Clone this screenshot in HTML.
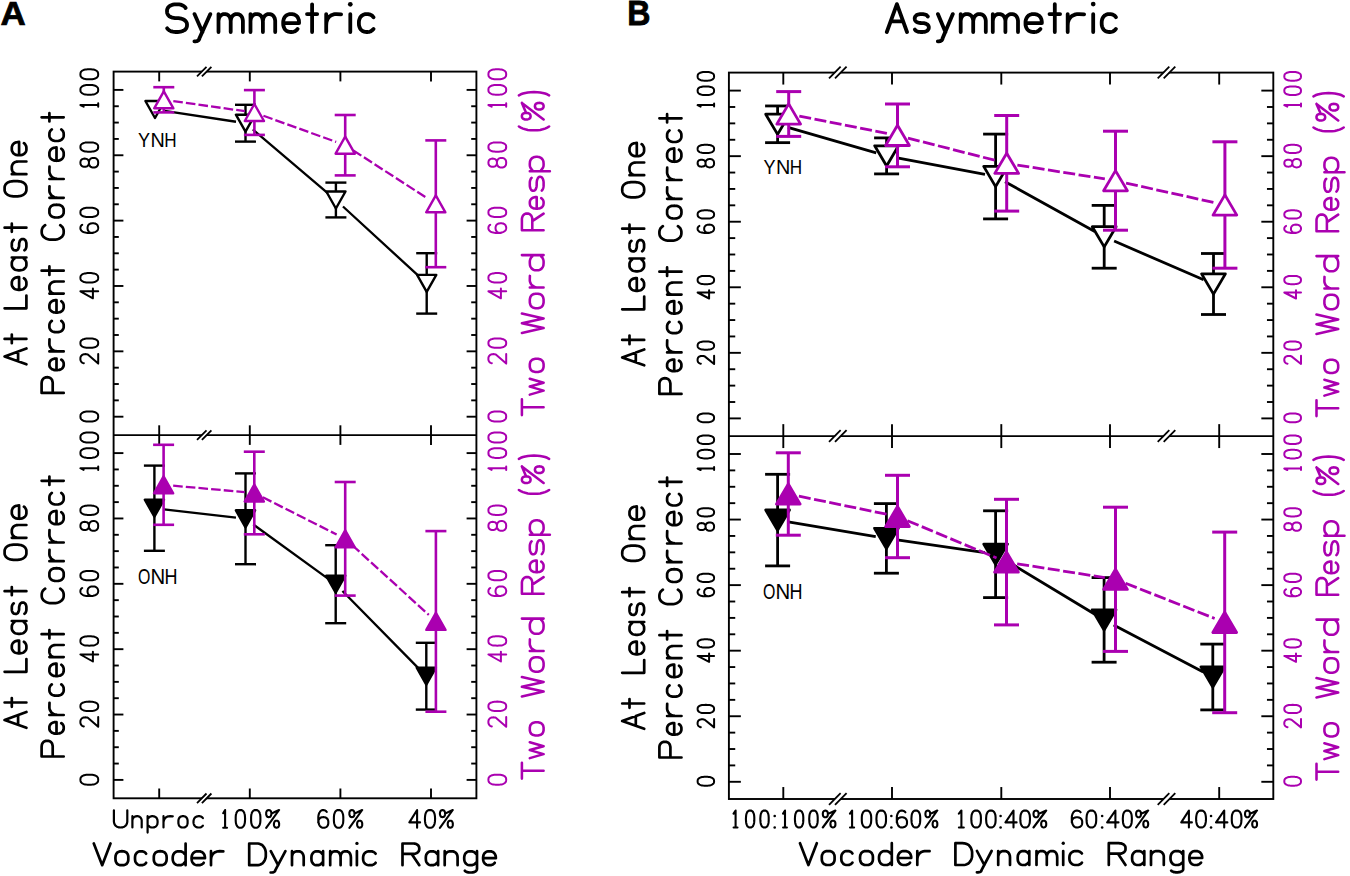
<!DOCTYPE html>
<html><head><meta charset="utf-8"><style>
html,body{margin:0;padding:0;background:#fff;overflow:hidden;width:1350px;height:876px;}
svg{display:block;}
text{font-family:"Liberation Sans",sans-serif;}
</style></head><body>
<svg width="1350" height="876" viewBox="0 0 1350 876">
<rect width="1350" height="876" fill="#fff"/>
<rect x="113.6" y="71.6" width="362.79999999999995" height="726.6999999999999" fill="none" stroke="#000" stroke-width="1.9"/>
<line x1="113.60" y1="435.10" x2="476.40" y2="435.10" stroke="#000" stroke-width="1.9" />
<line x1="159.20" y1="71.60" x2="159.20" y2="81.40" stroke="#000" stroke-width="1.9" />
<line x1="159.20" y1="425.30" x2="159.20" y2="444.90" stroke="#000" stroke-width="1.9" />
<line x1="159.20" y1="798.30" x2="159.20" y2="788.50" stroke="#000" stroke-width="1.9" />
<line x1="249.80" y1="71.60" x2="249.80" y2="81.40" stroke="#000" stroke-width="1.9" />
<line x1="249.80" y1="425.30" x2="249.80" y2="444.90" stroke="#000" stroke-width="1.9" />
<line x1="249.80" y1="798.30" x2="249.80" y2="788.50" stroke="#000" stroke-width="1.9" />
<line x1="340.40" y1="71.60" x2="340.40" y2="81.40" stroke="#000" stroke-width="1.9" />
<line x1="340.40" y1="425.30" x2="340.40" y2="444.90" stroke="#000" stroke-width="1.9" />
<line x1="340.40" y1="798.30" x2="340.40" y2="788.50" stroke="#000" stroke-width="1.9" />
<line x1="431.00" y1="71.60" x2="431.00" y2="81.40" stroke="#000" stroke-width="1.9" />
<line x1="431.00" y1="425.30" x2="431.00" y2="444.90" stroke="#000" stroke-width="1.9" />
<line x1="431.00" y1="798.30" x2="431.00" y2="788.50" stroke="#000" stroke-width="1.9" />
<line x1="113.60" y1="416.70" x2="123.40" y2="416.70" stroke="#000" stroke-width="1.9" />
<line x1="476.40" y1="416.70" x2="466.60" y2="416.70" stroke="#000" stroke-width="1.9" />
<line x1="113.60" y1="400.36" x2="118.80" y2="400.36" stroke="#000" stroke-width="1.9" />
<line x1="476.40" y1="400.36" x2="471.20" y2="400.36" stroke="#000" stroke-width="1.9" />
<line x1="113.60" y1="384.02" x2="118.80" y2="384.02" stroke="#000" stroke-width="1.9" />
<line x1="476.40" y1="384.02" x2="471.20" y2="384.02" stroke="#000" stroke-width="1.9" />
<line x1="113.60" y1="367.68" x2="118.80" y2="367.68" stroke="#000" stroke-width="1.9" />
<line x1="476.40" y1="367.68" x2="471.20" y2="367.68" stroke="#000" stroke-width="1.9" />
<line x1="113.60" y1="351.34" x2="123.40" y2="351.34" stroke="#000" stroke-width="1.9" />
<line x1="476.40" y1="351.34" x2="466.60" y2="351.34" stroke="#000" stroke-width="1.9" />
<line x1="113.60" y1="335.00" x2="118.80" y2="335.00" stroke="#000" stroke-width="1.9" />
<line x1="476.40" y1="335.00" x2="471.20" y2="335.00" stroke="#000" stroke-width="1.9" />
<line x1="113.60" y1="318.66" x2="118.80" y2="318.66" stroke="#000" stroke-width="1.9" />
<line x1="476.40" y1="318.66" x2="471.20" y2="318.66" stroke="#000" stroke-width="1.9" />
<line x1="113.60" y1="302.32" x2="118.80" y2="302.32" stroke="#000" stroke-width="1.9" />
<line x1="476.40" y1="302.32" x2="471.20" y2="302.32" stroke="#000" stroke-width="1.9" />
<line x1="113.60" y1="285.98" x2="123.40" y2="285.98" stroke="#000" stroke-width="1.9" />
<line x1="476.40" y1="285.98" x2="466.60" y2="285.98" stroke="#000" stroke-width="1.9" />
<line x1="113.60" y1="269.64" x2="118.80" y2="269.64" stroke="#000" stroke-width="1.9" />
<line x1="476.40" y1="269.64" x2="471.20" y2="269.64" stroke="#000" stroke-width="1.9" />
<line x1="113.60" y1="253.30" x2="118.80" y2="253.30" stroke="#000" stroke-width="1.9" />
<line x1="476.40" y1="253.30" x2="471.20" y2="253.30" stroke="#000" stroke-width="1.9" />
<line x1="113.60" y1="236.96" x2="118.80" y2="236.96" stroke="#000" stroke-width="1.9" />
<line x1="476.40" y1="236.96" x2="471.20" y2="236.96" stroke="#000" stroke-width="1.9" />
<line x1="113.60" y1="220.62" x2="123.40" y2="220.62" stroke="#000" stroke-width="1.9" />
<line x1="476.40" y1="220.62" x2="466.60" y2="220.62" stroke="#000" stroke-width="1.9" />
<line x1="113.60" y1="204.28" x2="118.80" y2="204.28" stroke="#000" stroke-width="1.9" />
<line x1="476.40" y1="204.28" x2="471.20" y2="204.28" stroke="#000" stroke-width="1.9" />
<line x1="113.60" y1="187.94" x2="118.80" y2="187.94" stroke="#000" stroke-width="1.9" />
<line x1="476.40" y1="187.94" x2="471.20" y2="187.94" stroke="#000" stroke-width="1.9" />
<line x1="113.60" y1="171.60" x2="118.80" y2="171.60" stroke="#000" stroke-width="1.9" />
<line x1="476.40" y1="171.60" x2="471.20" y2="171.60" stroke="#000" stroke-width="1.9" />
<line x1="113.60" y1="155.26" x2="123.40" y2="155.26" stroke="#000" stroke-width="1.9" />
<line x1="476.40" y1="155.26" x2="466.60" y2="155.26" stroke="#000" stroke-width="1.9" />
<line x1="113.60" y1="138.92" x2="118.80" y2="138.92" stroke="#000" stroke-width="1.9" />
<line x1="476.40" y1="138.92" x2="471.20" y2="138.92" stroke="#000" stroke-width="1.9" />
<line x1="113.60" y1="122.58" x2="118.80" y2="122.58" stroke="#000" stroke-width="1.9" />
<line x1="476.40" y1="122.58" x2="471.20" y2="122.58" stroke="#000" stroke-width="1.9" />
<line x1="113.60" y1="106.24" x2="118.80" y2="106.24" stroke="#000" stroke-width="1.9" />
<line x1="476.40" y1="106.24" x2="471.20" y2="106.24" stroke="#000" stroke-width="1.9" />
<line x1="113.60" y1="89.90" x2="123.40" y2="89.90" stroke="#000" stroke-width="1.9" />
<line x1="476.40" y1="89.90" x2="466.60" y2="89.90" stroke="#000" stroke-width="1.9" />
<line x1="113.60" y1="779.90" x2="123.40" y2="779.90" stroke="#000" stroke-width="1.9" />
<line x1="476.40" y1="779.90" x2="466.60" y2="779.90" stroke="#000" stroke-width="1.9" />
<line x1="113.60" y1="763.56" x2="118.80" y2="763.56" stroke="#000" stroke-width="1.9" />
<line x1="476.40" y1="763.56" x2="471.20" y2="763.56" stroke="#000" stroke-width="1.9" />
<line x1="113.60" y1="747.22" x2="118.80" y2="747.22" stroke="#000" stroke-width="1.9" />
<line x1="476.40" y1="747.22" x2="471.20" y2="747.22" stroke="#000" stroke-width="1.9" />
<line x1="113.60" y1="730.88" x2="118.80" y2="730.88" stroke="#000" stroke-width="1.9" />
<line x1="476.40" y1="730.88" x2="471.20" y2="730.88" stroke="#000" stroke-width="1.9" />
<line x1="113.60" y1="714.54" x2="123.40" y2="714.54" stroke="#000" stroke-width="1.9" />
<line x1="476.40" y1="714.54" x2="466.60" y2="714.54" stroke="#000" stroke-width="1.9" />
<line x1="113.60" y1="698.20" x2="118.80" y2="698.20" stroke="#000" stroke-width="1.9" />
<line x1="476.40" y1="698.20" x2="471.20" y2="698.20" stroke="#000" stroke-width="1.9" />
<line x1="113.60" y1="681.86" x2="118.80" y2="681.86" stroke="#000" stroke-width="1.9" />
<line x1="476.40" y1="681.86" x2="471.20" y2="681.86" stroke="#000" stroke-width="1.9" />
<line x1="113.60" y1="665.52" x2="118.80" y2="665.52" stroke="#000" stroke-width="1.9" />
<line x1="476.40" y1="665.52" x2="471.20" y2="665.52" stroke="#000" stroke-width="1.9" />
<line x1="113.60" y1="649.18" x2="123.40" y2="649.18" stroke="#000" stroke-width="1.9" />
<line x1="476.40" y1="649.18" x2="466.60" y2="649.18" stroke="#000" stroke-width="1.9" />
<line x1="113.60" y1="632.84" x2="118.80" y2="632.84" stroke="#000" stroke-width="1.9" />
<line x1="476.40" y1="632.84" x2="471.20" y2="632.84" stroke="#000" stroke-width="1.9" />
<line x1="113.60" y1="616.50" x2="118.80" y2="616.50" stroke="#000" stroke-width="1.9" />
<line x1="476.40" y1="616.50" x2="471.20" y2="616.50" stroke="#000" stroke-width="1.9" />
<line x1="113.60" y1="600.16" x2="118.80" y2="600.16" stroke="#000" stroke-width="1.9" />
<line x1="476.40" y1="600.16" x2="471.20" y2="600.16" stroke="#000" stroke-width="1.9" />
<line x1="113.60" y1="583.82" x2="123.40" y2="583.82" stroke="#000" stroke-width="1.9" />
<line x1="476.40" y1="583.82" x2="466.60" y2="583.82" stroke="#000" stroke-width="1.9" />
<line x1="113.60" y1="567.48" x2="118.80" y2="567.48" stroke="#000" stroke-width="1.9" />
<line x1="476.40" y1="567.48" x2="471.20" y2="567.48" stroke="#000" stroke-width="1.9" />
<line x1="113.60" y1="551.14" x2="118.80" y2="551.14" stroke="#000" stroke-width="1.9" />
<line x1="476.40" y1="551.14" x2="471.20" y2="551.14" stroke="#000" stroke-width="1.9" />
<line x1="113.60" y1="534.80" x2="118.80" y2="534.80" stroke="#000" stroke-width="1.9" />
<line x1="476.40" y1="534.80" x2="471.20" y2="534.80" stroke="#000" stroke-width="1.9" />
<line x1="113.60" y1="518.46" x2="123.40" y2="518.46" stroke="#000" stroke-width="1.9" />
<line x1="476.40" y1="518.46" x2="466.60" y2="518.46" stroke="#000" stroke-width="1.9" />
<line x1="113.60" y1="502.12" x2="118.80" y2="502.12" stroke="#000" stroke-width="1.9" />
<line x1="476.40" y1="502.12" x2="471.20" y2="502.12" stroke="#000" stroke-width="1.9" />
<line x1="113.60" y1="485.78" x2="118.80" y2="485.78" stroke="#000" stroke-width="1.9" />
<line x1="476.40" y1="485.78" x2="471.20" y2="485.78" stroke="#000" stroke-width="1.9" />
<line x1="113.60" y1="469.44" x2="118.80" y2="469.44" stroke="#000" stroke-width="1.9" />
<line x1="476.40" y1="469.44" x2="471.20" y2="469.44" stroke="#000" stroke-width="1.9" />
<line x1="113.60" y1="453.10" x2="123.40" y2="453.10" stroke="#000" stroke-width="1.9" />
<line x1="476.40" y1="453.10" x2="466.60" y2="453.10" stroke="#000" stroke-width="1.9" />
<polygon points="197.60,76.40 207.10,66.80 210.80,66.80 201.30,76.40" fill="#fff"/>
<line x1="197.00" y1="76.40" x2="206.50" y2="66.80" stroke="#000" stroke-width="1.8" />
<line x1="201.90" y1="76.40" x2="211.40" y2="66.80" stroke="#000" stroke-width="1.8" />
<polygon points="197.60,439.90 207.10,430.30 210.80,430.30 201.30,439.90" fill="#fff"/>
<line x1="197.00" y1="439.90" x2="206.50" y2="430.30" stroke="#000" stroke-width="1.8" />
<line x1="201.90" y1="439.90" x2="211.40" y2="430.30" stroke="#000" stroke-width="1.8" />
<polygon points="197.60,803.10 207.10,793.50 210.80,793.50 201.30,803.10" fill="#fff"/>
<line x1="197.00" y1="803.10" x2="206.50" y2="793.50" stroke="#000" stroke-width="1.8" />
<line x1="201.90" y1="803.10" x2="211.40" y2="793.50" stroke="#000" stroke-width="1.8" />
<rect x="728.9" y="72.6" width="544.4" height="726.4" fill="none" stroke="#000" stroke-width="1.9"/>
<line x1="728.90" y1="436.10" x2="1273.30" y2="436.10" stroke="#000" stroke-width="1.9" />
<line x1="783.30" y1="72.60" x2="783.30" y2="84.56" stroke="#000" stroke-width="1.9" />
<line x1="783.30" y1="424.14" x2="783.30" y2="448.06" stroke="#000" stroke-width="1.9" />
<line x1="783.30" y1="799.00" x2="783.30" y2="787.04" stroke="#000" stroke-width="1.9" />
<line x1="892.00" y1="72.60" x2="892.00" y2="84.56" stroke="#000" stroke-width="1.9" />
<line x1="892.00" y1="424.14" x2="892.00" y2="448.06" stroke="#000" stroke-width="1.9" />
<line x1="892.00" y1="799.00" x2="892.00" y2="787.04" stroke="#000" stroke-width="1.9" />
<line x1="1001.30" y1="72.60" x2="1001.30" y2="84.56" stroke="#000" stroke-width="1.9" />
<line x1="1001.30" y1="424.14" x2="1001.30" y2="448.06" stroke="#000" stroke-width="1.9" />
<line x1="1001.30" y1="799.00" x2="1001.30" y2="787.04" stroke="#000" stroke-width="1.9" />
<line x1="1110.00" y1="72.60" x2="1110.00" y2="84.56" stroke="#000" stroke-width="1.9" />
<line x1="1110.00" y1="424.14" x2="1110.00" y2="448.06" stroke="#000" stroke-width="1.9" />
<line x1="1110.00" y1="799.00" x2="1110.00" y2="787.04" stroke="#000" stroke-width="1.9" />
<line x1="1219.20" y1="72.60" x2="1219.20" y2="84.56" stroke="#000" stroke-width="1.9" />
<line x1="1219.20" y1="424.14" x2="1219.20" y2="448.06" stroke="#000" stroke-width="1.9" />
<line x1="1219.20" y1="799.00" x2="1219.20" y2="787.04" stroke="#000" stroke-width="1.9" />
<line x1="728.90" y1="418.40" x2="740.86" y2="418.40" stroke="#000" stroke-width="1.9" />
<line x1="1273.30" y1="418.40" x2="1261.34" y2="418.40" stroke="#000" stroke-width="1.9" />
<line x1="728.90" y1="402.01" x2="735.24" y2="402.01" stroke="#000" stroke-width="1.9" />
<line x1="1273.30" y1="402.01" x2="1266.96" y2="402.01" stroke="#000" stroke-width="1.9" />
<line x1="728.90" y1="385.62" x2="735.24" y2="385.62" stroke="#000" stroke-width="1.9" />
<line x1="1273.30" y1="385.62" x2="1266.96" y2="385.62" stroke="#000" stroke-width="1.9" />
<line x1="728.90" y1="369.23" x2="735.24" y2="369.23" stroke="#000" stroke-width="1.9" />
<line x1="1273.30" y1="369.23" x2="1266.96" y2="369.23" stroke="#000" stroke-width="1.9" />
<line x1="728.90" y1="352.84" x2="740.86" y2="352.84" stroke="#000" stroke-width="1.9" />
<line x1="1273.30" y1="352.84" x2="1261.34" y2="352.84" stroke="#000" stroke-width="1.9" />
<line x1="728.90" y1="336.45" x2="735.24" y2="336.45" stroke="#000" stroke-width="1.9" />
<line x1="1273.30" y1="336.45" x2="1266.96" y2="336.45" stroke="#000" stroke-width="1.9" />
<line x1="728.90" y1="320.06" x2="735.24" y2="320.06" stroke="#000" stroke-width="1.9" />
<line x1="1273.30" y1="320.06" x2="1266.96" y2="320.06" stroke="#000" stroke-width="1.9" />
<line x1="728.90" y1="303.67" x2="735.24" y2="303.67" stroke="#000" stroke-width="1.9" />
<line x1="1273.30" y1="303.67" x2="1266.96" y2="303.67" stroke="#000" stroke-width="1.9" />
<line x1="728.90" y1="287.28" x2="740.86" y2="287.28" stroke="#000" stroke-width="1.9" />
<line x1="1273.30" y1="287.28" x2="1261.34" y2="287.28" stroke="#000" stroke-width="1.9" />
<line x1="728.90" y1="270.89" x2="735.24" y2="270.89" stroke="#000" stroke-width="1.9" />
<line x1="1273.30" y1="270.89" x2="1266.96" y2="270.89" stroke="#000" stroke-width="1.9" />
<line x1="728.90" y1="254.50" x2="735.24" y2="254.50" stroke="#000" stroke-width="1.9" />
<line x1="1273.30" y1="254.50" x2="1266.96" y2="254.50" stroke="#000" stroke-width="1.9" />
<line x1="728.90" y1="238.11" x2="735.24" y2="238.11" stroke="#000" stroke-width="1.9" />
<line x1="1273.30" y1="238.11" x2="1266.96" y2="238.11" stroke="#000" stroke-width="1.9" />
<line x1="728.90" y1="221.72" x2="740.86" y2="221.72" stroke="#000" stroke-width="1.9" />
<line x1="1273.30" y1="221.72" x2="1261.34" y2="221.72" stroke="#000" stroke-width="1.9" />
<line x1="728.90" y1="205.33" x2="735.24" y2="205.33" stroke="#000" stroke-width="1.9" />
<line x1="1273.30" y1="205.33" x2="1266.96" y2="205.33" stroke="#000" stroke-width="1.9" />
<line x1="728.90" y1="188.94" x2="735.24" y2="188.94" stroke="#000" stroke-width="1.9" />
<line x1="1273.30" y1="188.94" x2="1266.96" y2="188.94" stroke="#000" stroke-width="1.9" />
<line x1="728.90" y1="172.55" x2="735.24" y2="172.55" stroke="#000" stroke-width="1.9" />
<line x1="1273.30" y1="172.55" x2="1266.96" y2="172.55" stroke="#000" stroke-width="1.9" />
<line x1="728.90" y1="156.16" x2="740.86" y2="156.16" stroke="#000" stroke-width="1.9" />
<line x1="1273.30" y1="156.16" x2="1261.34" y2="156.16" stroke="#000" stroke-width="1.9" />
<line x1="728.90" y1="139.77" x2="735.24" y2="139.77" stroke="#000" stroke-width="1.9" />
<line x1="1273.30" y1="139.77" x2="1266.96" y2="139.77" stroke="#000" stroke-width="1.9" />
<line x1="728.90" y1="123.38" x2="735.24" y2="123.38" stroke="#000" stroke-width="1.9" />
<line x1="1273.30" y1="123.38" x2="1266.96" y2="123.38" stroke="#000" stroke-width="1.9" />
<line x1="728.90" y1="106.99" x2="735.24" y2="106.99" stroke="#000" stroke-width="1.9" />
<line x1="1273.30" y1="106.99" x2="1266.96" y2="106.99" stroke="#000" stroke-width="1.9" />
<line x1="728.90" y1="90.60" x2="740.86" y2="90.60" stroke="#000" stroke-width="1.9" />
<line x1="1273.30" y1="90.60" x2="1261.34" y2="90.60" stroke="#000" stroke-width="1.9" />
<line x1="728.90" y1="781.80" x2="740.86" y2="781.80" stroke="#000" stroke-width="1.9" />
<line x1="1273.30" y1="781.80" x2="1261.34" y2="781.80" stroke="#000" stroke-width="1.9" />
<line x1="728.90" y1="765.41" x2="735.24" y2="765.41" stroke="#000" stroke-width="1.9" />
<line x1="1273.30" y1="765.41" x2="1266.96" y2="765.41" stroke="#000" stroke-width="1.9" />
<line x1="728.90" y1="749.02" x2="735.24" y2="749.02" stroke="#000" stroke-width="1.9" />
<line x1="1273.30" y1="749.02" x2="1266.96" y2="749.02" stroke="#000" stroke-width="1.9" />
<line x1="728.90" y1="732.63" x2="735.24" y2="732.63" stroke="#000" stroke-width="1.9" />
<line x1="1273.30" y1="732.63" x2="1266.96" y2="732.63" stroke="#000" stroke-width="1.9" />
<line x1="728.90" y1="716.24" x2="740.86" y2="716.24" stroke="#000" stroke-width="1.9" />
<line x1="1273.30" y1="716.24" x2="1261.34" y2="716.24" stroke="#000" stroke-width="1.9" />
<line x1="728.90" y1="699.85" x2="735.24" y2="699.85" stroke="#000" stroke-width="1.9" />
<line x1="1273.30" y1="699.85" x2="1266.96" y2="699.85" stroke="#000" stroke-width="1.9" />
<line x1="728.90" y1="683.46" x2="735.24" y2="683.46" stroke="#000" stroke-width="1.9" />
<line x1="1273.30" y1="683.46" x2="1266.96" y2="683.46" stroke="#000" stroke-width="1.9" />
<line x1="728.90" y1="667.07" x2="735.24" y2="667.07" stroke="#000" stroke-width="1.9" />
<line x1="1273.30" y1="667.07" x2="1266.96" y2="667.07" stroke="#000" stroke-width="1.9" />
<line x1="728.90" y1="650.68" x2="740.86" y2="650.68" stroke="#000" stroke-width="1.9" />
<line x1="1273.30" y1="650.68" x2="1261.34" y2="650.68" stroke="#000" stroke-width="1.9" />
<line x1="728.90" y1="634.29" x2="735.24" y2="634.29" stroke="#000" stroke-width="1.9" />
<line x1="1273.30" y1="634.29" x2="1266.96" y2="634.29" stroke="#000" stroke-width="1.9" />
<line x1="728.90" y1="617.90" x2="735.24" y2="617.90" stroke="#000" stroke-width="1.9" />
<line x1="1273.30" y1="617.90" x2="1266.96" y2="617.90" stroke="#000" stroke-width="1.9" />
<line x1="728.90" y1="601.51" x2="735.24" y2="601.51" stroke="#000" stroke-width="1.9" />
<line x1="1273.30" y1="601.51" x2="1266.96" y2="601.51" stroke="#000" stroke-width="1.9" />
<line x1="728.90" y1="585.12" x2="740.86" y2="585.12" stroke="#000" stroke-width="1.9" />
<line x1="1273.30" y1="585.12" x2="1261.34" y2="585.12" stroke="#000" stroke-width="1.9" />
<line x1="728.90" y1="568.73" x2="735.24" y2="568.73" stroke="#000" stroke-width="1.9" />
<line x1="1273.30" y1="568.73" x2="1266.96" y2="568.73" stroke="#000" stroke-width="1.9" />
<line x1="728.90" y1="552.34" x2="735.24" y2="552.34" stroke="#000" stroke-width="1.9" />
<line x1="1273.30" y1="552.34" x2="1266.96" y2="552.34" stroke="#000" stroke-width="1.9" />
<line x1="728.90" y1="535.95" x2="735.24" y2="535.95" stroke="#000" stroke-width="1.9" />
<line x1="1273.30" y1="535.95" x2="1266.96" y2="535.95" stroke="#000" stroke-width="1.9" />
<line x1="728.90" y1="519.56" x2="740.86" y2="519.56" stroke="#000" stroke-width="1.9" />
<line x1="1273.30" y1="519.56" x2="1261.34" y2="519.56" stroke="#000" stroke-width="1.9" />
<line x1="728.90" y1="503.17" x2="735.24" y2="503.17" stroke="#000" stroke-width="1.9" />
<line x1="1273.30" y1="503.17" x2="1266.96" y2="503.17" stroke="#000" stroke-width="1.9" />
<line x1="728.90" y1="486.78" x2="735.24" y2="486.78" stroke="#000" stroke-width="1.9" />
<line x1="1273.30" y1="486.78" x2="1266.96" y2="486.78" stroke="#000" stroke-width="1.9" />
<line x1="728.90" y1="470.39" x2="735.24" y2="470.39" stroke="#000" stroke-width="1.9" />
<line x1="1273.30" y1="470.39" x2="1266.96" y2="470.39" stroke="#000" stroke-width="1.9" />
<line x1="728.90" y1="454.00" x2="740.86" y2="454.00" stroke="#000" stroke-width="1.9" />
<line x1="1273.30" y1="454.00" x2="1261.34" y2="454.00" stroke="#000" stroke-width="1.9" />
<polygon points="829.62,78.46 841.21,66.74 845.98,66.74 834.39,78.46" fill="#fff"/>
<line x1="829.02" y1="78.46" x2="840.61" y2="66.74" stroke="#000" stroke-width="1.8" />
<line x1="834.99" y1="78.46" x2="846.58" y2="66.74" stroke="#000" stroke-width="1.8" />
<polygon points="829.62,441.96 841.21,430.24 845.98,430.24 834.39,441.96" fill="#fff"/>
<line x1="829.02" y1="441.96" x2="840.61" y2="430.24" stroke="#000" stroke-width="1.8" />
<line x1="834.99" y1="441.96" x2="846.58" y2="430.24" stroke="#000" stroke-width="1.8" />
<polygon points="829.62,804.86 841.21,793.14 845.98,793.14 834.39,804.86" fill="#fff"/>
<line x1="829.02" y1="804.86" x2="840.61" y2="793.14" stroke="#000" stroke-width="1.8" />
<line x1="834.99" y1="804.86" x2="846.58" y2="793.14" stroke="#000" stroke-width="1.8" />
<polygon points="1158.32,78.46 1169.91,66.74 1174.68,66.74 1163.09,78.46" fill="#fff"/>
<line x1="1157.72" y1="78.46" x2="1169.31" y2="66.74" stroke="#000" stroke-width="1.8" />
<line x1="1163.69" y1="78.46" x2="1175.28" y2="66.74" stroke="#000" stroke-width="1.8" />
<polygon points="1158.32,441.96 1169.91,430.24 1174.68,430.24 1163.09,441.96" fill="#fff"/>
<line x1="1157.72" y1="441.96" x2="1169.31" y2="430.24" stroke="#000" stroke-width="1.8" />
<line x1="1163.69" y1="441.96" x2="1175.28" y2="430.24" stroke="#000" stroke-width="1.8" />
<polygon points="1158.32,804.86 1169.91,793.14 1174.68,793.14 1163.09,804.86" fill="#fff"/>
<line x1="1157.72" y1="804.86" x2="1169.31" y2="793.14" stroke="#000" stroke-width="1.8" />
<line x1="1163.69" y1="804.86" x2="1175.28" y2="793.14" stroke="#000" stroke-width="1.8" />
<path d="M164.49,110.94 L236.01,121.76 M252.82,129.42 L328.58,193.78 M342.97,206.49 L419.63,276.91" fill="none" stroke="#000" stroke-width="2.3" />
<line x1="245.50" y1="104.80" x2="245.50" y2="141.60" stroke="#000" stroke-width="2.4" />
<line x1="235.00" y1="104.80" x2="256.00" y2="104.80" stroke="#000" stroke-width="2.4" />
<line x1="235.00" y1="141.60" x2="256.00" y2="141.60" stroke="#000" stroke-width="2.4" />
<line x1="335.90" y1="182.60" x2="335.90" y2="217.40" stroke="#000" stroke-width="2.4" />
<line x1="325.40" y1="182.60" x2="346.40" y2="182.60" stroke="#000" stroke-width="2.4" />
<line x1="325.40" y1="217.40" x2="346.40" y2="217.40" stroke="#000" stroke-width="2.4" />
<line x1="426.70" y1="253.20" x2="426.70" y2="313.60" stroke="#000" stroke-width="2.4" />
<line x1="416.20" y1="253.20" x2="437.20" y2="253.20" stroke="#000" stroke-width="2.4" />
<line x1="416.20" y1="313.60" x2="437.20" y2="313.60" stroke="#000" stroke-width="2.4" />
<polygon points="145.40,101.00 164.60,101.00 155.00,118.00" fill="#fff" stroke="#000" stroke-width="2.4" stroke-linejoin="round"/>
<polygon points="235.90,114.70 255.10,114.70 245.50,131.70" fill="#fff" stroke="#000" stroke-width="2.4" stroke-linejoin="round"/>
<polygon points="326.30,191.50 345.50,191.50 335.90,208.50" fill="#fff" stroke="#000" stroke-width="2.4" stroke-linejoin="round"/>
<polygon points="417.10,274.90 436.30,274.90 426.70,291.90" fill="#fff" stroke="#000" stroke-width="2.4" stroke-linejoin="round"/>
<path d="M173.31,101.13 L244.89,111.17 M263.43,115.75 L336.17,141.95 M353.26,150.41 L427.74,198.59" fill="none" stroke="#aa00b0" stroke-width="2.3" stroke-dasharray="9.6,3.1"/>
<line x1="163.80" y1="87.20" x2="163.80" y2="112.40" stroke="#aa00b0" stroke-width="2.6" />
<line x1="153.30" y1="87.20" x2="174.30" y2="87.20" stroke="#aa00b0" stroke-width="2.6" />
<line x1="153.30" y1="112.40" x2="174.30" y2="112.40" stroke="#aa00b0" stroke-width="2.6" />
<line x1="254.40" y1="90.10" x2="254.40" y2="134.90" stroke="#aa00b0" stroke-width="2.6" />
<line x1="243.90" y1="90.10" x2="264.90" y2="90.10" stroke="#aa00b0" stroke-width="2.6" />
<line x1="243.90" y1="134.90" x2="264.90" y2="134.90" stroke="#aa00b0" stroke-width="2.6" />
<line x1="345.20" y1="115.00" x2="345.20" y2="175.40" stroke="#aa00b0" stroke-width="2.6" />
<line x1="334.70" y1="115.00" x2="355.70" y2="115.00" stroke="#aa00b0" stroke-width="2.6" />
<line x1="334.70" y1="175.40" x2="355.70" y2="175.40" stroke="#aa00b0" stroke-width="2.6" />
<line x1="435.80" y1="140.40" x2="435.80" y2="267.20" stroke="#aa00b0" stroke-width="2.6" />
<line x1="425.30" y1="140.40" x2="446.30" y2="140.40" stroke="#aa00b0" stroke-width="2.6" />
<line x1="425.30" y1="267.20" x2="446.30" y2="267.20" stroke="#aa00b0" stroke-width="2.6" />
<polygon points="163.80,91.30 154.20,108.30 173.40,108.30" fill="#fff" stroke="#aa00b0" stroke-width="2.4" stroke-linejoin="round"/>
<polygon points="254.40,104.00 244.80,121.00 264.00,121.00" fill="#fff" stroke="#aa00b0" stroke-width="2.4" stroke-linejoin="round"/>
<polygon points="345.20,136.70 335.60,153.70 354.80,153.70" fill="#fff" stroke="#aa00b0" stroke-width="2.4" stroke-linejoin="round"/>
<polygon points="435.80,195.30 426.20,212.30 445.40,212.30" fill="#fff" stroke="#aa00b0" stroke-width="2.4" stroke-linejoin="round"/>
<path d="M163.94,509.31 L235.96,517.69 M253.27,524.44 L327.93,578.56 M342.44,591.04 L419.56,669.36" fill="none" stroke="#000" stroke-width="2.3" />
<line x1="154.40" y1="465.60" x2="154.40" y2="550.80" stroke="#000" stroke-width="2.4" />
<line x1="143.90" y1="465.60" x2="164.90" y2="465.60" stroke="#000" stroke-width="2.4" />
<line x1="143.90" y1="550.80" x2="164.90" y2="550.80" stroke="#000" stroke-width="2.4" />
<line x1="245.50" y1="473.40" x2="245.50" y2="564.20" stroke="#000" stroke-width="2.4" />
<line x1="235.00" y1="473.40" x2="256.00" y2="473.40" stroke="#000" stroke-width="2.4" />
<line x1="235.00" y1="564.20" x2="256.00" y2="564.20" stroke="#000" stroke-width="2.4" />
<line x1="335.70" y1="545.20" x2="335.70" y2="623.20" stroke="#000" stroke-width="2.4" />
<line x1="325.20" y1="545.20" x2="346.20" y2="545.20" stroke="#000" stroke-width="2.4" />
<line x1="325.20" y1="623.20" x2="346.20" y2="623.20" stroke="#000" stroke-width="2.4" />
<line x1="426.30" y1="642.80" x2="426.30" y2="709.60" stroke="#000" stroke-width="2.4" />
<line x1="415.80" y1="642.80" x2="436.80" y2="642.80" stroke="#000" stroke-width="2.4" />
<line x1="415.80" y1="709.60" x2="436.80" y2="709.60" stroke="#000" stroke-width="2.4" />
<polygon points="144.80,499.70 164.00,499.70 154.40,516.70" fill="#000" stroke="#000" stroke-width="2.4" stroke-linejoin="round"/>
<polygon points="235.90,510.30 255.10,510.30 245.50,527.30" fill="#000" stroke="#000" stroke-width="2.4" stroke-linejoin="round"/>
<polygon points="326.10,575.70 345.30,575.70 335.70,592.70" fill="#000" stroke="#000" stroke-width="2.4" stroke-linejoin="round"/>
<polygon points="416.70,667.70 435.90,667.70 426.30,684.70" fill="#000" stroke="#000" stroke-width="2.4" stroke-linejoin="round"/>
<path d="M173.16,485.66 L244.74,492.14 M262.87,497.32 L336.63,534.48 M352.30,545.26 L428.80,614.94" fill="none" stroke="#aa00b0" stroke-width="2.3" stroke-dasharray="9.6,3.1"/>
<line x1="163.60" y1="444.80" x2="163.60" y2="524.80" stroke="#aa00b0" stroke-width="2.6" />
<line x1="153.10" y1="444.80" x2="174.10" y2="444.80" stroke="#aa00b0" stroke-width="2.6" />
<line x1="153.10" y1="524.80" x2="174.10" y2="524.80" stroke="#aa00b0" stroke-width="2.6" />
<line x1="254.30" y1="451.70" x2="254.30" y2="534.30" stroke="#aa00b0" stroke-width="2.6" />
<line x1="243.80" y1="451.70" x2="264.80" y2="451.70" stroke="#aa00b0" stroke-width="2.6" />
<line x1="243.80" y1="534.30" x2="264.80" y2="534.30" stroke="#aa00b0" stroke-width="2.6" />
<line x1="345.20" y1="482.00" x2="345.20" y2="595.60" stroke="#aa00b0" stroke-width="2.6" />
<line x1="334.70" y1="482.00" x2="355.70" y2="482.00" stroke="#aa00b0" stroke-width="2.6" />
<line x1="334.70" y1="595.60" x2="355.70" y2="595.60" stroke="#aa00b0" stroke-width="2.6" />
<line x1="435.90" y1="531.10" x2="435.90" y2="711.70" stroke="#aa00b0" stroke-width="2.6" />
<line x1="425.40" y1="531.10" x2="446.40" y2="531.10" stroke="#aa00b0" stroke-width="2.6" />
<line x1="425.40" y1="711.70" x2="446.40" y2="711.70" stroke="#aa00b0" stroke-width="2.6" />
<polygon points="163.60,476.30 154.00,493.30 173.20,493.30" fill="#aa00b0" stroke="#aa00b0" stroke-width="2.4" stroke-linejoin="round"/>
<polygon points="254.30,484.50 244.70,501.50 263.90,501.50" fill="#aa00b0" stroke="#aa00b0" stroke-width="2.4" stroke-linejoin="round"/>
<polygon points="345.20,530.30 335.60,547.30 354.80,547.30" fill="#aa00b0" stroke="#aa00b0" stroke-width="2.4" stroke-linejoin="round"/>
<polygon points="435.90,612.90 426.30,629.90 445.50,629.90" fill="#aa00b0" stroke="#aa00b0" stroke-width="2.4" stroke-linejoin="round"/>
<path d="M787.97,127.31 L876.23,152.89 M897.21,157.91 L984.99,174.49 M1005.04,181.74 L1094.76,231.56 M1114.11,241.08 L1203.59,279.72" fill="none" stroke="#000" stroke-width="2.8" />
<line x1="777.60" y1="105.95" x2="777.60" y2="142.65" stroke="#000" stroke-width="2.8" />
<line x1="765.10" y1="105.95" x2="790.10" y2="105.95" stroke="#000" stroke-width="2.8" />
<line x1="765.10" y1="142.65" x2="790.10" y2="142.65" stroke="#000" stroke-width="2.8" />
<line x1="886.60" y1="137.90" x2="886.60" y2="173.90" stroke="#000" stroke-width="2.8" />
<line x1="874.10" y1="137.90" x2="899.10" y2="137.90" stroke="#000" stroke-width="2.8" />
<line x1="874.10" y1="173.90" x2="899.10" y2="173.90" stroke="#000" stroke-width="2.8" />
<line x1="995.60" y1="134.10" x2="995.60" y2="218.90" stroke="#000" stroke-width="2.8" />
<line x1="983.10" y1="134.10" x2="1008.10" y2="134.10" stroke="#000" stroke-width="2.8" />
<line x1="983.10" y1="218.90" x2="1008.10" y2="218.90" stroke="#000" stroke-width="2.8" />
<line x1="1104.20" y1="205.40" x2="1104.20" y2="268.20" stroke="#000" stroke-width="2.8" />
<line x1="1091.70" y1="205.40" x2="1116.70" y2="205.40" stroke="#000" stroke-width="2.8" />
<line x1="1091.70" y1="268.20" x2="1116.70" y2="268.20" stroke="#000" stroke-width="2.8" />
<line x1="1213.50" y1="253.50" x2="1213.50" y2="314.50" stroke="#000" stroke-width="2.8" />
<line x1="1201.00" y1="253.50" x2="1226.00" y2="253.50" stroke="#000" stroke-width="2.8" />
<line x1="1201.00" y1="314.50" x2="1226.00" y2="314.50" stroke="#000" stroke-width="2.8" />
<polygon points="765.70,114.20 789.50,114.20 777.60,134.40" fill="#fff" stroke="#000" stroke-width="2.8" stroke-linejoin="round"/>
<polygon points="874.70,145.80 898.50,145.80 886.60,166.00" fill="#fff" stroke="#000" stroke-width="2.8" stroke-linejoin="round"/>
<polygon points="983.70,166.40 1007.50,166.40 995.60,186.60" fill="#fff" stroke="#000" stroke-width="2.8" stroke-linejoin="round"/>
<polygon points="1092.30,226.70 1116.10,226.70 1104.20,246.90" fill="#fff" stroke="#000" stroke-width="2.8" stroke-linejoin="round"/>
<polygon points="1201.60,273.90 1225.40,273.90 1213.50,294.10" fill="#fff" stroke="#000" stroke-width="2.8" stroke-linejoin="round"/>
<path d="M799.30,116.08 L886.90,133.32 M907.96,138.07 L996.24,160.63 M1017.36,165.01 L1104.84,178.99 M1126.04,183.04 L1214.36,202.66" fill="none" stroke="#aa00b0" stroke-width="2.8" stroke-dasharray="12,3.5"/>
<line x1="788.70" y1="91.60" x2="788.70" y2="136.40" stroke="#aa00b0" stroke-width="3.0" />
<line x1="776.20" y1="91.60" x2="801.20" y2="91.60" stroke="#aa00b0" stroke-width="3.0" />
<line x1="776.20" y1="136.40" x2="801.20" y2="136.40" stroke="#aa00b0" stroke-width="3.0" />
<line x1="897.50" y1="104.00" x2="897.50" y2="166.80" stroke="#aa00b0" stroke-width="3.0" />
<line x1="885.00" y1="104.00" x2="910.00" y2="104.00" stroke="#aa00b0" stroke-width="3.0" />
<line x1="885.00" y1="166.80" x2="910.00" y2="166.80" stroke="#aa00b0" stroke-width="3.0" />
<line x1="1006.70" y1="115.50" x2="1006.70" y2="211.10" stroke="#aa00b0" stroke-width="3.0" />
<line x1="994.20" y1="115.50" x2="1019.20" y2="115.50" stroke="#aa00b0" stroke-width="3.0" />
<line x1="994.20" y1="211.10" x2="1019.20" y2="211.10" stroke="#aa00b0" stroke-width="3.0" />
<line x1="1115.50" y1="131.20" x2="1115.50" y2="230.20" stroke="#aa00b0" stroke-width="3.0" />
<line x1="1103.00" y1="131.20" x2="1128.00" y2="131.20" stroke="#aa00b0" stroke-width="3.0" />
<line x1="1103.00" y1="230.20" x2="1128.00" y2="230.20" stroke="#aa00b0" stroke-width="3.0" />
<line x1="1224.90" y1="141.80" x2="1224.90" y2="268.20" stroke="#aa00b0" stroke-width="3.0" />
<line x1="1212.40" y1="141.80" x2="1237.40" y2="141.80" stroke="#aa00b0" stroke-width="3.0" />
<line x1="1212.40" y1="268.20" x2="1237.40" y2="268.20" stroke="#aa00b0" stroke-width="3.0" />
<polygon points="788.70,103.90 776.80,124.10 800.60,124.10" fill="#fff" stroke="#aa00b0" stroke-width="2.8" stroke-linejoin="round"/>
<polygon points="897.50,125.30 885.60,145.50 909.40,145.50" fill="#fff" stroke="#aa00b0" stroke-width="2.8" stroke-linejoin="round"/>
<polygon points="1006.70,153.20 994.80,173.40 1018.60,173.40" fill="#fff" stroke="#aa00b0" stroke-width="2.8" stroke-linejoin="round"/>
<polygon points="1115.50,170.60 1103.60,190.80 1127.40,190.80" fill="#fff" stroke="#aa00b0" stroke-width="2.8" stroke-linejoin="round"/>
<polygon points="1224.90,194.90 1213.00,215.10 1236.80,215.10" fill="#fff" stroke="#aa00b0" stroke-width="2.8" stroke-linejoin="round"/>
<path d="M788.25,521.89 L875.75,536.61 M897.09,539.95 L984.91,552.65 M1004.84,559.79 L1094.86,614.31 M1113.66,624.92 L1203.24,671.98" fill="none" stroke="#000" stroke-width="2.8" />
<line x1="777.60" y1="474.30" x2="777.60" y2="565.90" stroke="#000" stroke-width="2.8" />
<line x1="765.10" y1="474.30" x2="790.10" y2="474.30" stroke="#000" stroke-width="2.8" />
<line x1="765.10" y1="565.90" x2="790.10" y2="565.90" stroke="#000" stroke-width="2.8" />
<line x1="886.40" y1="503.60" x2="886.40" y2="573.20" stroke="#000" stroke-width="2.8" />
<line x1="873.90" y1="503.60" x2="898.90" y2="503.60" stroke="#000" stroke-width="2.8" />
<line x1="873.90" y1="573.20" x2="898.90" y2="573.20" stroke="#000" stroke-width="2.8" />
<line x1="995.60" y1="510.80" x2="995.60" y2="597.60" stroke="#000" stroke-width="2.8" />
<line x1="983.10" y1="510.80" x2="1008.10" y2="510.80" stroke="#000" stroke-width="2.8" />
<line x1="983.10" y1="597.60" x2="1008.10" y2="597.60" stroke="#000" stroke-width="2.8" />
<line x1="1104.10" y1="577.60" x2="1104.10" y2="662.20" stroke="#000" stroke-width="2.8" />
<line x1="1091.60" y1="577.60" x2="1116.60" y2="577.60" stroke="#000" stroke-width="2.8" />
<line x1="1091.60" y1="662.20" x2="1116.60" y2="662.20" stroke="#000" stroke-width="2.8" />
<line x1="1212.80" y1="644.10" x2="1212.80" y2="709.90" stroke="#000" stroke-width="2.8" />
<line x1="1200.30" y1="644.10" x2="1225.30" y2="644.10" stroke="#000" stroke-width="2.8" />
<line x1="1200.30" y1="709.90" x2="1225.30" y2="709.90" stroke="#000" stroke-width="2.8" />
<polygon points="765.70,510.00 789.50,510.00 777.60,530.20" fill="#000" stroke="#000" stroke-width="2.8" stroke-linejoin="round"/>
<polygon points="874.50,528.30 898.30,528.30 886.40,548.50" fill="#000" stroke="#000" stroke-width="2.8" stroke-linejoin="round"/>
<polygon points="983.70,544.10 1007.50,544.10 995.60,564.30" fill="#000" stroke="#000" stroke-width="2.8" stroke-linejoin="round"/>
<polygon points="1092.20,609.80 1116.00,609.80 1104.10,630.00" fill="#000" stroke="#000" stroke-width="2.8" stroke-linejoin="round"/>
<polygon points="1200.90,666.90 1224.70,666.90 1212.80,687.10" fill="#000" stroke="#000" stroke-width="2.8" stroke-linejoin="round"/>
<path d="M798.88,496.18 L886.92,514.32 M907.46,520.67 L996.54,557.93 M1017.17,563.78 L1104.83,577.62 M1125.55,583.26 L1214.65,618.44" fill="none" stroke="#aa00b0" stroke-width="2.8" stroke-dasharray="12,3.5"/>
<line x1="788.30" y1="452.80" x2="788.30" y2="535.20" stroke="#aa00b0" stroke-width="3.0" />
<line x1="775.80" y1="452.80" x2="800.80" y2="452.80" stroke="#aa00b0" stroke-width="3.0" />
<line x1="775.80" y1="535.20" x2="800.80" y2="535.20" stroke="#aa00b0" stroke-width="3.0" />
<line x1="897.50" y1="475.30" x2="897.50" y2="557.70" stroke="#aa00b0" stroke-width="3.0" />
<line x1="885.00" y1="475.30" x2="910.00" y2="475.30" stroke="#aa00b0" stroke-width="3.0" />
<line x1="885.00" y1="557.70" x2="910.00" y2="557.70" stroke="#aa00b0" stroke-width="3.0" />
<line x1="1006.50" y1="499.30" x2="1006.50" y2="624.90" stroke="#aa00b0" stroke-width="3.0" />
<line x1="994.00" y1="499.30" x2="1019.00" y2="499.30" stroke="#aa00b0" stroke-width="3.0" />
<line x1="994.00" y1="624.90" x2="1019.00" y2="624.90" stroke="#aa00b0" stroke-width="3.0" />
<line x1="1115.50" y1="507.20" x2="1115.50" y2="651.40" stroke="#aa00b0" stroke-width="3.0" />
<line x1="1103.00" y1="507.20" x2="1128.00" y2="507.20" stroke="#aa00b0" stroke-width="3.0" />
<line x1="1103.00" y1="651.40" x2="1128.00" y2="651.40" stroke="#aa00b0" stroke-width="3.0" />
<line x1="1224.70" y1="532.10" x2="1224.70" y2="712.70" stroke="#aa00b0" stroke-width="3.0" />
<line x1="1212.20" y1="532.10" x2="1237.20" y2="532.10" stroke="#aa00b0" stroke-width="3.0" />
<line x1="1212.20" y1="712.70" x2="1237.20" y2="712.70" stroke="#aa00b0" stroke-width="3.0" />
<polygon points="788.30,483.90 776.40,504.10 800.20,504.10" fill="#aa00b0" stroke="#aa00b0" stroke-width="2.8" stroke-linejoin="round"/>
<polygon points="897.50,506.40 885.60,526.60 909.40,526.60" fill="#aa00b0" stroke="#aa00b0" stroke-width="2.8" stroke-linejoin="round"/>
<polygon points="1006.50,552.00 994.60,572.20 1018.40,572.20" fill="#aa00b0" stroke="#aa00b0" stroke-width="2.8" stroke-linejoin="round"/>
<polygon points="1115.50,569.20 1103.60,589.40 1127.40,589.40" fill="#aa00b0" stroke="#aa00b0" stroke-width="2.8" stroke-linejoin="round"/>
<polygon points="1224.70,612.30 1212.80,632.50 1236.60,632.50" fill="#aa00b0" stroke="#aa00b0" stroke-width="2.8" stroke-linejoin="round"/>
<text transform="matrix(0.3493,0,0,0.3362,0.53,24.80)" font-size="100" font-weight="bold" fill="#000" stroke="#000" stroke-width="2.2">A</text>
<text transform="matrix(0.3213,0,0,0.3420,627.31,25.00)" font-size="100" font-weight="bold" fill="#000" stroke="#000" stroke-width="2.2">B</text>
<path d="M185.6,8.0L185.0,7.2L184.3,6.5L183.5,5.9L182.6,5.4L181.5,4.9L180.4,4.6L179.1,4.4L177.6,4.3L175.8,4.3L174.3,4.4L173.0,4.6L171.8,5.0L170.8,5.4L169.9,5.9L169.0,6.5L168.4,7.2L167.8,8.0L167.4,8.8L167.1,9.8L167.0,10.9L167.1,12.2L167.2,13.2L167.6,14.1L168.1,14.9L168.7,15.6L169.4,16.3L170.3,16.8L171.3,17.3L172.4,17.7L173.7,17.9L175.0,18.1L176.7,18.1L176.7,18.2L178.5,18.2L179.9,18.4L181.2,18.6L182.4,19.0L183.5,19.5L184.4,20.0L185.2,20.7L185.9,21.4L186.4,22.2L186.8,23.1L187.0,24.1L187.0,25.4L186.9,26.5L186.6,27.5L186.2,28.3L185.6,29.1L184.9,29.8L184.0,30.4L183.0,30.9L181.9,31.3L180.6,31.7L179.2,31.9L177.7,32.0L175.7,32.0L174.2,31.9L172.8,31.7L171.6,31.4L170.4,30.9L169.4,30.4L168.6,29.8L167.8,29.1L167.2,28.3 M194.5,14.1L202.4,32.0 M210.3,14.1L199.2,38.8L199.3,38.9L198.9,39.7L198.4,40.4L197.6,40.8L196.7,41.2L195.6,41.3L194.4,41.3 M218.5,32.0L218.5,14.1 M218.5,20.9L218.8,19.0L219.1,18.0L219.5,17.2L219.9,16.4L220.5,15.7L221.1,15.2L221.8,14.7L222.5,14.4L223.4,14.2L224.4,14.1L225.5,14.1L226.4,14.3L227.1,14.6L227.9,15.0L228.5,15.5L229.1,16.1L229.6,16.9L230.0,17.7L230.3,18.6L230.5,19.6L230.7,20.8L230.7,22.2L230.7,32.0 M230.7,20.9L231.0,19.0L231.3,18.0L231.7,17.2L232.1,16.4L232.7,15.7L233.3,15.2L234.0,14.7L234.7,14.4L235.6,14.2L236.6,14.1L237.7,14.1L238.6,14.3L239.3,14.6L240.1,15.0L240.7,15.5L241.3,16.1L241.8,16.9L242.2,17.7L242.5,18.6L242.7,19.6L242.9,20.8L242.9,22.2L242.9,32.0 M250.5,32.0L250.5,14.1 M250.5,20.9L250.8,19.0L251.1,18.0L251.5,17.2L252.0,16.4L252.5,15.7L253.1,15.2L253.8,14.7L254.6,14.4L255.4,14.2L256.4,14.1L257.6,14.1L258.5,14.3L259.2,14.6L260.0,15.0L260.6,15.5L261.2,16.1L261.7,16.9L262.1,17.7L262.4,18.6L262.7,19.6L262.8,20.8L262.9,22.2L262.9,32.0 M262.9,20.9L263.2,19.0L263.5,18.0L263.8,17.2L264.3,16.4L264.9,15.7L265.5,15.2L266.2,14.7L266.9,14.4L267.8,14.2L268.8,14.1L269.9,14.1L270.8,14.3L271.6,14.6L272.3,15.0L273.0,15.5L273.5,16.1L274.0,16.9L274.5,17.7L274.8,18.6L275.0,19.6L275.2,20.8L275.2,22.2L275.2,32.0 M283.2,23.1L299.1,23.1L299.1,23.1L299.0,21.5L298.9,20.2L298.5,19.1L298.1,18.1L297.6,17.1L296.9,16.3L296.2,15.6L295.3,15.1L294.4,14.6L293.4,14.3L292.2,14.1L290.7,14.1L289.5,14.2L288.4,14.5L287.4,14.8L286.5,15.3L285.7,16.0L285.0,16.7L284.4,17.6L283.9,18.6L283.6,19.7L283.3,20.9L283.2,22.2L283.2,23.9L283.3,25.3L283.6,26.5L284.0,27.6L284.4,28.5L285.0,29.4L285.7,30.1L286.5,30.8L287.4,31.3L288.4,31.7L289.5,31.9L290.8,32.0L292.3,32.0L293.4,31.8L294.4,31.5L295.4,31.0L296.2,30.4L297.0,29.7L297.6,28.9 M312.1,4.3L312.1,32.0 M307.0,14.1L317.2,14.1 M326.2,32.0L326.2,14.1 M326.2,25.7L326.3,23.8L326.5,22.1L326.9,20.7L327.4,19.4L328.1,18.2L328.9,17.1L329.9,16.2L330.9,15.5L332.1,14.9L333.4,14.4L334.9,14.2L336.6,14.1L341.1,14.3 M350.3,14.1L350.3,32.0 M373.5,17.2L372.8,16.4L372.1,15.7L371.2,15.1L370.3,14.6L369.2,14.3L368.1,14.1L366.6,14.1L365.3,14.2L364.2,14.4L363.2,14.8L362.3,15.3L361.5,16.0L360.7,16.7L360.1,17.6L359.7,18.6L359.3,19.6L359.0,20.8L358.9,22.2L358.9,23.9L359.0,25.3L359.3,26.5L359.7,27.5L360.1,28.5L360.7,29.4L361.5,30.1L362.3,30.8L363.2,31.3L364.2,31.7L365.3,31.9L366.6,32.0L368.1,32.0L369.2,31.8L370.3,31.5L371.2,31.0L372.1,30.4L372.8,29.7L373.5,28.9" fill="none" stroke="#000" stroke-width="3.8" stroke-linecap="round" stroke-linejoin="round"/>
<circle cx="350.30" cy="4.30" r="2.36" fill="#000"/>
<path d="M886.8,32.0L896.9,4.1L907.0,32.0 M890.8,21.4L903.0,21.4 M927.8,16.5L927.4,16.0L926.9,15.5L926.4,15.1L925.7,14.8L925.0,14.5L924.1,14.3L923.2,14.2L922.2,14.1L920.9,14.1L919.9,14.2L919.0,14.3L918.1,14.5L917.4,14.8L916.7,15.1L916.2,15.5L915.7,16.0L915.3,16.5L915.0,17.0L914.8,17.6L914.7,18.3L914.8,19.2L914.9,19.8L915.1,20.4L915.5,20.9L915.9,21.4L916.4,21.8L917.1,22.2L917.8,22.5L918.5,22.7L919.4,22.9L920.4,23.0L921.5,23.1L921.6,23.1L922.8,23.1L923.8,23.2L924.7,23.4L925.6,23.6L926.3,23.9L927.0,24.3L927.6,24.7L928.0,25.2L928.4,25.7L928.6,26.3L928.8,26.9L928.8,27.8L928.7,28.5L928.5,29.1L928.2,29.6L927.8,30.1L927.3,30.6L926.7,31.0L926.0,31.3L925.2,31.6L924.3,31.8L923.3,31.9L922.3,32.0L920.9,32.0L919.8,31.9L918.8,31.8L917.9,31.6L917.1,31.3L916.4,31.0L915.8,30.6L915.3,30.1L914.9,29.6 M937.9,14.1L945.4,32.0 M952.8,14.1L942.4,38.8L942.5,38.9L942.1,39.7L941.5,40.4L940.8,40.8L940.0,41.2L939.0,41.3L937.8,41.3 M960.7,32.0L960.7,14.1 M960.7,20.9L961.0,19.0L961.3,18.0L961.7,17.2L962.2,16.4L962.7,15.7L963.4,15.2L964.1,14.7L964.9,14.4L965.7,14.2L966.7,14.1L967.9,14.1L968.8,14.3L969.6,14.6L970.3,15.0L971.0,15.5L971.6,16.1L972.1,16.9L972.5,17.7L972.8,18.6L973.1,19.6L973.2,20.8L973.2,22.2L973.2,32.0 M973.2,20.9L973.6,19.0L973.9,18.0L974.3,17.2L974.7,16.4L975.3,15.7L975.9,15.2L976.6,14.7L977.4,14.4L978.3,14.2L979.3,14.1L980.4,14.1L981.3,14.3L982.1,14.6L982.9,15.0L983.5,15.5L984.1,16.1L984.6,16.9L985.0,17.7L985.4,18.6L985.6,19.6L985.8,20.8L985.8,22.2L985.8,32.0 M992.8,32.0L992.8,14.1 M992.8,20.9L993.1,19.0L993.4,18.0L993.8,17.2L994.3,16.4L994.8,15.7L995.5,15.2L996.2,14.7L997.0,14.4L997.8,14.2L998.8,14.1L1000.0,14.1L1000.9,14.3L1001.7,14.6L1002.5,15.0L1003.1,15.5L1003.7,16.1L1004.2,16.9L1004.6,17.7L1005.0,18.6L1005.2,19.6L1005.4,20.8L1005.4,22.2L1005.4,32.0 M1005.4,20.9L1005.7,19.0L1006.0,18.0L1006.4,17.2L1006.9,16.4L1007.4,15.7L1008.1,15.2L1008.8,14.7L1009.6,14.4L1010.4,14.2L1011.4,14.1L1012.6,14.1L1013.5,14.3L1014.3,14.6L1015.1,15.0L1015.7,15.5L1016.3,16.1L1016.8,16.9L1017.2,17.7L1017.6,18.6L1017.8,19.6L1018.0,20.8L1018.0,22.2L1018.0,32.0 M1025.5,23.1L1041.9,23.1L1041.9,23.1L1041.8,21.5L1041.6,20.2L1041.3,19.1L1040.9,18.1L1040.3,17.1L1039.7,16.3L1038.9,15.6L1038.0,15.1L1037.1,14.6L1036.0,14.3L1034.8,14.1L1033.3,14.1L1032.0,14.2L1030.8,14.5L1029.8,14.8L1028.9,15.3L1028.1,16.0L1027.4,16.7L1026.8,17.6L1026.3,18.6L1025.9,19.7L1025.6,20.9L1025.5,22.2L1025.5,23.9L1025.6,25.3L1025.9,26.5L1026.3,27.6L1026.8,28.5L1027.4,29.4L1028.1,30.1L1028.9,30.8L1029.9,31.3L1030.9,31.7L1032.0,31.9L1033.3,32.0L1034.9,32.0L1036.0,31.8L1037.1,31.5L1038.1,31.0L1038.9,30.4L1039.7,29.7L1040.4,28.9 M1054.8,4.1L1054.8,32.0 M1049.5,14.1L1060.1,14.1 M1067.7,32.0L1067.7,14.1 M1067.7,25.7L1067.8,23.8L1068.0,22.1L1068.5,20.7L1069.0,19.4L1069.8,18.2L1070.7,17.1L1071.7,16.2L1072.9,15.5L1074.2,14.9L1075.6,14.4L1077.2,14.2L1079.2,14.1L1084.1,14.3 M1093.2,14.1L1093.2,32.0 M1115.9,17.2L1115.3,16.4L1114.6,15.7L1113.7,15.1L1112.8,14.6L1111.8,14.3L1110.6,14.1L1109.2,14.1L1107.9,14.2L1106.8,14.4L1105.9,14.8L1105.0,15.3L1104.2,16.0L1103.5,16.7L1102.9,17.6L1102.4,18.6L1102.1,19.6L1101.8,20.8L1101.7,22.2L1101.7,23.9L1101.8,25.3L1102.1,26.5L1102.4,27.5L1102.9,28.5L1103.5,29.4L1104.2,30.1L1105.0,30.8L1105.9,31.3L1106.8,31.7L1107.9,31.9L1109.2,32.0L1110.6,32.0L1111.8,31.8L1112.8,31.5L1113.7,31.0L1114.6,30.4L1115.3,29.7L1115.9,28.9" fill="none" stroke="#000" stroke-width="3.8" stroke-linecap="round" stroke-linejoin="round"/>
<circle cx="1093.20" cy="4.10" r="2.36" fill="#000"/>
<path d="M26.4,364.3L4.6,356.4L26.4,348.5 M18.1,361.2L18.1,351.7 M4.6,338.9L26.4,338.9 M11.8,343.2L11.8,334.6 M4.6,308.3L26.4,308.3L26.4,295.5 M19.1,289.8L19.1,277.1L19.1,277.1L17.8,277.2L16.8,277.3L15.9,277.6L15.0,277.9L14.2,278.4L13.6,278.9L13.0,279.5L12.5,280.1L12.2,280.9L11.9,281.7L11.8,282.7L11.8,283.8L11.8,284.8L12.0,285.7L12.4,286.5L12.8,287.2L13.3,287.8L13.9,288.4L14.6,288.9L15.4,289.3L16.3,289.5L17.3,289.7L18.4,289.8L19.8,289.8L20.9,289.7L21.9,289.5L22.8,289.2L23.6,288.9L24.3,288.4L24.9,287.8L25.4,287.2L25.9,286.5L26.2,285.7L26.4,284.8L26.4,283.8L26.4,282.6L26.3,281.7L26.0,280.9L25.6,280.1L25.2,279.4L24.6,278.9L23.9,278.3 M11.8,257.5L26.4,257.5 M14.3,258.7L13.6,259.3L13.0,259.9L12.6,260.5L12.2,261.3L11.9,262.1L11.8,263.1L11.8,264.3L11.8,265.3L12.0,266.2L12.3,267.0L12.8,267.7L13.3,268.3L13.9,268.9L14.6,269.4L15.4,269.7L16.3,270.0L17.3,270.2L18.4,270.3L19.8,270.3L20.9,270.2L21.9,270.0L22.8,269.7L23.6,269.4L24.3,268.9L24.9,268.3L25.4,267.7L25.9,267.0L26.2,266.2L26.4,265.3L26.4,264.3L26.4,263.1L26.3,262.1L26.0,261.3L25.6,260.5L25.2,259.9L24.6,259.3L23.9,258.7 M13.7,239.9L13.3,240.2L12.9,240.6L12.6,241.0L12.3,241.6L12.1,242.2L11.9,242.8L11.8,243.6L11.8,244.4L11.8,245.4L11.8,246.3L11.9,247.0L12.1,247.7L12.3,248.3L12.6,248.8L12.9,249.3L13.3,249.6L13.7,250.0L14.2,250.2L14.7,250.3L15.2,250.4L15.9,250.4L16.5,250.3L16.9,250.1L17.4,249.8L17.8,249.5L18.1,249.0L18.4,248.5L18.6,248.0L18.8,247.3L19.0,246.6L19.1,245.9L19.1,244.9L19.1,244.9L19.1,243.9L19.2,243.1L19.4,242.3L19.6,241.6L19.8,241.0L20.1,240.5L20.4,240.1L20.8,239.7L21.3,239.4L21.7,239.2L22.3,239.1L23.0,239.1L23.5,239.1L24.0,239.3L24.5,239.5L24.9,239.9L25.3,240.3L25.6,240.8L25.9,241.3L26.1,242.0L26.3,242.7L26.4,243.5L26.4,244.3L26.4,245.4L26.4,246.3L26.3,247.1L26.1,247.8L25.9,248.5L25.6,249.0L25.3,249.5L24.9,249.9L24.5,250.3 M4.6,227.7L26.4,227.7 M11.8,231.8L11.8,223.7 M15.5,181.0L13.4,181.1L11.8,181.3L10.4,181.5L9.2,181.9L8.1,182.3L7.2,182.9L6.4,183.6L5.7,184.3L5.2,185.2L4.8,186.1L4.6,187.2L4.6,188.7L4.6,190.2L4.8,191.3L5.2,192.2L5.7,193.1L6.4,193.8L7.2,194.5L8.1,195.1L9.2,195.5L10.4,195.9L11.8,196.1L13.4,196.3L15.5,196.3L17.6,196.3L19.2,196.1L20.6,195.9L21.8,195.5L22.9,195.1L23.8,194.5L24.6,193.8L25.3,193.1L25.8,192.2L26.2,191.3L26.4,190.2L26.4,188.7L26.4,187.2L26.2,186.1L25.8,185.2L25.3,184.3L24.6,183.6L23.8,182.9L22.9,182.3L21.8,181.9L20.6,181.5L19.2,181.3L17.6,181.1L15.5,181.0 M26.4,174.2L11.8,174.2 M17.3,174.2L15.8,173.9L15.0,173.6L14.3,173.2L13.6,172.7L13.1,172.2L12.6,171.5L12.3,170.8L12.0,170.0L11.8,169.2L11.8,168.2L11.8,167.0L11.9,166.1L12.1,165.3L12.5,164.5L12.9,163.8L13.4,163.3L14.0,162.7L14.7,162.3L15.5,162.0L16.3,161.7L17.2,161.6L18.4,161.5L26.4,161.5 M19.1,155.2L19.1,141.9L19.1,141.9L17.8,142.0L16.8,142.2L15.9,142.4L15.0,142.8L14.2,143.2L13.6,143.8L13.0,144.4L12.5,145.1L12.2,145.9L11.9,146.7L11.8,147.7L11.8,149.0L11.8,150.0L12.0,150.9L12.4,151.7L12.8,152.5L13.3,153.2L13.9,153.7L14.6,154.2L15.4,154.6L16.3,154.9L17.3,155.1L18.4,155.2L19.8,155.2L20.9,155.1L21.9,154.9L22.8,154.6L23.6,154.2L24.3,153.7L24.9,153.1L25.4,152.5L25.9,151.7L26.2,150.9L26.4,150.0L26.4,148.9L26.4,147.7L26.3,146.7L26.0,145.8L25.6,145.1L25.2,144.4L24.6,143.7L23.9,143.2" fill="none" stroke="#000" stroke-width="2.7" stroke-linecap="round" stroke-linejoin="round"/>
<path d="M63.7,392.9L41.6,392.9L41.6,383.5L41.6,383.5L41.7,382.5L41.8,381.6L42.0,380.8L42.3,380.1L42.7,379.5L43.1,378.9L43.6,378.4L44.2,378.0L44.8,377.7L45.5,377.4L46.2,377.3L47.2,377.2L48.1,377.3L48.9,377.4L49.6,377.7L50.2,378.0L50.8,378.4L51.3,378.9L51.7,379.5L52.1,380.1L52.3,380.8L52.5,381.6L52.7,382.5L52.7,383.5L52.7,392.9 M56.5,370.1L56.5,358.5L56.5,358.5L55.3,358.6L54.3,358.7L53.4,359.0L52.5,359.3L51.8,359.7L51.1,360.1L50.6,360.7L50.1,361.3L49.8,362.0L49.5,362.7L49.4,363.6L49.4,364.7L49.4,365.6L49.6,366.4L49.9,367.1L50.4,367.7L50.9,368.3L51.5,368.8L52.2,369.3L53.0,369.6L53.8,369.9L54.8,370.1L55.9,370.1L57.3,370.1L58.3,370.0L59.3,369.9L60.2,369.6L61.0,369.2L61.7,368.8L62.3,368.3L62.8,367.7L63.2,367.1L63.5,366.3L63.7,365.5L63.7,364.6L63.7,363.5L63.6,362.7L63.3,361.9L63.0,361.3L62.5,360.6L61.9,360.1L61.3,359.6 M63.7,351.4L49.4,351.4 M58.7,351.4L57.1,351.4L55.8,351.2L54.6,350.9L53.6,350.5L52.6,349.9L51.8,349.2L51.1,348.5L50.5,347.6L50.0,346.7L49.6,345.6L49.4,344.4L49.4,343.0L49.5,339.3 M51.8,320.9L51.2,321.4L50.6,322.0L50.1,322.7L49.8,323.4L49.5,324.2L49.4,325.1L49.4,326.3L49.4,327.3L49.6,328.2L49.9,328.9L50.3,329.6L50.8,330.3L51.5,330.8L52.2,331.3L52.9,331.7L53.8,331.9L54.8,332.1L55.9,332.2L57.2,332.2L58.3,332.1L59.3,331.9L60.2,331.7L60.9,331.3L61.6,330.8L62.3,330.3L62.8,329.6L63.2,328.9L63.5,328.2L63.7,327.3L63.7,326.3L63.7,325.1L63.6,324.2L63.3,323.4L63.0,322.7L62.5,322.0L61.9,321.4L61.3,320.9 M56.5,312.6L56.5,300.1L56.5,300.1L55.3,300.2L54.3,300.3L53.4,300.6L52.5,300.9L51.8,301.3L51.1,301.8L50.6,302.4L50.1,303.1L49.8,303.8L49.5,304.7L49.4,305.6L49.4,306.7L49.4,307.7L49.6,308.6L49.9,309.4L50.4,310.1L50.9,310.7L51.5,311.2L52.2,311.7L53.0,312.1L53.8,312.4L54.8,312.5L55.9,312.6L57.3,312.6L58.3,312.5L59.3,312.3L60.2,312.1L61.0,311.7L61.7,311.2L62.3,310.7L62.8,310.0L63.2,309.3L63.5,308.5L63.7,307.7L63.7,306.7L63.7,305.5L63.6,304.6L63.3,303.8L63.0,303.1L62.5,302.4L61.9,301.8L61.3,301.3 M63.7,293.6L49.4,293.6 M54.8,293.6L53.3,293.3L52.5,293.0L51.8,292.7L51.2,292.2L50.7,291.7L50.2,291.1L49.9,290.4L49.6,289.6L49.4,288.8L49.4,287.8L49.4,286.7L49.5,285.9L49.7,285.1L50.1,284.4L50.5,283.7L51.0,283.2L51.6,282.7L52.2,282.3L53.0,282.0L53.8,281.7L54.7,281.6L55.8,281.5L63.7,281.5 M41.6,270.7L63.7,270.7 M49.4,274.9L49.4,266.4 M45.2,225.2L44.2,225.9L43.4,226.7L42.7,227.5L42.2,228.5L41.9,229.6L41.7,230.7L41.7,232.3L41.8,233.5L42.1,234.6L42.6,235.6L43.2,236.5L44.0,237.2L45.0,237.9L46.0,238.5L47.2,239.0L48.6,239.4L50.0,239.6L51.7,239.7L53.7,239.7L55.4,239.6L56.8,239.4L58.2,239.0L59.4,238.5L60.4,237.9L61.4,237.2L62.2,236.5L62.8,235.6L63.3,234.6L63.6,233.5L63.7,232.3L63.7,230.7L63.5,229.6L63.2,228.5L62.7,227.5L62.0,226.7L61.2,225.9L60.2,225.2 M56.5,204.8L55.1,204.8L54.1,204.9L53.2,205.1L52.4,205.4L51.7,205.8L51.1,206.3L50.6,206.8L50.1,207.5L49.8,208.2L49.5,208.9L49.4,209.9L49.4,211.1L49.4,212.3L49.5,213.3L49.8,214.0L50.1,214.7L50.6,215.4L51.1,215.9L51.7,216.4L52.4,216.8L53.2,217.1L54.1,217.3L55.1,217.4L56.5,217.5L58.0,217.4L59.0,217.3L59.9,217.1L60.7,216.8L61.4,216.4L62.0,215.9L62.5,215.4L63.0,214.7L63.3,214.0L63.6,213.3L63.7,212.3L63.7,211.1L63.7,209.9L63.6,208.9L63.3,208.2L63.0,207.5L62.5,206.8L62.0,206.3L61.4,205.8L60.7,205.4L59.9,205.1L59.0,204.9L58.0,204.8L56.6,204.8 M63.7,197.8L49.4,197.8 M58.7,197.8L57.1,197.7L55.8,197.5L54.6,197.2L53.6,196.8L52.6,196.3L51.8,195.7L51.1,195.0L50.5,194.1L50.0,193.2L49.6,192.2L49.4,191.1L49.4,189.8L49.5,186.3 M63.7,179.0L49.4,179.0 M58.7,179.0L57.1,178.9L55.8,178.7L54.6,178.4L53.6,177.9L52.6,177.4L51.8,176.7L51.1,175.9L50.5,175.1L50.0,174.1L49.6,173.0L49.4,171.8L49.4,170.3L49.5,166.7 M56.5,160.8L56.5,147.4L56.5,147.4L55.3,147.5L54.3,147.7L53.4,147.9L52.5,148.3L51.8,148.7L51.1,149.3L50.6,149.9L50.1,150.6L49.8,151.4L49.5,152.2L49.4,153.2L49.4,154.5L49.4,155.5L49.6,156.4L49.9,157.2L50.4,158.0L50.9,158.7L51.5,159.2L52.2,159.7L53.0,160.1L53.8,160.4L54.8,160.6L55.9,160.7L57.3,160.7L58.3,160.6L59.3,160.4L60.2,160.1L61.0,159.7L61.7,159.2L62.3,158.6L62.8,158.0L63.2,157.2L63.5,156.4L63.7,155.5L63.7,154.4L63.7,153.2L63.6,152.2L63.3,151.3L63.0,150.6L62.5,149.9L61.9,149.2L61.3,148.7 M51.8,129.4L51.2,130.0L50.6,130.6L50.1,131.2L49.8,132.0L49.5,132.8L49.4,133.8L49.4,135.0L49.4,136.0L49.6,136.9L49.9,137.7L50.3,138.4L50.8,139.0L51.5,139.6L52.2,140.1L52.9,140.4L53.8,140.7L54.8,140.9L55.9,141.0L57.2,141.0L58.3,140.9L59.3,140.7L60.2,140.4L60.9,140.1L61.6,139.6L62.3,139.0L62.8,138.4L63.2,137.7L63.5,136.9L63.7,136.0L63.7,135.0L63.7,133.8L63.6,132.8L63.3,132.0L63.0,131.2L62.5,130.6L61.9,130.0L61.3,129.4 M41.6,117.3L63.7,117.3 M49.4,121.5L49.4,113.2" fill="none" stroke="#000" stroke-width="2.7" stroke-linecap="round" stroke-linejoin="round"/>
<path d="M26.4,727.8L4.6,720.0L26.4,712.0 M18.1,724.7L18.1,715.2 M4.6,702.5L26.4,702.5 M11.8,706.8L11.8,698.1 M4.6,671.8L26.4,671.8L26.4,659.0 M19.1,653.3L19.1,640.6L19.1,640.6L17.8,640.7L16.8,640.8L15.9,641.1L15.0,641.4L14.2,641.9L13.6,642.4L13.0,643.0L12.5,643.6L12.2,644.4L11.9,645.2L11.8,646.2L11.8,647.3L11.8,648.3L12.0,649.2L12.4,650.0L12.8,650.7L13.3,651.3L13.9,651.9L14.6,652.4L15.4,652.8L16.3,653.0L17.3,653.2L18.4,653.3L19.8,653.3L20.9,653.2L21.9,653.0L22.8,652.7L23.6,652.4L24.3,651.9L24.9,651.3L25.4,650.7L25.9,650.0L26.2,649.2L26.4,648.3L26.4,647.3L26.4,646.1L26.3,645.2L26.0,644.4L25.6,643.6L25.2,642.9L24.6,642.4L23.9,641.8 M11.8,621.0L26.4,621.0 M14.3,622.2L13.6,622.8L13.0,623.4L12.6,624.0L12.2,624.8L11.9,625.6L11.8,626.6L11.8,627.8L11.8,628.8L12.0,629.7L12.3,630.5L12.8,631.2L13.3,631.8L13.9,632.4L14.6,632.9L15.4,633.2L16.3,633.5L17.3,633.7L18.4,633.8L19.8,633.8L20.9,633.7L21.9,633.5L22.8,633.2L23.6,632.9L24.3,632.4L24.9,631.8L25.4,631.2L25.9,630.5L26.2,629.7L26.4,628.8L26.4,627.8L26.4,626.6L26.3,625.6L26.0,624.8L25.6,624.0L25.2,623.4L24.6,622.8L23.9,622.2 M13.7,603.4L13.3,603.7L12.9,604.1L12.6,604.5L12.3,605.1L12.1,605.7L11.9,606.3L11.8,607.1L11.8,607.9L11.8,608.9L11.8,609.8L11.9,610.5L12.1,611.2L12.3,611.8L12.6,612.3L12.9,612.8L13.3,613.1L13.7,613.5L14.2,613.7L14.7,613.8L15.2,613.9L15.9,613.9L16.5,613.8L16.9,613.6L17.4,613.3L17.8,613.0L18.1,612.5L18.4,612.0L18.6,611.5L18.8,610.8L19.0,610.1L19.1,609.4L19.1,608.4L19.1,608.4L19.1,607.4L19.2,606.6L19.4,605.8L19.6,605.1L19.8,604.5L20.1,604.0L20.4,603.6L20.8,603.2L21.3,602.9L21.7,602.7L22.3,602.6L23.0,602.6L23.5,602.6L24.0,602.8L24.5,603.0L24.9,603.4L25.3,603.8L25.6,604.3L25.9,604.8L26.1,605.5L26.3,606.2L26.4,607.0L26.4,607.8L26.4,608.9L26.4,609.8L26.3,610.6L26.1,611.3L25.9,612.0L25.6,612.5L25.3,613.0L24.9,613.4L24.5,613.8 M4.6,591.2L26.4,591.2 M11.8,595.2L11.8,587.1 M15.5,544.5L13.4,544.6L11.8,544.8L10.4,545.0L9.2,545.4L8.1,545.8L7.2,546.4L6.4,547.1L5.7,547.8L5.2,548.7L4.8,549.6L4.6,550.7L4.6,552.2L4.6,553.7L4.8,554.8L5.2,555.7L5.7,556.6L6.4,557.3L7.2,558.0L8.1,558.6L9.2,559.0L10.4,559.4L11.8,559.6L13.4,559.8L15.5,559.9L17.6,559.8L19.2,559.6L20.6,559.4L21.8,559.0L22.9,558.6L23.8,558.0L24.6,557.3L25.3,556.6L25.8,555.7L26.2,554.8L26.4,553.7L26.4,552.2L26.4,550.7L26.2,549.6L25.8,548.7L25.3,547.8L24.6,547.1L23.8,546.4L22.9,545.8L21.8,545.4L20.6,545.0L19.2,544.8L17.6,544.6L15.5,544.5 M26.4,537.8L11.8,537.8 M17.3,537.8L15.8,537.4L15.0,537.1L14.3,536.7L13.6,536.2L13.1,535.7L12.6,535.0L12.3,534.3L12.0,533.5L11.8,532.7L11.8,531.7L11.8,530.5L11.9,529.6L12.1,528.8L12.5,528.0L12.9,527.3L13.4,526.8L14.0,526.2L14.7,525.8L15.5,525.5L16.3,525.2L17.2,525.1L18.4,525.0L26.4,525.0 M19.1,518.8L19.1,505.4L19.1,505.4L17.8,505.5L16.8,505.7L15.9,505.9L15.0,506.3L14.2,506.7L13.6,507.3L13.0,507.9L12.5,508.6L12.2,509.4L11.9,510.2L11.8,511.2L11.8,512.5L11.8,513.5L12.0,514.4L12.4,515.2L12.8,516.0L13.3,516.7L13.9,517.2L14.6,517.7L15.4,518.1L16.3,518.4L17.3,518.6L18.4,518.7L19.8,518.7L20.9,518.6L21.9,518.4L22.8,518.1L23.6,517.7L24.3,517.2L24.9,516.6L25.4,516.0L25.9,515.2L26.2,514.4L26.4,513.5L26.4,512.4L26.4,511.2L26.3,510.2L26.0,509.3L25.6,508.6L25.2,507.9L24.6,507.2L23.9,506.7" fill="none" stroke="#000" stroke-width="2.7" stroke-linecap="round" stroke-linejoin="round"/>
<path d="M63.7,756.5L41.6,756.5L41.6,747.0L41.6,747.0L41.7,746.0L41.8,745.1L42.0,744.3L42.3,743.6L42.7,743.0L43.1,742.4L43.6,741.9L44.2,741.5L44.8,741.2L45.5,740.9L46.2,740.8L47.2,740.8L48.1,740.8L48.9,740.9L49.6,741.2L50.2,741.5L50.8,741.9L51.3,742.4L51.7,743.0L52.1,743.6L52.3,744.3L52.5,745.1L52.7,746.0L52.7,747.0L52.7,756.5 M56.5,733.6L56.5,722.0L56.5,722.0L55.3,722.1L54.3,722.2L53.4,722.5L52.5,722.8L51.8,723.2L51.1,723.6L50.6,724.2L50.1,724.8L49.8,725.5L49.5,726.2L49.4,727.1L49.4,728.2L49.4,729.1L49.6,729.9L49.9,730.6L50.4,731.2L50.9,731.8L51.5,732.3L52.2,732.8L53.0,733.1L53.8,733.4L54.8,733.6L55.9,733.6L57.3,733.6L58.3,733.5L59.3,733.4L60.2,733.1L61.0,732.7L61.7,732.3L62.3,731.8L62.8,731.2L63.2,730.6L63.5,729.8L63.7,729.0L63.7,728.1L63.7,727.0L63.6,726.2L63.3,725.4L63.0,724.8L62.5,724.1L61.9,723.6L61.3,723.1 M63.7,715.0L49.4,715.0 M58.7,715.0L57.1,714.9L55.8,714.7L54.6,714.4L53.6,714.0L52.6,713.4L51.8,712.7L51.1,712.0L50.5,711.1L50.0,710.2L49.6,709.1L49.4,707.9L49.4,706.5L49.5,702.8 M51.8,684.4L51.2,684.9L50.6,685.5L50.1,686.2L49.8,686.9L49.5,687.7L49.4,688.6L49.4,689.8L49.4,690.8L49.6,691.7L49.9,692.4L50.3,693.1L50.8,693.8L51.5,694.3L52.2,694.8L52.9,695.2L53.8,695.4L54.8,695.6L55.9,695.7L57.2,695.7L58.3,695.6L59.3,695.4L60.2,695.2L60.9,694.8L61.6,694.3L62.3,693.8L62.8,693.1L63.2,692.4L63.5,691.7L63.7,690.8L63.7,689.8L63.7,688.6L63.6,687.7L63.3,686.9L63.0,686.2L62.5,685.5L61.9,684.9L61.3,684.4 M56.5,676.1L56.5,663.6L56.5,663.6L55.3,663.7L54.3,663.8L53.4,664.1L52.5,664.4L51.8,664.8L51.1,665.3L50.6,665.9L50.1,666.6L49.8,667.3L49.5,668.2L49.4,669.1L49.4,670.2L49.4,671.2L49.6,672.1L49.9,672.9L50.4,673.6L50.9,674.2L51.5,674.7L52.2,675.2L53.0,675.6L53.8,675.9L54.8,676.0L55.9,676.1L57.3,676.1L58.3,676.0L59.3,675.8L60.2,675.6L61.0,675.2L61.7,674.7L62.3,674.2L62.8,673.5L63.2,672.8L63.5,672.0L63.7,671.2L63.7,670.2L63.7,669.0L63.6,668.1L63.3,667.3L63.0,666.6L62.5,665.9L61.9,665.3L61.3,664.8 M63.7,657.1L49.4,657.1 M54.8,657.1L53.3,656.8L52.5,656.5L51.8,656.2L51.2,655.7L50.7,655.2L50.2,654.6L49.9,653.9L49.6,653.1L49.4,652.3L49.4,651.3L49.4,650.2L49.5,649.4L49.7,648.6L50.1,647.9L50.5,647.2L51.0,646.7L51.6,646.2L52.2,645.8L53.0,645.5L53.8,645.2L54.7,645.1L55.8,645.0L63.7,645.0 M41.6,634.2L63.7,634.2 M49.4,638.5L49.4,630.0 M45.2,588.7L44.2,589.4L43.4,590.2L42.7,591.0L42.2,592.0L41.9,593.1L41.7,594.2L41.7,595.8L41.8,597.0L42.1,598.1L42.6,599.1L43.2,600.0L44.0,600.7L45.0,601.4L46.0,602.0L47.2,602.5L48.6,602.9L50.0,603.1L51.7,603.2L53.7,603.2L55.4,603.1L56.8,602.9L58.2,602.5L59.4,602.0L60.4,601.4L61.4,600.7L62.2,600.0L62.8,599.1L63.3,598.1L63.6,597.0L63.7,595.8L63.7,594.2L63.5,593.1L63.2,592.0L62.7,591.0L62.0,590.2L61.2,589.4L60.2,588.7 M56.5,568.2L55.1,568.3L54.1,568.4L53.2,568.6L52.4,568.9L51.7,569.3L51.1,569.8L50.6,570.3L50.1,571.0L49.8,571.7L49.5,572.4L49.4,573.4L49.4,574.6L49.4,575.8L49.5,576.8L49.8,577.5L50.1,578.2L50.6,578.9L51.1,579.4L51.7,579.9L52.4,580.3L53.2,580.6L54.1,580.8L55.1,580.9L56.5,581.0L58.0,580.9L59.0,580.8L59.9,580.6L60.7,580.3L61.4,579.9L62.0,579.4L62.5,578.9L63.0,578.2L63.3,577.5L63.6,576.8L63.7,575.8L63.7,574.6L63.7,573.4L63.6,572.4L63.3,571.7L63.0,571.0L62.5,570.3L62.0,569.8L61.4,569.3L60.7,568.9L59.9,568.6L59.0,568.4L58.0,568.3L56.6,568.2 M63.7,561.2L49.4,561.2 M58.7,561.2L57.1,561.2L55.8,561.0L54.6,560.7L53.6,560.3L52.6,559.8L51.8,559.2L51.1,558.5L50.5,557.6L50.0,556.7L49.6,555.7L49.4,554.6L49.4,553.3L49.5,549.9 M63.7,542.5L49.4,542.5 M58.7,542.5L57.1,542.4L55.8,542.2L54.6,541.9L53.6,541.4L52.6,540.9L51.8,540.2L51.1,539.4L50.5,538.6L50.0,537.6L49.6,536.5L49.4,535.3L49.4,533.8L49.5,530.1 M56.5,524.2L56.5,510.9L56.5,510.9L55.3,511.0L54.3,511.2L53.4,511.4L52.5,511.8L51.8,512.2L51.1,512.8L50.6,513.4L50.1,514.1L49.8,514.9L49.5,515.7L49.4,516.7L49.4,518.0L49.4,519.0L49.6,519.9L49.9,520.7L50.4,521.5L50.9,522.2L51.5,522.7L52.2,523.2L53.0,523.6L53.8,523.9L54.8,524.1L55.9,524.2L57.3,524.2L58.3,524.1L59.3,523.9L60.2,523.6L61.0,523.2L61.7,522.7L62.3,522.1L62.8,521.5L63.2,520.7L63.5,519.9L63.7,519.0L63.7,517.9L63.7,516.7L63.6,515.7L63.3,514.8L63.0,514.1L62.5,513.4L61.9,512.7L61.3,512.2 M51.8,492.9L51.2,493.5L50.6,494.1L50.1,494.7L49.8,495.5L49.5,496.3L49.4,497.3L49.4,498.5L49.4,499.5L49.6,500.4L49.9,501.2L50.3,501.9L50.8,502.5L51.5,503.1L52.2,503.6L52.9,503.9L53.8,504.2L54.8,504.4L55.9,504.5L57.2,504.5L58.3,504.4L59.3,504.2L60.2,503.9L60.9,503.6L61.6,503.1L62.3,502.5L62.8,501.9L63.2,501.2L63.5,500.4L63.7,499.5L63.7,498.5L63.7,497.3L63.6,496.3L63.3,495.5L63.0,494.7L62.5,494.1L61.9,493.5L61.3,492.9 M41.6,480.8L63.7,480.8 M49.4,484.9L49.4,476.6" fill="none" stroke="#000" stroke-width="2.7" stroke-linecap="round" stroke-linejoin="round"/>
<path d="M644.2,365.3L622.2,357.4L644.2,349.5 M635.8,362.2L635.8,352.7 M622.2,339.9L644.2,339.9 M629.5,344.2L629.5,335.6 M622.2,309.3L644.2,309.3L644.2,296.5 M636.8,290.8L636.8,278.1L636.8,278.1L635.5,278.2L634.5,278.3L633.6,278.6L632.7,278.9L631.9,279.4L631.3,279.9L630.7,280.5L630.2,281.1L629.9,281.9L629.6,282.7L629.5,283.7L629.5,284.8L629.5,285.8L629.7,286.7L630.1,287.5L630.5,288.2L631.0,288.8L631.6,289.4L632.3,289.9L633.1,290.3L634.0,290.5L635.0,290.7L636.1,290.8L637.5,290.8L638.6,290.7L639.6,290.5L640.5,290.2L641.3,289.9L642.0,289.4L642.6,288.8L643.1,288.2L643.6,287.5L643.9,286.7L644.1,285.8L644.1,284.8L644.1,283.6L644.0,282.7L643.7,281.9L643.3,281.1L642.9,280.4L642.3,279.9L641.6,279.3 M629.5,258.5L644.2,258.5 M632.0,259.7L631.3,260.3L630.7,260.9L630.3,261.5L629.9,262.3L629.6,263.1L629.5,264.1L629.5,265.3L629.5,266.3L629.7,267.2L630.0,268.0L630.5,268.7L631.0,269.3L631.6,269.9L632.3,270.4L633.1,270.7L634.0,271.0L635.0,271.2L636.1,271.3L637.5,271.3L638.6,271.2L639.6,271.0L640.5,270.7L641.3,270.4L642.0,269.9L642.6,269.3L643.1,268.7L643.6,268.0L643.9,267.2L644.1,266.3L644.1,265.3L644.1,264.1L644.0,263.1L643.7,262.3L643.3,261.5L642.9,260.9L642.3,260.3L641.6,259.7 M631.4,240.9L631.0,241.2L630.6,241.6L630.3,242.0L630.0,242.6L629.8,243.2L629.6,243.8L629.5,244.6L629.5,245.4L629.5,246.4L629.5,247.3L629.6,248.0L629.8,248.7L630.0,249.3L630.3,249.8L630.6,250.3L631.0,250.6L631.4,251.0L631.9,251.2L632.4,251.3L632.9,251.4L633.6,251.4L634.2,251.3L634.6,251.1L635.1,250.8L635.5,250.5L635.8,250.0L636.1,249.5L636.3,249.0L636.5,248.3L636.7,247.6L636.8,246.9L636.8,245.9L636.8,245.9L636.8,244.9L636.9,244.1L637.1,243.3L637.3,242.6L637.5,242.0L637.8,241.5L638.1,241.1L638.5,240.7L639.0,240.4L639.4,240.2L640.0,240.1L640.7,240.1L641.2,240.1L641.7,240.3L642.2,240.5L642.6,240.9L643.0,241.3L643.3,241.8L643.6,242.3L643.8,243.0L644.0,243.7L644.1,244.5L644.1,245.3L644.1,246.4L644.1,247.3L644.0,248.1L643.8,248.8L643.6,249.5L643.3,250.0L643.0,250.5L642.6,250.9L642.2,251.3 M622.2,228.7L644.2,228.7 M629.5,232.8L629.5,224.7 M633.2,182.0L631.1,182.1L629.5,182.3L628.1,182.5L626.9,182.9L625.8,183.3L624.9,183.9L624.1,184.6L623.4,185.3L622.9,186.2L622.5,187.1L622.3,188.2L622.2,189.7L622.3,191.2L622.5,192.3L622.9,193.2L623.4,194.1L624.1,194.8L624.9,195.5L625.8,196.1L626.9,196.5L628.1,196.9L629.5,197.1L631.1,197.3L633.2,197.3L635.3,197.3L636.9,197.1L638.3,196.9L639.5,196.5L640.6,196.1L641.5,195.5L642.3,194.8L643.0,194.1L643.5,193.2L643.9,192.3L644.1,191.2L644.2,189.7L644.1,188.2L643.9,187.1L643.5,186.2L643.0,185.3L642.3,184.6L641.5,183.9L640.6,183.3L639.5,182.9L638.3,182.5L636.9,182.3L635.3,182.1L633.2,182.0 M644.2,175.2L629.5,175.2 M635.0,175.2L633.5,174.9L632.7,174.6L632.0,174.2L631.3,173.7L630.8,173.2L630.3,172.5L630.0,171.8L629.7,171.0L629.5,170.2L629.5,169.2L629.5,168.0L629.6,167.1L629.8,166.3L630.2,165.5L630.6,164.8L631.1,164.3L631.7,163.7L632.4,163.3L633.2,163.0L634.0,162.7L634.9,162.6L636.1,162.5L644.2,162.5 M636.8,156.2L636.8,142.9L636.8,142.9L635.5,143.0L634.5,143.2L633.6,143.4L632.7,143.8L631.9,144.2L631.3,144.8L630.7,145.4L630.2,146.1L629.9,146.9L629.6,147.7L629.5,148.7L629.5,150.0L629.5,151.0L629.7,151.9L630.1,152.7L630.5,153.5L631.0,154.2L631.6,154.7L632.3,155.2L633.1,155.6L634.0,155.9L635.0,156.1L636.1,156.2L637.5,156.2L638.6,156.1L639.6,155.9L640.5,155.6L641.3,155.2L642.0,154.7L642.6,154.1L643.1,153.5L643.6,152.7L643.9,151.9L644.1,151.0L644.1,149.9L644.1,148.7L644.0,147.7L643.7,146.8L643.3,146.1L642.9,145.4L642.3,144.7L641.6,144.2" fill="none" stroke="#000" stroke-width="2.7" stroke-linecap="round" stroke-linejoin="round"/>
<path d="M681.5,393.9L659.4,393.9L659.4,384.5L659.4,384.5L659.4,383.5L659.5,382.6L659.7,381.8L660.0,381.1L660.4,380.5L660.8,379.9L661.3,379.4L661.9,379.0L662.5,378.7L663.2,378.4L663.9,378.3L664.9,378.2L665.8,378.3L666.6,378.4L667.3,378.7L667.9,379.0L668.5,379.4L669.0,379.9L669.4,380.5L669.8,381.1L670.0,381.8L670.2,382.6L670.4,383.5L670.4,384.5L670.4,393.9 M674.2,371.1L674.2,359.5L674.2,359.5L673.0,359.6L672.0,359.7L671.1,360.0L670.2,360.3L669.5,360.7L668.8,361.1L668.3,361.7L667.8,362.3L667.5,363.0L667.2,363.7L667.1,364.6L667.1,365.7L667.1,366.6L667.3,367.4L667.6,368.1L668.1,368.7L668.6,369.3L669.2,369.8L669.9,370.3L670.7,370.6L671.5,370.9L672.5,371.1L673.6,371.1L675.0,371.1L676.0,371.0L677.0,370.9L677.9,370.6L678.7,370.2L679.4,369.8L680.0,369.3L680.5,368.7L680.9,368.1L681.2,367.3L681.4,366.5L681.4,365.6L681.4,364.5L681.3,363.7L681.0,362.9L680.7,362.3L680.2,361.6L679.6,361.1L679.0,360.6 M681.5,352.4L667.1,352.4 M676.4,352.4L674.8,352.4L673.5,352.2L672.3,351.9L671.3,351.5L670.3,350.9L669.5,350.2L668.8,349.5L668.2,348.6L667.7,347.7L667.3,346.6L667.1,345.4L667.1,344.0L667.2,340.3 M669.5,321.9L668.9,322.4L668.3,323.0L667.8,323.7L667.5,324.4L667.2,325.2L667.1,326.1L667.1,327.3L667.1,328.3L667.3,329.2L667.6,329.9L668.0,330.6L668.5,331.3L669.2,331.8L669.9,332.3L670.6,332.7L671.5,332.9L672.5,333.1L673.6,333.2L674.9,333.2L676.0,333.1L677.0,332.9L677.9,332.7L678.6,332.3L679.3,331.8L680.0,331.3L680.5,330.6L680.9,329.9L681.2,329.2L681.4,328.3L681.4,327.3L681.4,326.1L681.3,325.2L681.0,324.4L680.7,323.7L680.2,323.0L679.6,322.4L679.0,321.9 M674.2,313.6L674.2,301.1L674.2,301.1L673.0,301.2L672.0,301.3L671.1,301.6L670.2,301.9L669.5,302.3L668.8,302.8L668.3,303.4L667.8,304.1L667.5,304.8L667.2,305.7L667.1,306.6L667.1,307.7L667.1,308.7L667.3,309.6L667.6,310.4L668.1,311.1L668.6,311.7L669.2,312.2L669.9,312.7L670.7,313.1L671.5,313.4L672.5,313.5L673.6,313.6L675.0,313.6L676.0,313.5L677.0,313.3L677.9,313.1L678.7,312.7L679.4,312.2L680.0,311.7L680.5,311.0L680.9,310.3L681.2,309.5L681.4,308.7L681.4,307.7L681.4,306.5L681.3,305.6L681.0,304.8L680.7,304.1L680.2,303.4L679.6,302.8L679.0,302.3 M681.5,294.6L667.1,294.6 M672.5,294.6L671.0,294.3L670.2,294.0L669.5,293.7L668.9,293.2L668.4,292.7L667.9,292.1L667.6,291.4L667.3,290.6L667.1,289.8L667.1,288.8L667.1,287.7L667.2,286.9L667.4,286.1L667.8,285.4L668.2,284.7L668.7,284.2L669.3,283.7L669.9,283.3L670.7,283.0L671.5,282.7L672.4,282.6L673.5,282.5L681.5,282.5 M659.4,271.7L681.5,271.7 M667.1,275.9L667.1,267.4 M662.9,226.2L661.9,226.9L661.1,227.7L660.4,228.5L659.9,229.5L659.6,230.6L659.4,231.7L659.4,233.3L659.5,234.5L659.8,235.6L660.3,236.6L660.9,237.5L661.7,238.2L662.7,238.9L663.7,239.5L664.9,240.0L666.3,240.4L667.7,240.6L669.4,240.7L671.4,240.7L673.1,240.6L674.5,240.4L675.9,240.0L677.1,239.5L678.1,238.9L679.1,238.2L679.9,237.5L680.5,236.6L681.0,235.6L681.3,234.5L681.4,233.3L681.4,231.7L681.2,230.6L680.9,229.5L680.4,228.5L679.7,227.7L678.9,226.9L677.9,226.2 M674.2,205.8L672.8,205.8L671.8,205.9L670.9,206.1L670.1,206.4L669.4,206.8L668.8,207.3L668.3,207.8L667.8,208.5L667.5,209.2L667.2,209.9L667.1,210.9L667.1,212.1L667.1,213.3L667.2,214.3L667.5,215.0L667.8,215.7L668.3,216.4L668.8,216.9L669.4,217.4L670.1,217.8L670.9,218.1L671.8,218.3L672.8,218.4L674.2,218.5L675.7,218.4L676.7,218.3L677.6,218.1L678.4,217.8L679.1,217.4L679.7,216.9L680.2,216.4L680.7,215.7L681.0,215.0L681.3,214.3L681.4,213.3L681.5,212.1L681.4,210.9L681.3,209.9L681.0,209.2L680.7,208.5L680.2,207.8L679.7,207.3L679.1,206.8L678.4,206.4L677.6,206.1L676.7,205.9L675.7,205.8L674.3,205.8 M681.5,198.8L667.1,198.8 M676.4,198.8L674.8,198.7L673.5,198.5L672.3,198.2L671.3,197.8L670.3,197.3L669.5,196.7L668.8,196.0L668.2,195.1L667.7,194.2L667.3,193.2L667.1,192.1L667.1,190.8L667.2,187.3 M681.5,180.0L667.1,180.0 M676.4,180.0L674.8,179.9L673.5,179.7L672.3,179.4L671.3,178.9L670.3,178.4L669.5,177.7L668.8,176.9L668.2,176.1L667.7,175.1L667.3,174.0L667.1,172.8L667.1,171.3L667.2,167.7 M674.2,161.8L674.2,148.4L674.2,148.4L673.0,148.5L672.0,148.7L671.1,148.9L670.2,149.3L669.5,149.7L668.8,150.3L668.3,150.9L667.8,151.6L667.5,152.4L667.2,153.2L667.1,154.2L667.1,155.5L667.1,156.5L667.3,157.4L667.6,158.2L668.1,159.0L668.6,159.7L669.2,160.2L669.9,160.7L670.7,161.1L671.5,161.4L672.5,161.6L673.6,161.7L675.0,161.7L676.0,161.6L677.0,161.4L677.9,161.1L678.7,160.7L679.4,160.2L680.0,159.6L680.5,159.0L680.9,158.2L681.2,157.4L681.4,156.5L681.4,155.4L681.4,154.2L681.3,153.2L681.0,152.3L680.7,151.6L680.2,150.9L679.6,150.2L679.0,149.7 M669.5,130.4L668.9,131.0L668.3,131.6L667.8,132.2L667.5,133.0L667.2,133.8L667.1,134.8L667.1,136.0L667.1,137.0L667.3,137.9L667.6,138.7L668.0,139.4L668.5,140.0L669.2,140.6L669.9,141.1L670.6,141.4L671.5,141.7L672.5,141.9L673.6,142.0L674.9,142.0L676.0,141.9L677.0,141.7L677.9,141.4L678.6,141.1L679.3,140.6L680.0,140.0L680.5,139.4L680.9,138.7L681.2,137.9L681.4,137.0L681.4,136.0L681.4,134.8L681.3,133.8L681.0,133.0L680.7,132.2L680.2,131.6L679.6,131.0L679.0,130.4 M659.4,118.3L681.5,118.3 M667.1,122.5L667.1,114.2" fill="none" stroke="#000" stroke-width="2.7" stroke-linecap="round" stroke-linejoin="round"/>
<path d="M644.2,728.8L622.2,721.0L644.2,713.0 M635.8,725.7L635.8,716.2 M622.2,703.5L644.2,703.5 M629.5,707.8L629.5,699.1 M622.2,672.8L644.2,672.8L644.2,660.0 M636.8,654.3L636.8,641.6L636.8,641.6L635.5,641.7L634.5,641.8L633.6,642.1L632.7,642.4L631.9,642.9L631.3,643.4L630.7,644.0L630.2,644.6L629.9,645.4L629.6,646.2L629.5,647.2L629.5,648.3L629.5,649.3L629.7,650.2L630.1,651.0L630.5,651.7L631.0,652.3L631.6,652.9L632.3,653.4L633.1,653.8L634.0,654.0L635.0,654.2L636.1,654.3L637.5,654.3L638.6,654.2L639.6,654.0L640.5,653.7L641.3,653.4L642.0,652.9L642.6,652.3L643.1,651.7L643.6,651.0L643.9,650.2L644.1,649.3L644.1,648.3L644.1,647.1L644.0,646.2L643.7,645.4L643.3,644.6L642.9,643.9L642.3,643.4L641.6,642.8 M629.5,622.0L644.2,622.0 M632.0,623.2L631.3,623.8L630.7,624.4L630.3,625.0L629.9,625.8L629.6,626.6L629.5,627.6L629.5,628.8L629.5,629.8L629.7,630.7L630.0,631.5L630.5,632.2L631.0,632.8L631.6,633.4L632.3,633.9L633.1,634.2L634.0,634.5L635.0,634.7L636.1,634.8L637.5,634.8L638.6,634.7L639.6,634.5L640.5,634.2L641.3,633.9L642.0,633.4L642.6,632.8L643.1,632.2L643.6,631.5L643.9,630.7L644.1,629.8L644.1,628.8L644.1,627.6L644.0,626.6L643.7,625.8L643.3,625.0L642.9,624.4L642.3,623.8L641.6,623.2 M631.4,604.4L631.0,604.7L630.6,605.1L630.3,605.5L630.0,606.1L629.8,606.7L629.6,607.3L629.5,608.1L629.5,608.9L629.5,609.9L629.5,610.8L629.6,611.5L629.8,612.2L630.0,612.8L630.3,613.3L630.6,613.8L631.0,614.1L631.4,614.5L631.9,614.7L632.4,614.8L632.9,614.9L633.6,614.9L634.2,614.8L634.6,614.6L635.1,614.3L635.5,614.0L635.8,613.5L636.1,613.0L636.3,612.5L636.5,611.8L636.7,611.1L636.8,610.4L636.8,609.4L636.8,609.4L636.8,608.4L636.9,607.6L637.1,606.8L637.3,606.1L637.5,605.5L637.8,605.0L638.1,604.6L638.5,604.2L639.0,603.9L639.4,603.7L640.0,603.6L640.7,603.6L641.2,603.6L641.7,603.8L642.2,604.0L642.6,604.4L643.0,604.8L643.3,605.3L643.6,605.8L643.8,606.5L644.0,607.2L644.1,608.0L644.1,608.8L644.1,609.9L644.1,610.8L644.0,611.6L643.8,612.3L643.6,613.0L643.3,613.5L643.0,614.0L642.6,614.4L642.2,614.8 M622.2,592.2L644.2,592.2 M629.5,596.2L629.5,588.1 M633.2,545.5L631.1,545.6L629.5,545.8L628.1,546.0L626.9,546.4L625.8,546.8L624.9,547.4L624.1,548.1L623.4,548.8L622.9,549.7L622.5,550.6L622.3,551.7L622.2,553.2L622.3,554.7L622.5,555.8L622.9,556.7L623.4,557.6L624.1,558.3L624.9,559.0L625.8,559.6L626.9,560.0L628.1,560.4L629.5,560.6L631.1,560.8L633.2,560.9L635.3,560.8L636.9,560.6L638.3,560.4L639.5,560.0L640.6,559.6L641.5,559.0L642.3,558.3L643.0,557.6L643.5,556.7L643.9,555.8L644.1,554.7L644.2,553.2L644.1,551.7L643.9,550.6L643.5,549.7L643.0,548.8L642.3,548.1L641.5,547.4L640.6,546.8L639.5,546.4L638.3,546.0L636.9,545.8L635.3,545.6L633.2,545.5 M644.2,538.8L629.5,538.8 M635.0,538.8L633.5,538.4L632.7,538.1L632.0,537.7L631.3,537.2L630.8,536.7L630.3,536.0L630.0,535.3L629.7,534.5L629.5,533.7L629.5,532.7L629.5,531.5L629.6,530.6L629.8,529.8L630.2,529.0L630.6,528.3L631.1,527.8L631.7,527.2L632.4,526.8L633.2,526.5L634.0,526.2L634.9,526.1L636.1,526.0L644.2,526.0 M636.8,519.8L636.8,506.4L636.8,506.4L635.5,506.5L634.5,506.7L633.6,506.9L632.7,507.3L631.9,507.7L631.3,508.3L630.7,508.9L630.2,509.6L629.9,510.4L629.6,511.2L629.5,512.2L629.5,513.5L629.5,514.5L629.7,515.4L630.1,516.2L630.5,517.0L631.0,517.7L631.6,518.2L632.3,518.7L633.1,519.1L634.0,519.4L635.0,519.6L636.1,519.7L637.5,519.7L638.6,519.6L639.6,519.4L640.5,519.1L641.3,518.7L642.0,518.2L642.6,517.6L643.1,517.0L643.6,516.2L643.9,515.4L644.1,514.5L644.1,513.4L644.1,512.2L644.0,511.2L643.7,510.3L643.3,509.6L642.9,508.9L642.3,508.2L641.6,507.7" fill="none" stroke="#000" stroke-width="2.7" stroke-linecap="round" stroke-linejoin="round"/>
<path d="M681.5,757.5L659.4,757.5L659.4,748.0L659.4,748.0L659.4,747.0L659.5,746.1L659.7,745.3L660.0,744.6L660.4,744.0L660.8,743.4L661.3,742.9L661.9,742.5L662.5,742.2L663.2,741.9L663.9,741.8L664.9,741.8L665.8,741.8L666.6,741.9L667.3,742.2L667.9,742.5L668.5,742.9L669.0,743.4L669.4,744.0L669.8,744.6L670.0,745.3L670.2,746.1L670.4,747.0L670.4,748.0L670.4,757.5 M674.2,734.6L674.2,723.0L674.2,723.0L673.0,723.1L672.0,723.2L671.1,723.5L670.2,723.8L669.5,724.2L668.8,724.6L668.3,725.2L667.8,725.8L667.5,726.5L667.2,727.2L667.1,728.1L667.1,729.2L667.1,730.1L667.3,730.9L667.6,731.6L668.1,732.2L668.6,732.8L669.2,733.3L669.9,733.8L670.7,734.1L671.5,734.4L672.5,734.6L673.6,734.6L675.0,734.6L676.0,734.5L677.0,734.4L677.9,734.1L678.7,733.7L679.4,733.3L680.0,732.8L680.5,732.2L680.9,731.6L681.2,730.8L681.4,730.0L681.4,729.1L681.4,728.0L681.3,727.2L681.0,726.4L680.7,725.8L680.2,725.1L679.6,724.6L679.0,724.1 M681.5,716.0L667.1,716.0 M676.4,716.0L674.8,715.9L673.5,715.7L672.3,715.4L671.3,715.0L670.3,714.4L669.5,713.7L668.8,713.0L668.2,712.1L667.7,711.2L667.3,710.1L667.1,708.9L667.1,707.5L667.2,703.8 M669.5,685.4L668.9,685.9L668.3,686.5L667.8,687.2L667.5,687.9L667.2,688.7L667.1,689.6L667.1,690.8L667.1,691.8L667.3,692.7L667.6,693.4L668.0,694.1L668.5,694.8L669.2,695.3L669.9,695.8L670.6,696.2L671.5,696.4L672.5,696.6L673.6,696.7L674.9,696.7L676.0,696.6L677.0,696.4L677.9,696.2L678.6,695.8L679.3,695.3L680.0,694.8L680.5,694.1L680.9,693.4L681.2,692.7L681.4,691.8L681.4,690.8L681.4,689.6L681.3,688.7L681.0,687.9L680.7,687.2L680.2,686.5L679.6,685.9L679.0,685.4 M674.2,677.1L674.2,664.6L674.2,664.6L673.0,664.7L672.0,664.8L671.1,665.1L670.2,665.4L669.5,665.8L668.8,666.3L668.3,666.9L667.8,667.6L667.5,668.3L667.2,669.2L667.1,670.1L667.1,671.2L667.1,672.2L667.3,673.1L667.6,673.9L668.1,674.6L668.6,675.2L669.2,675.7L669.9,676.2L670.7,676.6L671.5,676.9L672.5,677.0L673.6,677.1L675.0,677.1L676.0,677.0L677.0,676.8L677.9,676.6L678.7,676.2L679.4,675.7L680.0,675.2L680.5,674.5L680.9,673.8L681.2,673.0L681.4,672.2L681.4,671.2L681.4,670.0L681.3,669.1L681.0,668.3L680.7,667.6L680.2,666.9L679.6,666.3L679.0,665.8 M681.5,658.1L667.1,658.1 M672.5,658.1L671.0,657.8L670.2,657.5L669.5,657.2L668.9,656.7L668.4,656.2L667.9,655.6L667.6,654.9L667.3,654.1L667.1,653.3L667.1,652.3L667.1,651.2L667.2,650.4L667.4,649.6L667.8,648.9L668.2,648.2L668.7,647.7L669.3,647.2L669.9,646.8L670.7,646.5L671.5,646.2L672.4,646.1L673.5,646.0L681.5,646.0 M659.4,635.2L681.5,635.2 M667.1,639.5L667.1,631.0 M662.9,589.7L661.9,590.4L661.1,591.2L660.4,592.0L659.9,593.0L659.6,594.1L659.4,595.2L659.4,596.8L659.5,598.0L659.8,599.1L660.3,600.1L660.9,601.0L661.7,601.7L662.7,602.4L663.7,603.0L664.9,603.5L666.3,603.9L667.7,604.1L669.4,604.2L671.4,604.2L673.1,604.1L674.5,603.9L675.9,603.5L677.1,603.0L678.1,602.4L679.1,601.7L679.9,601.0L680.5,600.1L681.0,599.1L681.3,598.0L681.4,596.8L681.4,595.2L681.2,594.1L680.9,593.0L680.4,592.0L679.7,591.2L678.9,590.4L677.9,589.7 M674.2,569.2L672.8,569.3L671.8,569.4L670.9,569.6L670.1,569.9L669.4,570.3L668.8,570.8L668.3,571.3L667.8,572.0L667.5,572.7L667.2,573.4L667.1,574.4L667.1,575.6L667.1,576.8L667.2,577.8L667.5,578.5L667.8,579.2L668.3,579.9L668.8,580.4L669.4,580.9L670.1,581.3L670.9,581.6L671.8,581.8L672.8,581.9L674.2,582.0L675.7,581.9L676.7,581.8L677.6,581.6L678.4,581.3L679.1,580.9L679.7,580.4L680.2,579.9L680.7,579.2L681.0,578.5L681.3,577.8L681.4,576.8L681.5,575.6L681.4,574.4L681.3,573.4L681.0,572.7L680.7,572.0L680.2,571.3L679.7,570.8L679.1,570.3L678.4,569.9L677.6,569.6L676.7,569.4L675.7,569.3L674.3,569.2 M681.5,562.2L667.1,562.2 M676.4,562.2L674.8,562.2L673.5,562.0L672.3,561.7L671.3,561.3L670.3,560.8L669.5,560.2L668.8,559.5L668.2,558.6L667.7,557.7L667.3,556.7L667.1,555.6L667.1,554.3L667.2,550.9 M681.5,543.5L667.1,543.5 M676.4,543.5L674.8,543.4L673.5,543.2L672.3,542.9L671.3,542.4L670.3,541.9L669.5,541.2L668.8,540.4L668.2,539.6L667.7,538.6L667.3,537.5L667.1,536.3L667.1,534.8L667.2,531.1 M674.2,525.2L674.2,511.9L674.2,511.9L673.0,512.0L672.0,512.2L671.1,512.4L670.2,512.8L669.5,513.2L668.8,513.8L668.3,514.4L667.8,515.1L667.5,515.9L667.2,516.7L667.1,517.7L667.1,519.0L667.1,520.0L667.3,520.9L667.6,521.7L668.1,522.5L668.6,523.2L669.2,523.7L669.9,524.2L670.7,524.6L671.5,524.9L672.5,525.1L673.6,525.2L675.0,525.2L676.0,525.1L677.0,524.9L677.9,524.6L678.7,524.2L679.4,523.7L680.0,523.1L680.5,522.5L680.9,521.7L681.2,520.9L681.4,520.0L681.4,518.9L681.4,517.7L681.3,516.7L681.0,515.8L680.7,515.1L680.2,514.4L679.6,513.7L679.0,513.2 M669.5,493.9L668.9,494.5L668.3,495.1L667.8,495.7L667.5,496.5L667.2,497.3L667.1,498.3L667.1,499.5L667.1,500.5L667.3,501.4L667.6,502.2L668.0,502.9L668.5,503.5L669.2,504.1L669.9,504.6L670.6,504.9L671.5,505.2L672.5,505.4L673.6,505.5L674.9,505.5L676.0,505.4L677.0,505.2L677.9,504.9L678.6,504.6L679.3,504.1L680.0,503.5L680.5,502.9L680.9,502.2L681.2,501.4L681.4,500.5L681.4,499.5L681.4,498.3L681.3,497.3L681.0,496.5L680.7,495.7L680.2,495.1L679.6,494.5L679.0,493.9 M659.4,481.8L681.5,481.8 M667.1,485.9L667.1,477.6" fill="none" stroke="#000" stroke-width="2.7" stroke-linecap="round" stroke-linejoin="round"/>
<path d="M521.9,415.1L521.9,399.3 M521.9,407.2L543.6,407.2 M529.8,394.6L543.6,390.6L529.8,386.6L543.6,382.7L529.8,378.7 M536.7,358.8L535.3,358.8L534.4,359.0L533.5,359.2L532.7,359.5L532.0,359.9L531.5,360.4L530.9,360.9L530.5,361.6L530.2,362.3L530.0,363.2L529.8,364.1L529.8,365.4L529.8,366.7L530.0,367.6L530.2,368.5L530.5,369.2L530.9,369.9L531.5,370.4L532.0,370.9L532.7,371.3L533.5,371.6L534.4,371.8L535.3,372.0L536.7,372.0L538.1,372.0L539.0,371.8L539.9,371.6L540.7,371.3L541.4,370.9L541.9,370.4L542.5,369.9L542.9,369.2L543.2,368.5L543.4,367.6L543.6,366.7L543.6,365.4L543.6,364.1L543.4,363.2L543.2,362.3L542.9,361.6L542.5,360.9L541.9,360.4L541.4,359.9L540.7,359.5L539.9,359.2L539.0,359.0L538.1,358.8L536.7,358.8 M521.9,332.9L543.6,328.1L521.9,323.2L543.6,318.4L521.9,313.6 M536.7,293.7L535.3,293.7L534.4,293.9L533.5,294.1L532.7,294.5L532.0,294.9L531.5,295.4L530.9,296.1L530.5,296.8L530.2,297.6L530.0,298.5L529.8,299.5L529.8,300.9L529.8,302.4L530.0,303.4L530.2,304.3L530.5,305.1L530.9,305.8L531.5,306.5L532.0,307.0L532.7,307.4L533.5,307.8L534.4,308.0L535.3,308.2L536.7,308.2L538.1,308.2L539.0,308.0L539.9,307.8L540.7,307.4L541.4,307.0L541.9,306.5L542.5,305.8L542.9,305.1L543.2,304.3L543.4,303.4L543.6,302.4L543.6,301.0L543.6,299.5L543.4,298.5L543.2,297.6L542.9,296.8L542.5,296.1L541.9,295.4L541.4,294.9L540.7,294.5L539.9,294.1L539.0,293.9L538.1,293.7L536.7,293.7 M543.6,287.4L529.8,287.4 M538.8,287.4L537.2,287.4L536.0,287.2L534.9,286.9L533.9,286.5L532.9,286.0L532.1,285.3L531.4,284.6L530.8,283.8L530.4,282.8L530.0,281.8L529.8,280.7L529.8,279.3L529.9,275.9 M521.9,255.1L543.6,255.1 M532.2,256.5L531.5,257.1L531.0,257.8L530.5,258.6L530.2,259.5L529.9,260.5L529.8,261.6L529.8,263.1L529.9,264.3L530.0,265.3L530.3,266.3L530.7,267.1L531.2,267.9L531.8,268.6L532.5,269.1L533.2,269.6L534.1,270.0L535.0,270.2L536.0,270.3L537.4,270.3L538.4,270.2L539.3,270.0L540.2,269.6L540.9,269.1L541.6,268.6L542.2,267.9L542.7,267.1L543.1,266.3L543.4,265.3L543.5,264.3L543.6,263.1L543.6,261.6L543.5,260.5L543.2,259.5L542.9,258.6L542.4,257.8L541.9,257.1L541.2,256.5 M543.6,230.3L521.9,230.3L521.9,220.3L521.9,220.3L521.9,219.1L522.0,218.2L522.2,217.4L522.5,216.6L522.8,215.9L523.2,215.3L523.7,214.8L524.2,214.4L524.8,214.0L525.5,213.8L526.2,213.6L527.1,213.6L528.0,213.6L528.7,213.8L529.4,214.0L530.0,214.4L530.5,214.8L531.0,215.3L531.4,215.9L531.7,216.6L532.0,217.4L532.2,218.2L532.3,219.1L532.3,220.3L532.3,230.3 M532.3,221.1L543.6,213.6 M536.7,208.7L536.7,197.1L536.7,197.1L535.5,197.1L534.5,197.3L533.6,197.5L532.8,197.8L532.1,198.2L531.5,198.7L531.0,199.2L530.5,199.8L530.2,200.5L529.9,201.3L529.8,202.1L529.8,203.2L529.9,204.1L530.0,204.9L530.3,205.7L530.7,206.3L531.2,206.9L531.8,207.4L532.5,207.8L533.2,208.2L534.1,208.4L535.0,208.6L536.1,208.7L537.4,208.7L538.4,208.6L539.3,208.4L540.2,208.2L540.9,207.8L541.6,207.4L542.2,206.9L542.7,206.3L543.1,205.6L543.4,204.9L543.5,204.1L543.6,203.2L543.6,202.1L543.5,201.2L543.2,200.5L542.9,199.8L542.4,199.2L541.9,198.6L541.2,198.2 M531.6,177.8L531.2,178.2L530.9,178.6L530.6,179.2L530.3,179.9L530.1,180.6L529.9,181.4L529.8,182.3L529.8,183.4L529.8,184.7L529.8,185.7L529.9,186.6L530.1,187.4L530.3,188.1L530.6,188.8L530.9,189.4L531.2,189.9L531.6,190.2L532.0,190.5L532.5,190.7L533.1,190.8L533.7,190.8L534.2,190.6L534.7,190.4L535.1,190.1L535.4,189.6L535.8,189.1L536.0,188.5L536.3,187.8L536.5,187.0L536.6,186.1L536.7,185.2L536.7,184.0L536.7,184.0L536.7,182.7L536.8,181.7L536.9,180.8L537.1,180.0L537.4,179.2L537.6,178.6L538.0,178.0L538.3,177.6L538.7,177.2L539.2,176.9L539.7,176.8L540.3,176.8L540.9,176.9L541.4,177.1L541.8,177.4L542.2,177.8L542.5,178.3L542.8,178.9L543.1,179.6L543.3,180.4L543.5,181.3L543.6,182.2L543.6,183.3L543.6,184.7L543.6,185.8L543.5,186.7L543.3,187.6L543.1,188.4L542.8,189.1L542.5,189.7L542.2,190.2L541.8,190.6 M529.8,171.2L549.9,171.2 M532.2,169.9L531.5,169.3L531.0,168.6L530.5,167.8L530.2,167.0L529.9,166.1L529.8,165.0L529.8,163.7L529.9,162.5L530.0,161.5L530.3,160.6L530.7,159.8L531.2,159.1L531.8,158.4L532.5,157.9L533.2,157.5L534.1,157.1L535.0,156.9L536.0,156.8L537.4,156.8L538.4,156.9L539.3,157.1L540.2,157.5L540.9,157.9L541.6,158.4L542.2,159.1L542.7,159.8L543.1,160.6L543.4,161.5L543.5,162.5L543.6,163.7L543.6,165.0L543.5,166.1L543.2,167.0L542.9,167.8L542.4,168.6L541.9,169.3L541.2,169.9 M518.9,126.5L520.8,127.6L523.0,128.6L525.3,129.3L527.8,129.9L530.6,130.2L534.0,130.3L537.4,130.2L540.2,129.9L542.7,129.3L545.0,128.6L547.2,127.6L549.1,126.5 M543.6,119.5L521.9,102.9 M526.2,112.9L524.9,113.0L523.8,113.3L523.0,113.7L522.4,114.4L522.0,115.2L521.9,116.2L522.0,117.2L522.4,118.0L523.0,118.7L523.8,119.1L524.9,119.4L526.2,119.5L527.6,119.4L528.6,119.1L529.4,118.7L530.1,118.0L530.4,117.2L530.6,116.2L530.4,115.2L530.1,114.4L529.4,113.7L528.6,113.3L527.6,113.0L526.2,112.9 M539.3,102.9L537.9,103.0L536.9,103.3L536.1,103.7L535.4,104.4L535.1,105.2L534.9,106.2L535.1,107.2L535.4,108.0L536.1,108.7L536.9,109.1L537.9,109.4L539.3,109.5L540.6,109.4L541.7,109.1L542.5,108.7L543.1,108.0L543.5,107.2L543.6,106.2L543.5,105.2L543.1,104.4L542.5,103.7L541.7,103.3L540.6,103.0L539.3,102.9 M526.2,112.9L524.0,107.9L521.9,102.9 M518.9,95.3L520.8,94.3L523.0,93.5L525.3,92.9L527.8,92.4L530.6,92.2L534.0,92.1L537.4,92.2L540.2,92.4L542.7,92.9L545.0,93.5L547.2,94.3L549.1,95.3" fill="none" stroke="#aa00b0" stroke-width="2.55" stroke-linecap="round" stroke-linejoin="round"/>
<path d="M521.9,778.6L521.9,762.8 M521.9,770.7L543.6,770.7 M529.8,758.1L543.6,754.1L529.8,750.1L543.6,746.2L529.8,742.2 M536.7,722.3L535.3,722.3L534.4,722.5L533.5,722.7L532.7,723.0L532.0,723.4L531.5,723.9L530.9,724.4L530.5,725.1L530.2,725.8L530.0,726.7L529.8,727.6L529.8,728.9L529.8,730.2L530.0,731.1L530.2,732.0L530.5,732.7L530.9,733.4L531.5,733.9L532.0,734.4L532.7,734.8L533.5,735.1L534.4,735.3L535.3,735.5L536.7,735.5L538.1,735.5L539.0,735.3L539.9,735.1L540.7,734.8L541.4,734.4L541.9,733.9L542.5,733.4L542.9,732.7L543.2,732.0L543.4,731.1L543.6,730.2L543.6,728.9L543.6,727.6L543.4,726.7L543.2,725.8L542.9,725.1L542.5,724.4L541.9,723.9L541.4,723.4L540.7,723.0L539.9,722.7L539.0,722.5L538.1,722.3L536.7,722.3 M521.9,696.4L543.6,691.6L521.9,686.8L543.6,681.9L521.9,677.1 M536.7,657.2L535.3,657.2L534.4,657.4L533.5,657.6L532.7,658.0L532.0,658.4L531.5,658.9L530.9,659.6L530.5,660.3L530.2,661.1L530.0,662.0L529.8,663.0L529.8,664.4L529.8,665.9L530.0,666.9L530.2,667.8L530.5,668.6L530.9,669.3L531.5,670.0L532.0,670.5L532.7,670.9L533.5,671.3L534.4,671.5L535.3,671.7L536.7,671.7L538.1,671.7L539.0,671.5L539.9,671.3L540.7,670.9L541.4,670.5L541.9,670.0L542.5,669.3L542.9,668.6L543.2,667.8L543.4,666.9L543.6,665.9L543.6,664.5L543.6,663.0L543.4,662.0L543.2,661.1L542.9,660.3L542.5,659.6L541.9,658.9L541.4,658.4L540.7,658.0L539.9,657.6L539.0,657.4L538.1,657.2L536.7,657.2 M543.6,650.9L529.8,650.9 M538.8,650.9L537.2,650.9L536.0,650.7L534.9,650.4L533.9,650.0L532.9,649.5L532.1,648.8L531.4,648.1L530.8,647.3L530.4,646.3L530.0,645.3L529.8,644.2L529.8,642.8L529.9,639.4 M521.9,618.6L543.6,618.6 M532.2,620.0L531.5,620.6L531.0,621.3L530.5,622.1L530.2,623.0L529.9,624.0L529.8,625.1L529.8,626.6L529.9,627.8L530.0,628.8L530.3,629.8L530.7,630.6L531.2,631.4L531.8,632.1L532.5,632.6L533.2,633.1L534.1,633.5L535.0,633.7L536.0,633.8L537.4,633.8L538.4,633.7L539.3,633.5L540.2,633.1L540.9,632.6L541.6,632.1L542.2,631.4L542.7,630.6L543.1,629.8L543.4,628.8L543.5,627.8L543.6,626.6L543.6,625.1L543.5,624.0L543.2,623.0L542.9,622.1L542.4,621.3L541.9,620.6L541.2,620.0 M543.6,593.8L521.9,593.8L521.9,583.8L521.9,583.8L521.9,582.6L522.0,581.7L522.2,580.9L522.5,580.1L522.8,579.4L523.2,578.8L523.7,578.3L524.2,577.9L524.8,577.5L525.5,577.3L526.2,577.1L527.1,577.1L528.0,577.1L528.7,577.3L529.4,577.5L530.0,577.9L530.5,578.3L531.0,578.8L531.4,579.4L531.7,580.1L532.0,580.9L532.2,581.7L532.3,582.6L532.3,583.8L532.3,593.8 M532.3,584.6L543.6,577.1 M536.7,572.2L536.7,560.6L536.7,560.6L535.5,560.6L534.5,560.8L533.6,561.0L532.8,561.3L532.1,561.7L531.5,562.2L531.0,562.7L530.5,563.3L530.2,564.0L529.9,564.8L529.8,565.6L529.8,566.7L529.9,567.6L530.0,568.4L530.3,569.2L530.7,569.8L531.2,570.4L531.8,570.9L532.5,571.3L533.2,571.7L534.1,571.9L535.0,572.1L536.1,572.2L537.4,572.2L538.4,572.1L539.3,571.9L540.2,571.7L540.9,571.3L541.6,570.9L542.2,570.4L542.7,569.8L543.1,569.1L543.4,568.4L543.5,567.6L543.6,566.7L543.6,565.6L543.5,564.7L543.2,564.0L542.9,563.3L542.4,562.7L541.9,562.1L541.2,561.7 M531.6,541.3L531.2,541.7L530.9,542.1L530.6,542.7L530.3,543.4L530.1,544.1L529.9,544.9L529.8,545.8L529.8,546.9L529.8,548.2L529.8,549.2L529.9,550.1L530.1,550.9L530.3,551.6L530.6,552.3L530.9,552.9L531.2,553.4L531.6,553.7L532.0,554.0L532.5,554.2L533.1,554.3L533.7,554.3L534.2,554.1L534.7,553.9L535.1,553.6L535.4,553.1L535.8,552.6L536.0,552.0L536.3,551.3L536.5,550.5L536.6,549.6L536.7,548.7L536.7,547.5L536.7,547.5L536.7,546.2L536.8,545.2L536.9,544.3L537.1,543.5L537.4,542.7L537.6,542.1L538.0,541.5L538.3,541.1L538.7,540.7L539.2,540.4L539.7,540.3L540.3,540.3L540.9,540.4L541.4,540.6L541.8,540.9L542.2,541.3L542.5,541.8L542.8,542.4L543.1,543.1L543.3,543.9L543.5,544.8L543.6,545.7L543.6,546.8L543.6,548.2L543.6,549.3L543.5,550.2L543.3,551.1L543.1,551.9L542.8,552.6L542.5,553.2L542.2,553.7L541.8,554.1 M529.8,534.7L549.9,534.7 M532.2,533.4L531.5,532.8L531.0,532.1L530.5,531.3L530.2,530.5L529.9,529.6L529.8,528.5L529.8,527.2L529.9,526.0L530.0,525.0L530.3,524.1L530.7,523.3L531.2,522.6L531.8,521.9L532.5,521.4L533.2,521.0L534.1,520.6L535.0,520.4L536.0,520.3L537.4,520.3L538.4,520.4L539.3,520.6L540.2,521.0L540.9,521.4L541.6,521.9L542.2,522.6L542.7,523.3L543.1,524.1L543.4,525.0L543.5,526.0L543.6,527.2L543.6,528.5L543.5,529.6L543.2,530.5L542.9,531.3L542.4,532.1L541.9,532.8L541.2,533.4 M518.9,490.0L520.8,491.1L523.0,492.1L525.3,492.8L527.8,493.4L530.6,493.7L534.0,493.8L537.4,493.7L540.2,493.4L542.7,492.8L545.0,492.1L547.2,491.1L549.1,490.0 M543.6,483.0L521.9,466.4 M526.2,476.4L524.9,476.5L523.8,476.8L523.0,477.2L522.4,477.9L522.0,478.7L521.9,479.7L522.0,480.7L522.4,481.5L523.0,482.2L523.8,482.6L524.9,482.9L526.2,483.0L527.6,482.9L528.6,482.6L529.4,482.2L530.1,481.5L530.4,480.7L530.6,479.7L530.4,478.7L530.1,477.9L529.4,477.2L528.6,476.8L527.6,476.5L526.2,476.4 M539.3,466.4L537.9,466.5L536.9,466.8L536.1,467.2L535.4,467.9L535.1,468.7L534.9,469.7L535.1,470.7L535.4,471.5L536.1,472.2L536.9,472.6L537.9,472.9L539.3,473.0L540.6,472.9L541.7,472.6L542.5,472.2L543.1,471.5L543.5,470.7L543.6,469.7L543.5,468.7L543.1,467.9L542.5,467.2L541.7,466.8L540.6,466.5L539.3,466.4 M526.2,476.4L524.0,471.4L521.9,466.4 M518.9,458.8L520.8,457.8L523.0,457.0L525.3,456.4L527.8,455.9L530.6,455.7L534.0,455.6L537.4,455.7L540.2,455.9L542.7,456.4L545.0,457.0L547.2,457.8L549.1,458.8" fill="none" stroke="#aa00b0" stroke-width="2.55" stroke-linecap="round" stroke-linejoin="round"/>
<path d="M1316.5,416.1L1316.5,400.3 M1316.5,408.2L1338.2,408.2 M1324.4,395.6L1338.2,391.6L1324.4,387.6L1338.2,383.7L1324.4,379.7 M1331.3,359.8L1329.9,359.8L1329.0,360.0L1328.1,360.2L1327.3,360.5L1326.6,360.9L1326.1,361.4L1325.5,361.9L1325.1,362.6L1324.8,363.3L1324.6,364.2L1324.4,365.1L1324.4,366.4L1324.4,367.7L1324.6,368.6L1324.8,369.5L1325.1,370.2L1325.5,370.9L1326.1,371.4L1326.6,371.9L1327.3,372.3L1328.1,372.6L1329.0,372.8L1329.9,373.0L1331.3,373.0L1332.7,373.0L1333.6,372.8L1334.5,372.6L1335.3,372.3L1336.0,371.9L1336.5,371.4L1337.1,370.9L1337.5,370.2L1337.8,369.5L1338.0,368.6L1338.2,367.7L1338.2,366.4L1338.2,365.1L1338.0,364.2L1337.8,363.3L1337.5,362.6L1337.1,361.9L1336.5,361.4L1336.0,360.9L1335.3,360.5L1334.5,360.2L1333.6,360.0L1332.7,359.8L1331.3,359.8 M1316.5,333.9L1338.2,329.1L1316.5,324.2L1338.2,319.4L1316.5,314.6 M1331.3,294.7L1329.9,294.7L1329.0,294.9L1328.1,295.1L1327.3,295.5L1326.6,295.9L1326.1,296.4L1325.5,297.1L1325.1,297.8L1324.8,298.6L1324.6,299.5L1324.4,300.5L1324.4,301.9L1324.4,303.4L1324.6,304.4L1324.8,305.3L1325.1,306.1L1325.5,306.8L1326.1,307.5L1326.6,308.0L1327.3,308.4L1328.1,308.8L1329.0,309.0L1329.9,309.2L1331.3,309.2L1332.7,309.2L1333.6,309.0L1334.5,308.8L1335.3,308.4L1336.0,308.0L1336.5,307.5L1337.1,306.8L1337.5,306.1L1337.8,305.3L1338.0,304.4L1338.2,303.4L1338.2,302.0L1338.2,300.5L1338.0,299.5L1337.8,298.6L1337.5,297.8L1337.1,297.1L1336.5,296.4L1336.0,295.9L1335.3,295.5L1334.5,295.1L1333.6,294.9L1332.7,294.7L1331.3,294.7 M1338.2,288.4L1324.4,288.4 M1333.4,288.4L1331.8,288.4L1330.6,288.2L1329.5,287.9L1328.5,287.5L1327.5,287.0L1326.7,286.3L1326.0,285.6L1325.4,284.8L1325.0,283.8L1324.6,282.8L1324.4,281.7L1324.4,280.3L1324.5,276.9 M1316.5,256.1L1338.2,256.1 M1326.8,257.5L1326.1,258.1L1325.6,258.8L1325.1,259.6L1324.8,260.5L1324.5,261.5L1324.4,262.6L1324.4,264.1L1324.5,265.3L1324.6,266.3L1324.9,267.3L1325.3,268.1L1325.8,268.9L1326.4,269.6L1327.1,270.1L1327.8,270.6L1328.7,271.0L1329.6,271.2L1330.6,271.3L1332.0,271.3L1333.0,271.2L1333.9,271.0L1334.8,270.6L1335.5,270.1L1336.2,269.6L1336.8,268.9L1337.3,268.1L1337.7,267.3L1338.0,266.3L1338.1,265.3L1338.2,264.1L1338.2,262.6L1338.1,261.5L1337.8,260.5L1337.5,259.6L1337.0,258.8L1336.5,258.1L1335.8,257.5 M1338.2,231.3L1316.5,231.3L1316.5,221.3L1316.5,221.3L1316.5,220.1L1316.6,219.2L1316.8,218.4L1317.1,217.6L1317.4,216.9L1317.8,216.3L1318.3,215.8L1318.8,215.4L1319.4,215.0L1320.1,214.8L1320.8,214.6L1321.7,214.6L1322.6,214.6L1323.3,214.8L1324.0,215.0L1324.6,215.4L1325.1,215.8L1325.6,216.3L1326.0,216.9L1326.3,217.6L1326.6,218.4L1326.8,219.2L1326.9,220.1L1326.9,221.3L1326.9,231.3 M1326.9,222.1L1338.2,214.6 M1331.3,209.7L1331.3,198.1L1331.3,198.1L1330.1,198.1L1329.1,198.3L1328.2,198.5L1327.4,198.8L1326.7,199.2L1326.1,199.7L1325.6,200.2L1325.1,200.8L1324.8,201.5L1324.5,202.3L1324.4,203.1L1324.4,204.2L1324.5,205.1L1324.6,205.9L1324.9,206.7L1325.3,207.3L1325.8,207.9L1326.4,208.4L1327.1,208.8L1327.8,209.2L1328.7,209.4L1329.6,209.6L1330.7,209.7L1332.0,209.7L1333.0,209.6L1333.9,209.4L1334.8,209.2L1335.5,208.8L1336.2,208.4L1336.8,207.9L1337.3,207.3L1337.7,206.6L1338.0,205.9L1338.1,205.1L1338.2,204.2L1338.2,203.1L1338.1,202.2L1337.8,201.5L1337.5,200.8L1337.0,200.2L1336.5,199.6L1335.8,199.2 M1326.2,178.8L1325.8,179.2L1325.5,179.6L1325.2,180.2L1324.9,180.9L1324.7,181.6L1324.5,182.4L1324.4,183.3L1324.4,184.4L1324.4,185.7L1324.4,186.7L1324.5,187.6L1324.7,188.4L1324.9,189.1L1325.2,189.8L1325.5,190.4L1325.8,190.9L1326.2,191.2L1326.6,191.5L1327.1,191.7L1327.7,191.8L1328.3,191.8L1328.8,191.6L1329.3,191.4L1329.7,191.1L1330.0,190.6L1330.4,190.1L1330.6,189.5L1330.9,188.8L1331.1,188.0L1331.2,187.1L1331.3,186.2L1331.3,185.0L1331.3,185.0L1331.3,183.7L1331.4,182.7L1331.5,181.8L1331.7,181.0L1332.0,180.2L1332.2,179.6L1332.6,179.0L1332.9,178.6L1333.3,178.2L1333.8,177.9L1334.3,177.8L1334.9,177.8L1335.5,177.9L1336.0,178.1L1336.4,178.4L1336.8,178.8L1337.1,179.3L1337.4,179.9L1337.7,180.6L1337.9,181.4L1338.1,182.3L1338.2,183.2L1338.2,184.3L1338.2,185.7L1338.2,186.8L1338.1,187.7L1337.9,188.6L1337.7,189.4L1337.4,190.1L1337.1,190.7L1336.8,191.2L1336.4,191.6 M1324.4,172.2L1344.5,172.2 M1326.8,170.9L1326.1,170.3L1325.6,169.6L1325.1,168.8L1324.8,168.0L1324.5,167.1L1324.4,166.0L1324.4,164.7L1324.5,163.5L1324.6,162.5L1324.9,161.6L1325.3,160.8L1325.8,160.1L1326.4,159.4L1327.1,158.9L1327.8,158.5L1328.7,158.1L1329.6,157.9L1330.6,157.8L1332.0,157.8L1333.0,157.9L1333.9,158.1L1334.8,158.5L1335.5,158.9L1336.2,159.4L1336.8,160.1L1337.3,160.8L1337.7,161.6L1338.0,162.5L1338.1,163.5L1338.2,164.7L1338.2,166.0L1338.1,167.1L1337.8,168.0L1337.5,168.8L1337.0,169.6L1336.5,170.3L1335.8,170.9 M1313.5,127.5L1315.4,128.6L1317.6,129.6L1319.9,130.3L1322.4,130.9L1325.2,131.2L1328.6,131.3L1332.0,131.2L1334.8,130.9L1337.3,130.3L1339.6,129.6L1341.8,128.6L1343.7,127.5 M1338.2,120.5L1316.5,103.9 M1320.8,113.9L1319.5,114.0L1318.4,114.3L1317.6,114.7L1317.0,115.4L1316.6,116.2L1316.5,117.2L1316.6,118.2L1317.0,119.0L1317.6,119.7L1318.4,120.1L1319.5,120.4L1320.8,120.5L1322.2,120.4L1323.2,120.1L1324.0,119.7L1324.7,119.0L1325.0,118.2L1325.2,117.2L1325.0,116.2L1324.7,115.4L1324.0,114.7L1323.2,114.3L1322.2,114.0L1320.8,113.9 M1333.9,103.9L1332.5,104.0L1331.5,104.3L1330.7,104.7L1330.0,105.4L1329.7,106.2L1329.5,107.2L1329.7,108.2L1330.0,109.0L1330.7,109.7L1331.5,110.1L1332.5,110.4L1333.9,110.5L1335.2,110.4L1336.3,110.1L1337.1,109.7L1337.7,109.0L1338.1,108.2L1338.2,107.2L1338.1,106.2L1337.7,105.4L1337.1,104.7L1336.3,104.3L1335.2,104.0L1333.9,103.9 M1320.8,113.9L1318.7,108.9L1316.5,103.9 M1313.5,96.3L1315.4,95.3L1317.6,94.5L1319.9,93.9L1322.4,93.4L1325.2,93.2L1328.6,93.1L1332.0,93.2L1334.8,93.4L1337.3,93.9L1339.6,94.5L1341.8,95.3L1343.7,96.3" fill="none" stroke="#aa00b0" stroke-width="2.55" stroke-linecap="round" stroke-linejoin="round"/>
<path d="M1316.5,779.6L1316.5,763.8 M1316.5,771.7L1338.2,771.7 M1324.4,759.1L1338.2,755.1L1324.4,751.1L1338.2,747.2L1324.4,743.2 M1331.3,723.3L1329.9,723.3L1329.0,723.5L1328.1,723.7L1327.3,724.0L1326.6,724.4L1326.1,724.9L1325.5,725.4L1325.1,726.1L1324.8,726.8L1324.6,727.7L1324.4,728.6L1324.4,729.9L1324.4,731.2L1324.6,732.1L1324.8,733.0L1325.1,733.7L1325.5,734.4L1326.1,734.9L1326.6,735.4L1327.3,735.8L1328.1,736.1L1329.0,736.3L1329.9,736.5L1331.3,736.5L1332.7,736.5L1333.6,736.3L1334.5,736.1L1335.3,735.8L1336.0,735.4L1336.5,734.9L1337.1,734.4L1337.5,733.7L1337.8,733.0L1338.0,732.1L1338.2,731.2L1338.2,729.9L1338.2,728.6L1338.0,727.7L1337.8,726.8L1337.5,726.1L1337.1,725.4L1336.5,724.9L1336.0,724.4L1335.3,724.0L1334.5,723.7L1333.6,723.5L1332.7,723.3L1331.3,723.3 M1316.5,697.4L1338.2,692.6L1316.5,687.8L1338.2,682.9L1316.5,678.1 M1331.3,658.2L1329.9,658.2L1329.0,658.4L1328.1,658.6L1327.3,659.0L1326.6,659.4L1326.1,659.9L1325.5,660.6L1325.1,661.3L1324.8,662.1L1324.6,663.0L1324.4,664.0L1324.4,665.4L1324.4,666.9L1324.6,667.9L1324.8,668.8L1325.1,669.6L1325.5,670.3L1326.1,671.0L1326.6,671.5L1327.3,671.9L1328.1,672.3L1329.0,672.5L1329.9,672.7L1331.3,672.7L1332.7,672.7L1333.6,672.5L1334.5,672.3L1335.3,671.9L1336.0,671.5L1336.5,671.0L1337.1,670.3L1337.5,669.6L1337.8,668.8L1338.0,667.9L1338.2,666.9L1338.2,665.5L1338.2,664.0L1338.0,663.0L1337.8,662.1L1337.5,661.3L1337.1,660.6L1336.5,659.9L1336.0,659.4L1335.3,659.0L1334.5,658.6L1333.6,658.4L1332.7,658.2L1331.3,658.2 M1338.2,651.9L1324.4,651.9 M1333.4,651.9L1331.8,651.9L1330.6,651.7L1329.5,651.4L1328.5,651.0L1327.5,650.5L1326.7,649.8L1326.0,649.1L1325.4,648.3L1325.0,647.3L1324.6,646.3L1324.4,645.2L1324.4,643.8L1324.5,640.4 M1316.5,619.6L1338.2,619.6 M1326.8,621.0L1326.1,621.6L1325.6,622.3L1325.1,623.1L1324.8,624.0L1324.5,625.0L1324.4,626.1L1324.4,627.6L1324.5,628.8L1324.6,629.8L1324.9,630.8L1325.3,631.6L1325.8,632.4L1326.4,633.1L1327.1,633.6L1327.8,634.1L1328.7,634.5L1329.6,634.7L1330.6,634.8L1332.0,634.8L1333.0,634.7L1333.9,634.5L1334.8,634.1L1335.5,633.6L1336.2,633.1L1336.8,632.4L1337.3,631.6L1337.7,630.8L1338.0,629.8L1338.1,628.8L1338.2,627.6L1338.2,626.1L1338.1,625.0L1337.8,624.0L1337.5,623.1L1337.0,622.3L1336.5,621.6L1335.8,621.0 M1338.2,594.8L1316.5,594.8L1316.5,584.8L1316.5,584.8L1316.5,583.6L1316.6,582.7L1316.8,581.9L1317.1,581.1L1317.4,580.4L1317.8,579.8L1318.3,579.3L1318.8,578.9L1319.4,578.5L1320.1,578.3L1320.8,578.1L1321.7,578.1L1322.6,578.1L1323.3,578.3L1324.0,578.5L1324.6,578.9L1325.1,579.3L1325.6,579.8L1326.0,580.4L1326.3,581.1L1326.6,581.9L1326.8,582.7L1326.9,583.6L1326.9,584.8L1326.9,594.8 M1326.9,585.6L1338.2,578.1 M1331.3,573.2L1331.3,561.6L1331.3,561.6L1330.1,561.6L1329.1,561.8L1328.2,562.0L1327.4,562.3L1326.7,562.7L1326.1,563.2L1325.6,563.7L1325.1,564.3L1324.8,565.0L1324.5,565.8L1324.4,566.6L1324.4,567.7L1324.5,568.6L1324.6,569.4L1324.9,570.2L1325.3,570.8L1325.8,571.4L1326.4,571.9L1327.1,572.3L1327.8,572.7L1328.7,572.9L1329.6,573.1L1330.7,573.2L1332.0,573.2L1333.0,573.1L1333.9,572.9L1334.8,572.7L1335.5,572.3L1336.2,571.9L1336.8,571.4L1337.3,570.8L1337.7,570.1L1338.0,569.4L1338.1,568.6L1338.2,567.7L1338.2,566.6L1338.1,565.7L1337.8,565.0L1337.5,564.3L1337.0,563.7L1336.5,563.1L1335.8,562.7 M1326.2,542.3L1325.8,542.7L1325.5,543.1L1325.2,543.7L1324.9,544.4L1324.7,545.1L1324.5,545.9L1324.4,546.8L1324.4,547.9L1324.4,549.2L1324.4,550.2L1324.5,551.1L1324.7,551.9L1324.9,552.6L1325.2,553.3L1325.5,553.9L1325.8,554.4L1326.2,554.7L1326.6,555.0L1327.1,555.2L1327.7,555.3L1328.3,555.3L1328.8,555.1L1329.3,554.9L1329.7,554.6L1330.0,554.1L1330.4,553.6L1330.6,553.0L1330.9,552.3L1331.1,551.5L1331.2,550.6L1331.3,549.7L1331.3,548.5L1331.3,548.5L1331.3,547.2L1331.4,546.2L1331.5,545.3L1331.7,544.5L1332.0,543.7L1332.2,543.1L1332.6,542.5L1332.9,542.1L1333.3,541.7L1333.8,541.4L1334.3,541.3L1334.9,541.3L1335.5,541.4L1336.0,541.6L1336.4,541.9L1336.8,542.3L1337.1,542.8L1337.4,543.4L1337.7,544.1L1337.9,544.9L1338.1,545.8L1338.2,546.7L1338.2,547.8L1338.2,549.2L1338.2,550.3L1338.1,551.2L1337.9,552.1L1337.7,552.9L1337.4,553.6L1337.1,554.2L1336.8,554.7L1336.4,555.1 M1324.4,535.7L1344.5,535.7 M1326.8,534.4L1326.1,533.8L1325.6,533.1L1325.1,532.3L1324.8,531.5L1324.5,530.6L1324.4,529.5L1324.4,528.2L1324.5,527.0L1324.6,526.0L1324.9,525.1L1325.3,524.3L1325.8,523.6L1326.4,522.9L1327.1,522.4L1327.8,522.0L1328.7,521.6L1329.6,521.4L1330.6,521.3L1332.0,521.3L1333.0,521.4L1333.9,521.6L1334.8,522.0L1335.5,522.4L1336.2,522.9L1336.8,523.6L1337.3,524.3L1337.7,525.1L1338.0,526.0L1338.1,527.0L1338.2,528.2L1338.2,529.5L1338.1,530.6L1337.8,531.5L1337.5,532.3L1337.0,533.1L1336.5,533.8L1335.8,534.4 M1313.5,491.0L1315.4,492.1L1317.6,493.1L1319.9,493.8L1322.4,494.4L1325.2,494.7L1328.6,494.8L1332.0,494.7L1334.8,494.4L1337.3,493.8L1339.6,493.1L1341.8,492.1L1343.7,491.0 M1338.2,484.0L1316.5,467.4 M1320.8,477.4L1319.5,477.5L1318.4,477.8L1317.6,478.2L1317.0,478.9L1316.6,479.7L1316.5,480.7L1316.6,481.7L1317.0,482.5L1317.6,483.2L1318.4,483.6L1319.5,483.9L1320.8,484.0L1322.2,483.9L1323.2,483.6L1324.0,483.2L1324.7,482.5L1325.0,481.7L1325.2,480.7L1325.0,479.7L1324.7,478.9L1324.0,478.2L1323.2,477.8L1322.2,477.5L1320.8,477.4 M1333.9,467.4L1332.5,467.5L1331.5,467.8L1330.7,468.2L1330.0,468.9L1329.7,469.7L1329.5,470.7L1329.7,471.7L1330.0,472.5L1330.7,473.2L1331.5,473.6L1332.5,473.9L1333.9,474.0L1335.2,473.9L1336.3,473.6L1337.1,473.2L1337.7,472.5L1338.1,471.7L1338.2,470.7L1338.1,469.7L1337.7,468.9L1337.1,468.2L1336.3,467.8L1335.2,467.5L1333.9,467.4 M1320.8,477.4L1318.7,472.4L1316.5,467.4 M1313.5,459.8L1315.4,458.8L1317.6,458.0L1319.9,457.4L1322.4,456.9L1325.2,456.7L1328.6,456.6L1332.0,456.7L1334.8,456.9L1337.3,457.4L1339.6,458.0L1341.8,458.8L1343.7,459.8" fill="none" stroke="#aa00b0" stroke-width="2.55" stroke-linecap="round" stroke-linejoin="round"/>
<path d="M89.3,411.5L87.6,411.5L86.3,411.6L85.2,411.8L84.2,412.0L83.3,412.3L82.6,412.7L81.9,413.1L81.4,413.6L80.9,414.2L80.6,414.8L80.5,415.5L80.4,416.5L80.5,417.5L80.6,418.2L80.9,418.8L81.4,419.4L81.9,419.9L82.6,420.3L83.3,420.7L84.2,421.0L85.2,421.2L86.3,421.4L87.6,421.5L89.3,421.5L91.0,421.5L92.3,421.4L93.4,421.2L94.4,421.0L95.3,420.7L96.0,420.3L96.7,419.9L97.2,419.4L97.7,418.8L98.0,418.2L98.1,417.5L98.2,416.5L98.1,415.5L98.0,414.8L97.7,414.2L97.2,413.6L96.7,413.1L96.0,412.7L95.3,412.3L94.4,412.0L93.4,411.8L92.3,411.6L91.0,411.5L89.3,411.5 M83.8,363.3L83.2,363.1L82.7,362.9L82.1,362.6L81.7,362.2L81.3,361.8L81.0,361.3L80.7,360.8L80.5,360.2L80.4,359.6L80.4,358.8L80.4,358.0L80.5,357.4L80.7,356.8L81.0,356.2L81.3,355.8L81.7,355.3L82.1,355.0L82.7,354.7L83.2,354.4L83.8,354.3L84.5,354.2L85.4,354.1L86.2,354.2L86.9,354.3L87.5,354.4L88.1,354.7L98.2,363.6L98.2,353.9 M89.3,338.4L87.6,338.5L86.3,338.6L85.2,338.7L84.2,339.0L83.3,339.2L82.6,339.6L81.9,340.0L81.4,340.4L80.9,341.0L80.6,341.5L80.5,342.2L80.4,343.1L80.5,344.1L80.6,344.7L80.9,345.3L81.4,345.8L81.9,346.3L82.6,346.7L83.3,347.0L84.2,347.3L85.2,347.6L86.3,347.7L87.6,347.8L89.3,347.8L91.0,347.8L92.3,347.7L93.4,347.6L94.4,347.3L95.3,347.0L96.0,346.7L96.7,346.3L97.2,345.8L97.7,345.3L98.0,344.7L98.1,344.1L98.2,343.1L98.1,342.2L98.0,341.5L97.7,341.0L97.2,340.4L96.7,340.0L96.0,339.6L95.3,339.2L94.4,339.0L93.4,338.7L92.3,338.6L91.0,338.5L89.3,338.4 M98.2,291.3L80.4,291.3L92.9,298.3L92.9,288.6 M89.3,273.1L87.6,273.1L86.3,273.2L85.2,273.4L84.2,273.6L83.3,273.9L82.6,274.2L81.9,274.6L81.4,275.1L80.9,275.6L80.6,276.2L80.5,276.9L80.4,277.8L80.5,278.7L80.6,279.4L80.9,280.0L81.4,280.5L81.9,280.9L82.6,281.3L83.3,281.7L84.2,282.0L85.2,282.2L86.3,282.4L87.6,282.4L89.3,282.5L91.0,282.4L92.3,282.4L93.4,282.2L94.4,282.0L95.3,281.7L96.0,281.3L96.7,280.9L97.2,280.5L97.7,280.0L98.0,279.4L98.1,278.7L98.2,277.8L98.1,276.9L98.0,276.2L97.7,275.6L97.2,275.1L96.7,274.6L96.0,274.2L95.3,273.9L94.4,273.6L93.4,273.4L92.3,273.2L91.0,273.1L89.3,273.1 M82.2,224.8L81.6,225.2L81.1,225.8L80.7,226.4L80.5,227.0L80.4,227.8L80.4,228.7L80.6,229.4L80.9,230.0L81.3,230.6L81.9,231.1L82.6,231.6L83.4,232.0L84.3,232.3L85.3,232.6L86.4,232.8L87.6,232.9L89.0,232.9L90.6,232.9L91.9,232.8L93.1,232.6L94.1,232.4L95.0,232.1L95.8,231.7L96.5,231.2L97.1,230.7L97.6,230.2L97.9,229.6L98.1,228.9L98.2,228.1L98.2,228.1L98.2,227.2L98.0,226.6L97.8,226.0L97.6,225.4L97.2,224.9L96.8,224.5L96.3,224.1L95.8,223.8L95.2,223.5L94.5,223.4L93.8,223.3L92.9,223.2L92.0,223.3L91.2,223.4L90.5,223.5L89.9,223.8L89.4,224.1L88.9,224.5L88.5,224.9L88.1,225.4L87.9,226.0L87.7,226.6L87.6,227.2L87.5,228.1L87.6,228.9L87.7,229.6L87.9,230.2L88.1,230.7L88.5,231.2L88.9,231.7L89.4,232.0L89.9,232.3L90.5,232.6L91.2,232.8L92.0,232.9L92.9,232.9 M89.3,207.7L87.6,207.8L86.3,207.8L85.2,208.0L84.2,208.2L83.3,208.5L82.6,208.9L81.9,209.3L81.4,209.7L80.9,210.2L80.6,210.8L80.5,211.5L80.4,212.4L80.5,213.3L80.6,214.0L80.9,214.6L81.4,215.1L81.9,215.6L82.6,216.0L83.3,216.3L84.2,216.6L85.2,216.8L86.3,217.0L87.6,217.1L89.3,217.1L91.0,217.1L92.3,217.0L93.4,216.8L94.4,216.6L95.3,216.3L96.0,216.0L96.7,215.6L97.2,215.1L97.7,214.6L98.0,214.0L98.1,213.3L98.2,212.4L98.1,211.5L98.0,210.8L97.7,210.2L97.2,209.7L96.7,209.3L96.0,208.9L95.3,208.5L94.4,208.2L93.4,208.0L92.3,207.8L91.0,207.8L89.3,207.7 M88.9,162.7L88.9,161.8L88.7,161.1L88.4,160.5L88.1,159.9L87.6,159.5L87.0,159.1L86.4,158.9L85.6,158.7L84.7,158.6L83.7,158.7L83.0,158.9L82.3,159.1L81.8,159.5L81.3,159.9L80.9,160.5L80.6,161.1L80.5,161.8L80.4,162.7L80.5,163.6L80.6,164.3L80.9,164.9L81.3,165.5L81.8,165.9L82.3,166.3L83.0,166.6L83.7,166.7L84.7,166.8L85.6,166.7L86.4,166.6L87.0,166.3L87.6,165.9L88.1,165.5L88.4,164.9L88.7,164.3L88.9,163.6L88.9,162.7 M88.9,162.7L89.0,163.8L89.2,164.6L89.5,165.4L89.9,166.0L90.4,166.6L91.0,167.0L91.8,167.3L92.6,167.5L93.6,167.6L94.6,167.5L95.4,167.3L96.1,167.0L96.7,166.6L97.2,166.0L97.7,165.4L98.0,164.6L98.1,163.8L98.2,162.7L98.1,161.7L98.0,160.8L97.7,160.1L97.2,159.4L96.7,158.9L96.1,158.4L95.4,158.1L94.6,157.9L93.6,157.9L92.6,157.9L91.8,158.1L91.0,158.4L90.4,158.9L89.9,159.4L89.5,160.1L89.2,160.8L89.0,161.7L88.9,162.7 M89.3,142.4L87.6,142.4L86.3,142.5L85.2,142.6L84.2,142.9L83.3,143.2L82.6,143.5L81.9,143.9L81.4,144.4L80.9,144.9L80.6,145.5L80.5,146.1L80.4,147.1L80.5,148.0L80.6,148.7L80.9,149.2L81.4,149.8L81.9,150.2L82.6,150.6L83.3,151.0L84.2,151.2L85.2,151.5L86.3,151.6L87.6,151.7L89.3,151.8L91.0,151.7L92.3,151.6L93.4,151.5L94.4,151.2L95.3,151.0L96.0,150.6L96.7,150.2L97.2,149.8L97.7,149.2L98.0,148.7L98.1,148.0L98.2,147.1L98.1,146.1L98.0,145.5L97.7,144.9L97.2,144.4L96.7,143.9L96.0,143.5L95.3,143.2L94.4,142.9L93.4,142.6L92.3,142.5L91.0,142.4L89.3,142.4 M83.6,106.7L80.4,105.0L98.2,105.0 M98.2,106.7L98.2,103.2 M89.3,85.0L87.6,85.0L86.3,85.1L85.2,85.3L84.2,85.5L83.3,85.8L82.6,86.2L81.9,86.6L81.4,87.1L80.9,87.6L80.6,88.2L80.5,88.9L80.4,89.8L80.5,90.8L80.6,91.5L80.9,92.1L81.4,92.6L81.9,93.1L82.6,93.5L83.3,93.9L84.2,94.2L85.2,94.4L86.3,94.6L87.6,94.7L89.3,94.7L91.0,94.7L92.3,94.6L93.4,94.4L94.4,94.2L95.3,93.9L96.0,93.5L96.7,93.1L97.2,92.6L97.7,92.1L98.0,91.5L98.1,90.8L98.2,89.9L98.1,88.9L98.0,88.2L97.7,87.6L97.2,87.1L96.7,86.6L96.0,86.2L95.3,85.8L94.4,85.5L93.4,85.3L92.3,85.1L91.0,85.0L89.3,85.0 M89.3,69.3L87.6,69.3L86.3,69.4L85.2,69.6L84.2,69.8L83.3,70.1L82.6,70.5L81.9,70.9L81.4,71.4L80.9,72.0L80.6,72.6L80.5,73.3L80.4,74.3L80.5,75.3L80.6,76.0L80.9,76.6L81.4,77.2L81.9,77.7L82.6,78.1L83.3,78.5L84.2,78.8L85.2,79.0L86.3,79.2L87.6,79.3L89.3,79.3L91.0,79.3L92.3,79.2L93.4,79.0L94.4,78.8L95.3,78.5L96.0,78.1L96.7,77.7L97.2,77.2L97.7,76.6L98.0,76.0L98.1,75.3L98.2,74.3L98.1,73.3L98.0,72.6L97.7,72.0L97.2,71.4L96.7,70.9L96.0,70.5L95.3,70.1L94.4,69.8L93.4,69.6L92.3,69.4L91.0,69.3L89.3,69.3" fill="none" stroke="#000" stroke-width="2.0" stroke-linecap="round" stroke-linejoin="round"/>
<path d="M497.3,411.5L495.6,411.5L494.3,411.6L493.2,411.8L492.2,412.0L491.3,412.3L490.6,412.7L489.9,413.1L489.4,413.6L488.9,414.2L488.6,414.8L488.5,415.5L488.4,416.5L488.5,417.5L488.6,418.2L488.9,418.8L489.4,419.4L489.9,419.9L490.6,420.3L491.3,420.7L492.2,421.0L493.2,421.2L494.3,421.4L495.6,421.5L497.3,421.5L499.0,421.5L500.3,421.4L501.4,421.2L502.4,421.0L503.3,420.7L504.0,420.3L504.7,419.9L505.2,419.4L505.7,418.8L506.0,418.2L506.1,417.5L506.2,416.5L506.1,415.5L506.0,414.8L505.7,414.2L505.2,413.6L504.7,413.1L504.0,412.7L503.3,412.3L502.4,412.0L501.4,411.8L500.3,411.6L499.0,411.5L497.3,411.5 M491.8,363.3L491.2,363.1L490.7,362.9L490.1,362.6L489.7,362.2L489.3,361.8L489.0,361.3L488.7,360.8L488.5,360.2L488.4,359.6L488.4,358.8L488.4,358.0L488.5,357.4L488.7,356.8L489.0,356.2L489.3,355.8L489.7,355.3L490.1,355.0L490.7,354.7L491.2,354.4L491.8,354.3L492.5,354.2L493.4,354.1L494.2,354.2L494.9,354.3L495.5,354.4L496.1,354.7L506.2,363.6L506.2,353.9 M497.3,338.4L495.6,338.5L494.3,338.6L493.2,338.7L492.2,339.0L491.3,339.2L490.6,339.6L489.9,340.0L489.4,340.4L488.9,341.0L488.6,341.5L488.5,342.2L488.4,343.1L488.5,344.1L488.6,344.7L488.9,345.3L489.4,345.8L489.9,346.3L490.6,346.7L491.3,347.0L492.2,347.3L493.2,347.6L494.3,347.7L495.6,347.8L497.3,347.8L499.0,347.8L500.3,347.7L501.4,347.6L502.4,347.3L503.3,347.0L504.0,346.7L504.7,346.3L505.2,345.8L505.7,345.3L506.0,344.7L506.1,344.1L506.2,343.1L506.1,342.2L506.0,341.5L505.7,341.0L505.2,340.4L504.7,340.0L504.0,339.6L503.3,339.2L502.4,339.0L501.4,338.7L500.3,338.6L499.0,338.5L497.3,338.4 M506.2,291.3L488.4,291.3L500.9,298.3L500.9,288.6 M497.3,273.1L495.6,273.1L494.3,273.2L493.2,273.4L492.2,273.6L491.3,273.9L490.6,274.2L489.9,274.6L489.4,275.1L488.9,275.6L488.6,276.2L488.5,276.9L488.4,277.8L488.5,278.7L488.6,279.4L488.9,280.0L489.4,280.5L489.9,280.9L490.6,281.3L491.3,281.7L492.2,282.0L493.2,282.2L494.3,282.4L495.6,282.4L497.3,282.5L499.0,282.4L500.3,282.4L501.4,282.2L502.4,282.0L503.3,281.7L504.0,281.3L504.7,280.9L505.2,280.5L505.7,280.0L506.0,279.4L506.1,278.7L506.2,277.8L506.1,276.9L506.0,276.2L505.7,275.6L505.2,275.1L504.7,274.6L504.0,274.2L503.3,273.9L502.4,273.6L501.4,273.4L500.3,273.2L499.0,273.1L497.3,273.1 M490.2,224.8L489.6,225.2L489.1,225.8L488.7,226.4L488.5,227.0L488.4,227.8L488.4,228.7L488.6,229.4L488.9,230.0L489.3,230.6L489.9,231.1L490.6,231.6L491.4,232.0L492.3,232.3L493.3,232.6L494.4,232.8L495.6,232.9L497.0,232.9L498.6,232.9L499.9,232.8L501.1,232.6L502.1,232.4L503.0,232.1L503.8,231.7L504.5,231.2L505.1,230.7L505.6,230.2L505.9,229.6L506.1,228.9L506.2,228.1L506.2,228.1L506.2,227.2L506.0,226.6L505.8,226.0L505.6,225.4L505.2,224.9L504.8,224.5L504.3,224.1L503.8,223.8L503.2,223.5L502.5,223.4L501.8,223.3L500.9,223.2L500.0,223.3L499.2,223.4L498.5,223.5L497.9,223.8L497.4,224.1L496.9,224.5L496.5,224.9L496.1,225.4L495.9,226.0L495.7,226.6L495.6,227.2L495.5,228.1L495.6,228.9L495.7,229.6L495.9,230.2L496.1,230.7L496.5,231.2L496.9,231.7L497.4,232.0L497.9,232.3L498.5,232.6L499.2,232.8L500.0,232.9L500.9,232.9 M497.3,207.7L495.6,207.8L494.3,207.8L493.2,208.0L492.2,208.2L491.3,208.5L490.6,208.9L489.9,209.3L489.4,209.7L488.9,210.2L488.6,210.8L488.5,211.5L488.4,212.4L488.5,213.3L488.6,214.0L488.9,214.6L489.4,215.1L489.9,215.6L490.6,216.0L491.3,216.3L492.2,216.6L493.2,216.8L494.3,217.0L495.6,217.1L497.3,217.1L499.0,217.1L500.3,217.0L501.4,216.8L502.4,216.6L503.3,216.3L504.0,216.0L504.7,215.6L505.2,215.1L505.7,214.6L506.0,214.0L506.1,213.3L506.2,212.4L506.1,211.5L506.0,210.8L505.7,210.2L505.2,209.7L504.7,209.3L504.0,208.9L503.3,208.5L502.4,208.2L501.4,208.0L500.3,207.8L499.0,207.8L497.3,207.7 M496.9,162.7L496.9,161.8L496.7,161.1L496.4,160.5L496.1,159.9L495.6,159.5L495.0,159.1L494.4,158.9L493.6,158.7L492.7,158.6L491.7,158.7L491.0,158.9L490.3,159.1L489.8,159.5L489.3,159.9L488.9,160.5L488.6,161.1L488.5,161.8L488.4,162.7L488.5,163.6L488.6,164.3L488.9,164.9L489.3,165.5L489.8,165.9L490.3,166.3L491.0,166.6L491.7,166.7L492.7,166.8L493.6,166.7L494.4,166.6L495.0,166.3L495.6,165.9L496.1,165.5L496.4,164.9L496.7,164.3L496.9,163.6L496.9,162.7 M496.9,162.7L497.0,163.8L497.2,164.6L497.5,165.4L497.9,166.0L498.4,166.6L499.0,167.0L499.8,167.3L500.6,167.5L501.6,167.6L502.6,167.5L503.4,167.3L504.1,167.0L504.7,166.6L505.2,166.0L505.7,165.4L506.0,164.6L506.1,163.8L506.2,162.7L506.1,161.7L506.0,160.8L505.7,160.1L505.2,159.4L504.7,158.9L504.1,158.4L503.4,158.1L502.6,157.9L501.6,157.9L500.6,157.9L499.8,158.1L499.0,158.4L498.4,158.9L497.9,159.4L497.5,160.1L497.2,160.8L497.0,161.7L496.9,162.7 M497.3,142.4L495.6,142.4L494.3,142.5L493.2,142.6L492.2,142.9L491.3,143.2L490.6,143.5L489.9,143.9L489.4,144.4L488.9,144.9L488.6,145.5L488.5,146.1L488.4,147.1L488.5,148.0L488.6,148.7L488.9,149.2L489.4,149.8L489.9,150.2L490.6,150.6L491.3,151.0L492.2,151.2L493.2,151.5L494.3,151.6L495.6,151.7L497.3,151.8L499.0,151.7L500.3,151.6L501.4,151.5L502.4,151.2L503.3,151.0L504.0,150.6L504.7,150.2L505.2,149.8L505.7,149.2L506.0,148.7L506.1,148.0L506.2,147.1L506.1,146.1L506.0,145.5L505.7,144.9L505.2,144.4L504.7,143.9L504.0,143.5L503.3,143.2L502.4,142.9L501.4,142.6L500.3,142.5L499.0,142.4L497.3,142.4 M491.6,106.7L488.4,105.0L506.2,105.0 M506.2,106.7L506.2,103.2 M497.3,85.0L495.6,85.0L494.3,85.1L493.2,85.3L492.2,85.5L491.3,85.8L490.6,86.2L489.9,86.6L489.4,87.1L488.9,87.6L488.6,88.2L488.5,88.9L488.4,89.8L488.5,90.8L488.6,91.5L488.9,92.1L489.4,92.6L489.9,93.1L490.6,93.5L491.3,93.9L492.2,94.2L493.2,94.4L494.3,94.6L495.6,94.7L497.3,94.7L499.0,94.7L500.3,94.6L501.4,94.4L502.4,94.2L503.3,93.9L504.0,93.5L504.7,93.1L505.2,92.6L505.7,92.1L506.0,91.5L506.1,90.8L506.2,89.9L506.1,88.9L506.0,88.2L505.7,87.6L505.2,87.1L504.7,86.6L504.0,86.2L503.3,85.8L502.4,85.5L501.4,85.3L500.3,85.1L499.0,85.0L497.3,85.0 M497.3,69.3L495.6,69.3L494.3,69.4L493.2,69.6L492.2,69.8L491.3,70.1L490.6,70.5L489.9,70.9L489.4,71.4L488.9,72.0L488.6,72.6L488.5,73.3L488.4,74.3L488.5,75.3L488.6,76.0L488.9,76.6L489.4,77.2L489.9,77.7L490.6,78.1L491.3,78.5L492.2,78.8L493.2,79.0L494.3,79.2L495.6,79.3L497.3,79.3L499.0,79.3L500.3,79.2L501.4,79.0L502.4,78.8L503.3,78.5L504.0,78.1L504.7,77.7L505.2,77.2L505.7,76.6L506.0,76.0L506.1,75.3L506.2,74.3L506.1,73.3L506.0,72.6L505.7,72.0L505.2,71.4L504.7,70.9L504.0,70.5L503.3,70.1L502.4,69.8L501.4,69.6L500.3,69.4L499.0,69.3L497.3,69.3" fill="none" stroke="#aa00b0" stroke-width="2.0" stroke-linecap="round" stroke-linejoin="round"/>
<path d="M89.3,774.7L87.6,774.7L86.3,774.8L85.2,775.0L84.2,775.2L83.3,775.5L82.6,775.9L81.9,776.3L81.4,776.8L80.9,777.4L80.6,778.0L80.5,778.7L80.4,779.7L80.5,780.7L80.6,781.4L80.9,782.0L81.4,782.6L81.9,783.1L82.6,783.5L83.3,783.9L84.2,784.2L85.2,784.4L86.3,784.6L87.6,784.7L89.3,784.7L91.0,784.7L92.3,784.6L93.4,784.4L94.4,784.2L95.3,783.9L96.0,783.5L96.7,783.1L97.2,782.6L97.7,782.0L98.0,781.4L98.1,780.7L98.2,779.7L98.1,778.7L98.0,778.0L97.7,777.4L97.2,776.8L96.7,776.3L96.0,775.9L95.3,775.5L94.4,775.2L93.4,775.0L92.3,774.8L91.0,774.7L89.3,774.7 M83.8,726.5L83.2,726.3L82.7,726.1L82.1,725.8L81.7,725.4L81.3,725.0L81.0,724.5L80.7,724.0L80.5,723.4L80.4,722.8L80.4,722.0L80.4,721.2L80.5,720.6L80.7,720.0L81.0,719.4L81.3,719.0L81.7,718.5L82.1,718.2L82.7,717.9L83.2,717.6L83.8,717.5L84.5,717.4L85.4,717.3L86.2,717.4L86.9,717.5L87.5,717.6L88.1,717.9L98.2,726.8L98.2,717.1 M89.3,701.6L87.6,701.7L86.3,701.8L85.2,701.9L84.2,702.2L83.3,702.4L82.6,702.8L81.9,703.2L81.4,703.6L80.9,704.2L80.6,704.7L80.5,705.4L80.4,706.3L80.5,707.3L80.6,707.9L80.9,708.5L81.4,709.0L81.9,709.5L82.6,709.9L83.3,710.2L84.2,710.5L85.2,710.8L86.3,710.9L87.6,711.0L89.3,711.0L91.0,711.0L92.3,710.9L93.4,710.8L94.4,710.5L95.3,710.2L96.0,709.9L96.7,709.5L97.2,709.0L97.7,708.5L98.0,707.9L98.1,707.3L98.2,706.3L98.1,705.4L98.0,704.7L97.7,704.2L97.2,703.6L96.7,703.2L96.0,702.8L95.3,702.4L94.4,702.2L93.4,701.9L92.3,701.8L91.0,701.7L89.3,701.6 M98.2,654.5L80.4,654.5L92.9,661.5L92.9,651.8 M89.3,636.3L87.6,636.3L86.3,636.4L85.2,636.6L84.2,636.8L83.3,637.1L82.6,637.4L81.9,637.8L81.4,638.3L80.9,638.8L80.6,639.4L80.5,640.1L80.4,641.0L80.5,641.9L80.6,642.6L80.9,643.2L81.4,643.7L81.9,644.1L82.6,644.5L83.3,644.9L84.2,645.2L85.2,645.4L86.3,645.6L87.6,645.6L89.3,645.7L91.0,645.6L92.3,645.6L93.4,645.4L94.4,645.2L95.3,644.9L96.0,644.5L96.7,644.1L97.2,643.7L97.7,643.2L98.0,642.6L98.1,641.9L98.2,641.0L98.1,640.1L98.0,639.4L97.7,638.8L97.2,638.3L96.7,637.8L96.0,637.4L95.3,637.1L94.4,636.8L93.4,636.6L92.3,636.4L91.0,636.3L89.3,636.3 M82.2,588.0L81.6,588.4L81.1,589.0L80.7,589.6L80.5,590.2L80.4,591.0L80.4,591.9L80.6,592.6L80.9,593.2L81.3,593.8L81.9,594.3L82.6,594.8L83.4,595.2L84.3,595.5L85.3,595.8L86.4,596.0L87.6,596.1L89.0,596.1L90.6,596.1L91.9,596.0L93.1,595.8L94.1,595.6L95.0,595.3L95.8,594.9L96.5,594.4L97.1,593.9L97.6,593.4L97.9,592.8L98.1,592.1L98.2,591.3L98.2,591.3L98.2,590.4L98.0,589.8L97.8,589.2L97.6,588.6L97.2,588.1L96.8,587.7L96.3,587.3L95.8,587.0L95.2,586.7L94.5,586.6L93.8,586.5L92.9,586.4L92.0,586.5L91.2,586.6L90.5,586.7L89.9,587.0L89.4,587.3L88.9,587.7L88.5,588.1L88.1,588.6L87.9,589.2L87.7,589.8L87.6,590.4L87.5,591.3L87.6,592.1L87.7,592.8L87.9,593.4L88.1,593.9L88.5,594.4L88.9,594.9L89.4,595.2L89.9,595.5L90.5,595.8L91.2,596.0L92.0,596.1L92.9,596.1 M89.3,570.9L87.6,571.0L86.3,571.0L85.2,571.2L84.2,571.4L83.3,571.7L82.6,572.1L81.9,572.5L81.4,572.9L80.9,573.4L80.6,574.0L80.5,574.7L80.4,575.6L80.5,576.5L80.6,577.2L80.9,577.8L81.4,578.3L81.9,578.8L82.6,579.2L83.3,579.5L84.2,579.8L85.2,580.0L86.3,580.2L87.6,580.3L89.3,580.3L91.0,580.3L92.3,580.2L93.4,580.0L94.4,579.8L95.3,579.5L96.0,579.2L96.7,578.8L97.2,578.3L97.7,577.8L98.0,577.2L98.1,576.5L98.2,575.6L98.1,574.7L98.0,574.0L97.7,573.4L97.2,572.9L96.7,572.5L96.0,572.1L95.3,571.7L94.4,571.4L93.4,571.2L92.3,571.0L91.0,571.0L89.3,570.9 M88.9,525.9L88.9,525.0L88.7,524.3L88.4,523.7L88.1,523.1L87.6,522.7L87.0,522.3L86.4,522.1L85.6,521.9L84.7,521.8L83.7,521.9L83.0,522.1L82.3,522.3L81.8,522.7L81.3,523.1L80.9,523.7L80.6,524.3L80.5,525.0L80.4,525.9L80.5,526.8L80.6,527.5L80.9,528.1L81.3,528.7L81.8,529.1L82.3,529.5L83.0,529.8L83.7,529.9L84.7,530.0L85.6,529.9L86.4,529.8L87.0,529.5L87.6,529.1L88.1,528.7L88.4,528.1L88.7,527.5L88.9,526.8L88.9,525.9 M88.9,525.9L89.0,527.0L89.2,527.8L89.5,528.6L89.9,529.2L90.4,529.8L91.0,530.2L91.8,530.5L92.6,530.7L93.6,530.8L94.6,530.7L95.4,530.5L96.1,530.2L96.7,529.8L97.2,529.2L97.7,528.6L98.0,527.8L98.1,527.0L98.2,525.9L98.1,524.9L98.0,524.0L97.7,523.3L97.2,522.6L96.7,522.1L96.1,521.6L95.4,521.3L94.6,521.1L93.6,521.1L92.6,521.1L91.8,521.3L91.0,521.6L90.4,522.1L89.9,522.6L89.5,523.3L89.2,524.0L89.0,524.9L88.9,525.9 M89.3,505.6L87.6,505.6L86.3,505.7L85.2,505.8L84.2,506.1L83.3,506.4L82.6,506.7L81.9,507.1L81.4,507.6L80.9,508.1L80.6,508.7L80.5,509.3L80.4,510.3L80.5,511.2L80.6,511.9L80.9,512.4L81.4,513.0L81.9,513.4L82.6,513.8L83.3,514.2L84.2,514.4L85.2,514.7L86.3,514.8L87.6,514.9L89.3,515.0L91.0,514.9L92.3,514.8L93.4,514.7L94.4,514.4L95.3,514.2L96.0,513.8L96.7,513.4L97.2,513.0L97.7,512.4L98.0,511.9L98.1,511.2L98.2,510.3L98.1,509.3L98.0,508.7L97.7,508.1L97.2,507.6L96.7,507.1L96.0,506.7L95.3,506.4L94.4,506.1L93.4,505.8L92.3,505.7L91.0,505.6L89.3,505.6 M83.6,469.9L80.4,468.2L98.2,468.2 M98.2,469.9L98.2,466.4 M89.3,448.2L87.6,448.2L86.3,448.3L85.2,448.5L84.2,448.7L83.3,449.0L82.6,449.4L81.9,449.8L81.4,450.3L80.9,450.8L80.6,451.4L80.5,452.1L80.4,453.0L80.5,454.0L80.6,454.7L80.9,455.3L81.4,455.8L81.9,456.3L82.6,456.7L83.3,457.1L84.2,457.4L85.2,457.6L86.3,457.8L87.6,457.9L89.3,457.9L91.0,457.9L92.3,457.8L93.4,457.6L94.4,457.4L95.3,457.1L96.0,456.7L96.7,456.3L97.2,455.8L97.7,455.3L98.0,454.7L98.1,454.0L98.2,453.1L98.1,452.1L98.0,451.4L97.7,450.8L97.2,450.3L96.7,449.8L96.0,449.4L95.3,449.0L94.4,448.7L93.4,448.5L92.3,448.3L91.0,448.2L89.3,448.2 M89.3,432.5L87.6,432.5L86.3,432.6L85.2,432.8L84.2,433.0L83.3,433.3L82.6,433.7L81.9,434.1L81.4,434.6L80.9,435.2L80.6,435.8L80.5,436.5L80.4,437.5L80.5,438.5L80.6,439.2L80.9,439.8L81.4,440.4L81.9,440.9L82.6,441.3L83.3,441.7L84.2,442.0L85.2,442.2L86.3,442.4L87.6,442.5L89.3,442.5L91.0,442.5L92.3,442.4L93.4,442.2L94.4,442.0L95.3,441.7L96.0,441.3L96.7,440.9L97.2,440.4L97.7,439.8L98.0,439.2L98.1,438.5L98.2,437.5L98.1,436.5L98.0,435.8L97.7,435.2L97.2,434.6L96.7,434.1L96.0,433.7L95.3,433.3L94.4,433.0L93.4,432.8L92.3,432.6L91.0,432.5L89.3,432.5" fill="none" stroke="#000" stroke-width="2.0" stroke-linecap="round" stroke-linejoin="round"/>
<path d="M497.3,774.7L495.6,774.7L494.3,774.8L493.2,775.0L492.2,775.2L491.3,775.5L490.6,775.9L489.9,776.3L489.4,776.8L488.9,777.4L488.6,778.0L488.5,778.7L488.4,779.7L488.5,780.7L488.6,781.4L488.9,782.0L489.4,782.6L489.9,783.1L490.6,783.5L491.3,783.9L492.2,784.2L493.2,784.4L494.3,784.6L495.6,784.7L497.3,784.7L499.0,784.7L500.3,784.6L501.4,784.4L502.4,784.2L503.3,783.9L504.0,783.5L504.7,783.1L505.2,782.6L505.7,782.0L506.0,781.4L506.1,780.7L506.2,779.7L506.1,778.7L506.0,778.0L505.7,777.4L505.2,776.8L504.7,776.3L504.0,775.9L503.3,775.5L502.4,775.2L501.4,775.0L500.3,774.8L499.0,774.7L497.3,774.7 M491.8,726.5L491.2,726.3L490.7,726.1L490.1,725.8L489.7,725.4L489.3,725.0L489.0,724.5L488.7,724.0L488.5,723.4L488.4,722.8L488.4,722.0L488.4,721.2L488.5,720.6L488.7,720.0L489.0,719.4L489.3,719.0L489.7,718.5L490.1,718.2L490.7,717.9L491.2,717.6L491.8,717.5L492.5,717.4L493.4,717.3L494.2,717.4L494.9,717.5L495.5,717.6L496.1,717.9L506.2,726.8L506.2,717.1 M497.3,701.6L495.6,701.7L494.3,701.8L493.2,701.9L492.2,702.2L491.3,702.4L490.6,702.8L489.9,703.2L489.4,703.6L488.9,704.2L488.6,704.7L488.5,705.4L488.4,706.3L488.5,707.3L488.6,707.9L488.9,708.5L489.4,709.0L489.9,709.5L490.6,709.9L491.3,710.2L492.2,710.5L493.2,710.8L494.3,710.9L495.6,711.0L497.3,711.0L499.0,711.0L500.3,710.9L501.4,710.8L502.4,710.5L503.3,710.2L504.0,709.9L504.7,709.5L505.2,709.0L505.7,708.5L506.0,707.9L506.1,707.3L506.2,706.3L506.1,705.4L506.0,704.7L505.7,704.2L505.2,703.6L504.7,703.2L504.0,702.8L503.3,702.4L502.4,702.2L501.4,701.9L500.3,701.8L499.0,701.7L497.3,701.6 M506.2,654.5L488.4,654.5L500.9,661.5L500.9,651.8 M497.3,636.3L495.6,636.3L494.3,636.4L493.2,636.6L492.2,636.8L491.3,637.1L490.6,637.4L489.9,637.8L489.4,638.3L488.9,638.8L488.6,639.4L488.5,640.1L488.4,641.0L488.5,641.9L488.6,642.6L488.9,643.2L489.4,643.7L489.9,644.1L490.6,644.5L491.3,644.9L492.2,645.2L493.2,645.4L494.3,645.6L495.6,645.6L497.3,645.7L499.0,645.6L500.3,645.6L501.4,645.4L502.4,645.2L503.3,644.9L504.0,644.5L504.7,644.1L505.2,643.7L505.7,643.2L506.0,642.6L506.1,641.9L506.2,641.0L506.1,640.1L506.0,639.4L505.7,638.8L505.2,638.3L504.7,637.8L504.0,637.4L503.3,637.1L502.4,636.8L501.4,636.6L500.3,636.4L499.0,636.3L497.3,636.3 M490.2,588.0L489.6,588.4L489.1,589.0L488.7,589.6L488.5,590.2L488.4,591.0L488.4,591.9L488.6,592.6L488.9,593.2L489.3,593.8L489.9,594.3L490.6,594.8L491.4,595.2L492.3,595.5L493.3,595.8L494.4,596.0L495.6,596.1L497.0,596.1L498.6,596.1L499.9,596.0L501.1,595.8L502.1,595.6L503.0,595.3L503.8,594.9L504.5,594.4L505.1,593.9L505.6,593.4L505.9,592.8L506.1,592.1L506.2,591.3L506.2,591.3L506.2,590.4L506.0,589.8L505.8,589.2L505.6,588.6L505.2,588.1L504.8,587.7L504.3,587.3L503.8,587.0L503.2,586.7L502.5,586.6L501.8,586.5L500.9,586.4L500.0,586.5L499.2,586.6L498.5,586.7L497.9,587.0L497.4,587.3L496.9,587.7L496.5,588.1L496.1,588.6L495.9,589.2L495.7,589.8L495.6,590.4L495.5,591.3L495.6,592.1L495.7,592.8L495.9,593.4L496.1,593.9L496.5,594.4L496.9,594.9L497.4,595.2L497.9,595.5L498.5,595.8L499.2,596.0L500.0,596.1L500.9,596.1 M497.3,570.9L495.6,571.0L494.3,571.0L493.2,571.2L492.2,571.4L491.3,571.7L490.6,572.1L489.9,572.5L489.4,572.9L488.9,573.4L488.6,574.0L488.5,574.7L488.4,575.6L488.5,576.5L488.6,577.2L488.9,577.8L489.4,578.3L489.9,578.8L490.6,579.2L491.3,579.5L492.2,579.8L493.2,580.0L494.3,580.2L495.6,580.3L497.3,580.3L499.0,580.3L500.3,580.2L501.4,580.0L502.4,579.8L503.3,579.5L504.0,579.2L504.7,578.8L505.2,578.3L505.7,577.8L506.0,577.2L506.1,576.5L506.2,575.6L506.1,574.7L506.0,574.0L505.7,573.4L505.2,572.9L504.7,572.5L504.0,572.1L503.3,571.7L502.4,571.4L501.4,571.2L500.3,571.0L499.0,571.0L497.3,570.9 M496.9,525.9L496.9,525.0L496.7,524.3L496.4,523.7L496.1,523.1L495.6,522.7L495.0,522.3L494.4,522.1L493.6,521.9L492.7,521.8L491.7,521.9L491.0,522.1L490.3,522.3L489.8,522.7L489.3,523.1L488.9,523.7L488.6,524.3L488.5,525.0L488.4,525.9L488.5,526.8L488.6,527.5L488.9,528.1L489.3,528.7L489.8,529.1L490.3,529.5L491.0,529.8L491.7,529.9L492.7,530.0L493.6,529.9L494.4,529.8L495.0,529.5L495.6,529.1L496.1,528.7L496.4,528.1L496.7,527.5L496.9,526.8L496.9,525.9 M496.9,525.9L497.0,527.0L497.2,527.8L497.5,528.6L497.9,529.2L498.4,529.8L499.0,530.2L499.8,530.5L500.6,530.7L501.6,530.8L502.6,530.7L503.4,530.5L504.1,530.2L504.7,529.8L505.2,529.2L505.7,528.6L506.0,527.8L506.1,527.0L506.2,525.9L506.1,524.9L506.0,524.0L505.7,523.3L505.2,522.6L504.7,522.1L504.1,521.6L503.4,521.3L502.6,521.1L501.6,521.1L500.6,521.1L499.8,521.3L499.0,521.6L498.4,522.1L497.9,522.6L497.5,523.3L497.2,524.0L497.0,524.9L496.9,525.9 M497.3,505.6L495.6,505.6L494.3,505.7L493.2,505.8L492.2,506.1L491.3,506.4L490.6,506.7L489.9,507.1L489.4,507.6L488.9,508.1L488.6,508.7L488.5,509.3L488.4,510.3L488.5,511.2L488.6,511.9L488.9,512.4L489.4,513.0L489.9,513.4L490.6,513.8L491.3,514.2L492.2,514.4L493.2,514.7L494.3,514.8L495.6,514.9L497.3,515.0L499.0,514.9L500.3,514.8L501.4,514.7L502.4,514.4L503.3,514.2L504.0,513.8L504.7,513.4L505.2,513.0L505.7,512.4L506.0,511.9L506.1,511.2L506.2,510.3L506.1,509.3L506.0,508.7L505.7,508.1L505.2,507.6L504.7,507.1L504.0,506.7L503.3,506.4L502.4,506.1L501.4,505.8L500.3,505.7L499.0,505.6L497.3,505.6 M491.6,469.9L488.4,468.2L506.2,468.2 M506.2,469.9L506.2,466.4 M497.3,448.2L495.6,448.2L494.3,448.3L493.2,448.5L492.2,448.7L491.3,449.0L490.6,449.4L489.9,449.8L489.4,450.3L488.9,450.8L488.6,451.4L488.5,452.1L488.4,453.0L488.5,454.0L488.6,454.7L488.9,455.3L489.4,455.8L489.9,456.3L490.6,456.7L491.3,457.1L492.2,457.4L493.2,457.6L494.3,457.8L495.6,457.9L497.3,457.9L499.0,457.9L500.3,457.8L501.4,457.6L502.4,457.4L503.3,457.1L504.0,456.7L504.7,456.3L505.2,455.8L505.7,455.3L506.0,454.7L506.1,454.0L506.2,453.1L506.1,452.1L506.0,451.4L505.7,450.8L505.2,450.3L504.7,449.8L504.0,449.4L503.3,449.0L502.4,448.7L501.4,448.5L500.3,448.3L499.0,448.2L497.3,448.2 M497.3,432.5L495.6,432.5L494.3,432.6L493.2,432.8L492.2,433.0L491.3,433.3L490.6,433.7L489.9,434.1L489.4,434.6L488.9,435.2L488.6,435.8L488.5,436.5L488.4,437.5L488.5,438.5L488.6,439.2L488.9,439.8L489.4,440.4L489.9,440.9L490.6,441.3L491.3,441.7L492.2,442.0L493.2,442.2L494.3,442.4L495.6,442.5L497.3,442.5L499.0,442.5L500.3,442.4L501.4,442.2L502.4,442.0L503.3,441.7L504.0,441.3L504.7,440.9L505.2,440.4L505.7,439.8L506.0,439.2L506.1,438.5L506.2,437.5L506.1,436.5L506.0,435.8L505.7,435.2L505.2,434.6L504.7,434.1L504.0,433.7L503.3,433.3L502.4,433.0L501.4,432.8L500.3,432.6L499.0,432.5L497.3,432.5" fill="none" stroke="#aa00b0" stroke-width="2.0" stroke-linecap="round" stroke-linejoin="round"/>
<path d="M705.9,413.4L704.2,413.4L703.1,413.5L702.0,413.7L701.1,413.9L700.3,414.2L699.6,414.5L699.0,414.9L698.5,415.3L698.1,415.8L697.8,416.3L697.7,417.0L697.6,417.8L697.7,418.7L697.8,419.4L698.1,419.9L698.5,420.4L699.0,420.8L699.6,421.2L700.3,421.5L701.1,421.8L702.0,422.0L703.1,422.2L704.2,422.3L705.8,422.3L707.5,422.3L708.6,422.2L709.7,422.0L710.6,421.8L711.4,421.5L712.1,421.2L712.7,420.8L713.2,420.4L713.6,419.9L713.9,419.4L714.0,418.7L714.1,417.9L714.0,417.0L713.9,416.3L713.6,415.8L713.2,415.3L712.7,414.9L712.1,414.5L711.4,414.2L710.6,413.9L709.7,413.7L708.6,413.5L707.5,413.4L705.9,413.4 M700.8,363.8L700.2,363.6L699.7,363.4L699.2,363.1L698.8,362.8L698.4,362.5L698.1,362.1L697.9,361.6L697.7,361.1L697.6,360.6L697.6,359.9L697.6,359.2L697.7,358.7L697.9,358.2L698.1,357.7L698.4,357.3L698.8,356.9L699.2,356.6L699.7,356.4L700.2,356.2L700.8,356.0L701.4,355.9L702.2,355.9L703.0,355.9L703.6,356.0L704.2,356.2L704.7,356.4L714.1,364.0L714.1,355.7 M705.9,341.4L704.2,341.5L703.1,341.6L702.0,341.7L701.1,341.9L700.3,342.1L699.6,342.4L699.0,342.8L698.5,343.2L698.1,343.7L697.8,344.2L697.7,344.8L697.6,345.6L697.7,346.4L697.8,347.0L698.1,347.5L698.5,348.0L699.0,348.4L699.6,348.7L700.3,349.0L701.1,349.3L702.0,349.5L703.1,349.6L704.2,349.7L705.8,349.7L707.5,349.7L708.6,349.6L709.7,349.5L710.6,349.3L711.4,349.0L712.1,348.7L712.7,348.4L713.2,348.0L713.6,347.5L713.9,347.0L714.0,346.4L714.1,345.6L714.0,344.8L713.9,344.2L713.6,343.7L713.2,343.2L712.7,342.8L712.1,342.4L711.4,342.1L710.6,341.9L709.7,341.7L708.6,341.6L707.5,341.5L705.9,341.4 M714.1,292.5L697.6,292.5L709.1,298.5L709.1,290.2 M705.9,275.9L704.2,275.9L703.1,276.0L702.0,276.1L701.1,276.3L700.3,276.6L699.6,276.9L699.0,277.2L698.5,277.6L698.1,278.1L697.8,278.6L697.7,279.2L697.6,280.0L697.7,280.8L697.8,281.4L698.1,282.0L698.5,282.4L699.0,282.8L699.6,283.2L700.3,283.5L701.1,283.7L702.0,283.9L703.1,284.1L704.2,284.2L705.8,284.2L707.5,284.2L708.6,284.1L709.7,283.9L710.6,283.7L711.4,283.5L712.1,283.2L712.7,282.8L713.2,282.4L713.6,282.0L713.9,281.4L714.0,280.8L714.1,280.0L714.0,279.2L713.9,278.6L713.6,278.1L713.2,277.6L712.7,277.2L712.1,276.9L711.4,276.6L710.6,276.3L709.7,276.1L708.6,276.0L707.5,275.9L705.9,275.9 M699.3,225.9L698.7,226.4L698.3,226.8L697.9,227.3L697.7,227.9L697.6,228.5L697.6,229.3L697.8,229.9L698.1,230.4L698.5,230.9L699.0,231.4L699.6,231.8L700.3,232.1L701.2,232.4L702.1,232.6L703.1,232.8L704.3,232.9L705.6,232.9L707.1,232.9L708.3,232.8L709.3,232.7L710.3,232.5L711.1,232.2L711.9,231.9L712.6,231.5L713.1,231.1L713.5,230.6L713.8,230.1L714.0,229.5L714.1,228.8L714.1,228.8L714.1,228.1L714.0,227.5L713.8,227.0L713.5,226.5L713.2,226.1L712.8,225.7L712.4,225.4L711.9,225.1L711.3,224.9L710.7,224.7L710.0,224.7L709.2,224.6L708.3,224.7L707.6,224.7L707.0,224.9L706.4,225.1L705.9,225.4L705.5,225.7L705.1,226.1L704.8,226.5L704.5,227.0L704.3,227.5L704.2,228.1L704.2,228.8L704.2,229.5L704.3,230.1L704.5,230.6L704.8,231.0L705.1,231.5L705.5,231.8L705.9,232.2L706.4,232.4L707.0,232.6L707.6,232.8L708.3,232.9L709.1,232.9 M705.9,210.3L704.2,210.3L703.1,210.4L702.0,210.6L701.1,210.8L700.3,211.0L699.6,211.3L699.0,211.7L698.5,212.1L698.1,212.5L697.8,213.1L697.7,213.7L697.6,214.5L697.7,215.3L697.8,215.9L698.1,216.4L698.5,216.9L699.0,217.3L699.6,217.6L700.3,217.9L701.1,218.2L702.0,218.4L703.1,218.5L704.2,218.6L705.8,218.6L707.5,218.6L708.6,218.5L709.7,218.4L710.6,218.2L711.4,217.9L712.1,217.6L712.7,217.3L713.2,216.9L713.6,216.4L713.9,215.9L714.0,215.3L714.1,214.5L714.0,213.7L713.9,213.1L713.6,212.5L713.2,212.1L712.7,211.7L712.1,211.3L711.4,211.0L710.6,210.8L709.7,210.6L708.6,210.4L707.5,210.3L705.9,210.3 M705.5,163.2L705.5,162.4L705.3,161.8L705.1,161.3L704.7,160.8L704.3,160.4L703.7,160.1L703.1,159.9L702.4,159.8L701.6,159.7L700.7,159.8L700.0,159.9L699.4,160.1L698.9,160.4L698.4,160.8L698.1,161.3L697.8,161.8L697.7,162.4L697.6,163.2L697.7,164.0L697.8,164.6L698.1,165.1L698.4,165.6L698.9,166.0L699.4,166.3L700.0,166.5L700.7,166.6L701.6,166.7L702.4,166.6L703.1,166.5L703.7,166.3L704.3,166.0L704.7,165.6L705.1,165.1L705.3,164.6L705.5,164.0L705.5,163.2 M705.5,163.2L705.6,164.1L705.7,164.8L706.0,165.5L706.4,166.0L706.9,166.5L707.5,166.9L708.1,167.1L708.9,167.3L709.8,167.4L710.7,167.3L711.5,167.1L712.2,166.9L712.7,166.5L713.2,166.0L713.6,165.5L713.9,164.8L714.0,164.1L714.1,163.2L714.0,162.3L713.9,161.6L713.6,160.9L713.2,160.4L712.7,159.9L712.2,159.5L711.5,159.3L710.7,159.1L709.8,159.1L708.9,159.1L708.1,159.3L707.5,159.5L706.9,159.9L706.4,160.4L706.0,160.9L705.7,161.6L705.6,162.3L705.5,163.2 M705.9,144.8L704.2,144.8L703.1,144.9L702.0,145.0L701.1,145.2L700.3,145.5L699.6,145.8L699.0,146.1L698.5,146.5L698.1,147.0L697.8,147.5L697.7,148.1L697.6,148.9L697.7,149.7L697.8,150.3L698.1,150.8L698.5,151.3L699.0,151.7L699.6,152.1L700.3,152.4L701.1,152.6L702.0,152.8L703.1,152.9L704.2,153.0L705.8,153.1L707.5,153.0L708.6,152.9L709.7,152.8L710.6,152.6L711.4,152.4L712.1,152.1L712.7,151.7L713.2,151.3L713.6,150.8L713.9,150.3L714.0,149.7L714.1,148.9L714.0,148.1L713.9,147.5L713.6,147.0L713.2,146.5L712.7,146.1L712.1,145.8L711.4,145.5L710.6,145.2L709.7,145.0L708.6,144.9L707.5,144.8L705.9,144.8 M700.6,106.6L697.6,105.1L714.1,105.1 M714.1,106.6L714.1,103.6 M705.9,86.4L704.2,86.4L703.1,86.5L702.0,86.7L701.1,86.9L700.3,87.1L699.6,87.4L699.0,87.8L698.5,88.2L698.1,88.7L697.8,89.2L697.7,89.9L697.6,90.7L697.7,91.5L697.8,92.2L698.1,92.7L698.5,93.2L699.0,93.6L699.6,94.0L700.3,94.3L701.1,94.5L702.0,94.7L703.1,94.9L704.2,95.0L705.8,95.0L707.5,95.0L708.6,94.9L709.7,94.7L710.6,94.5L711.4,94.3L712.1,94.0L712.7,93.6L713.2,93.2L713.6,92.7L713.9,92.2L714.0,91.5L714.1,90.7L714.0,89.9L713.9,89.2L713.6,88.7L713.2,88.2L712.7,87.8L712.1,87.4L711.4,87.1L710.6,86.9L709.7,86.7L708.6,86.5L707.5,86.4L705.9,86.4 M705.9,72.0L704.2,72.0L703.1,72.1L702.0,72.3L701.1,72.5L700.3,72.7L699.6,73.1L699.0,73.4L698.5,73.9L698.1,74.3L697.8,74.9L697.7,75.5L697.6,76.3L697.7,77.2L697.8,77.8L698.1,78.4L698.5,78.8L699.0,79.3L699.6,79.6L700.3,80.0L701.1,80.2L702.0,80.4L703.1,80.6L704.2,80.7L705.8,80.7L707.5,80.7L708.6,80.6L709.7,80.4L710.6,80.2L711.4,80.0L712.1,79.6L712.7,79.3L713.2,78.8L713.6,78.4L713.9,77.8L714.0,77.2L714.1,76.4L714.0,75.5L713.9,74.9L713.6,74.3L713.2,73.9L712.7,73.4L712.1,73.1L711.4,72.7L710.6,72.5L709.7,72.3L708.6,72.1L707.5,72.0L705.9,72.0" fill="none" stroke="#000" stroke-width="2.0" stroke-linecap="round" stroke-linejoin="round"/>
<path d="M1292.7,413.4L1291.0,413.4L1289.8,413.5L1288.8,413.7L1287.9,413.9L1287.0,414.2L1286.3,414.5L1285.7,414.9L1285.2,415.3L1284.8,415.8L1284.5,416.3L1284.4,417.0L1284.3,417.8L1284.4,418.7L1284.5,419.4L1284.8,419.9L1285.2,420.4L1285.7,420.8L1286.3,421.2L1287.0,421.5L1287.9,421.8L1288.8,422.0L1289.8,422.2L1291.0,422.3L1292.6,422.3L1294.3,422.3L1295.5,422.2L1296.5,422.0L1297.4,421.8L1298.3,421.5L1299.0,421.2L1299.6,420.8L1300.1,420.4L1300.5,419.9L1300.8,419.4L1300.9,418.7L1301.0,417.9L1300.9,417.0L1300.8,416.3L1300.5,415.8L1300.1,415.3L1299.6,414.9L1299.0,414.5L1298.3,414.2L1297.4,413.9L1296.5,413.7L1295.5,413.5L1294.3,413.4L1292.7,413.4 M1287.5,363.8L1286.9,363.6L1286.4,363.4L1285.9,363.1L1285.5,362.8L1285.2,362.5L1284.8,362.1L1284.6,361.6L1284.4,361.1L1284.3,360.6L1284.3,359.9L1284.3,359.2L1284.4,358.7L1284.6,358.2L1284.8,357.7L1285.2,357.3L1285.5,356.9L1285.9,356.6L1286.4,356.4L1286.9,356.2L1287.5,356.0L1288.2,355.9L1289.0,355.9L1289.8,355.9L1290.4,356.0L1291.0,356.2L1291.5,356.4L1301.0,364.0L1301.0,355.7 M1292.7,341.4L1291.0,341.5L1289.8,341.6L1288.8,341.7L1287.9,341.9L1287.0,342.1L1286.3,342.4L1285.7,342.8L1285.2,343.2L1284.8,343.7L1284.5,344.2L1284.4,344.8L1284.3,345.6L1284.4,346.4L1284.5,347.0L1284.8,347.5L1285.2,348.0L1285.7,348.4L1286.3,348.7L1287.0,349.0L1287.9,349.3L1288.8,349.5L1289.8,349.6L1291.0,349.7L1292.6,349.7L1294.3,349.7L1295.5,349.6L1296.5,349.5L1297.4,349.3L1298.3,349.0L1299.0,348.7L1299.6,348.4L1300.1,348.0L1300.5,347.5L1300.8,347.0L1300.9,346.4L1301.0,345.6L1300.9,344.8L1300.8,344.2L1300.5,343.7L1300.1,343.2L1299.6,342.8L1299.0,342.4L1298.3,342.1L1297.4,341.9L1296.5,341.7L1295.5,341.6L1294.3,341.5L1292.7,341.4 M1301.0,292.5L1284.3,292.5L1296.0,298.5L1296.0,290.2 M1292.7,275.9L1291.0,275.9L1289.8,276.0L1288.8,276.1L1287.9,276.3L1287.0,276.6L1286.3,276.9L1285.7,277.2L1285.2,277.6L1284.8,278.1L1284.5,278.6L1284.4,279.2L1284.3,280.0L1284.4,280.8L1284.5,281.4L1284.8,282.0L1285.2,282.4L1285.7,282.8L1286.3,283.2L1287.0,283.5L1287.9,283.7L1288.8,283.9L1289.8,284.1L1291.0,284.2L1292.6,284.2L1294.3,284.2L1295.5,284.1L1296.5,283.9L1297.4,283.7L1298.3,283.5L1299.0,283.2L1299.6,282.8L1300.1,282.4L1300.5,282.0L1300.8,281.4L1300.9,280.8L1301.0,280.0L1300.9,279.2L1300.8,278.6L1300.5,278.1L1300.1,277.6L1299.6,277.2L1299.0,276.9L1298.3,276.6L1297.4,276.3L1296.5,276.1L1295.5,276.0L1294.3,275.9L1292.7,275.9 M1286.0,225.9L1285.4,226.4L1285.0,226.8L1284.6,227.3L1284.4,227.9L1284.3,228.5L1284.3,229.3L1284.5,229.9L1284.8,230.4L1285.2,230.9L1285.7,231.4L1286.3,231.8L1287.1,232.1L1287.9,232.4L1288.9,232.6L1289.9,232.8L1291.0,232.9L1292.4,232.9L1293.9,232.9L1295.1,232.8L1296.2,232.7L1297.1,232.5L1298.0,232.2L1298.8,231.9L1299.4,231.5L1300.0,231.1L1300.4,230.6L1300.7,230.1L1300.9,229.5L1301.0,228.8L1301.0,228.8L1301.0,228.1L1300.9,227.5L1300.7,227.0L1300.4,226.5L1300.1,226.1L1299.7,225.7L1299.2,225.4L1298.7,225.1L1298.2,224.9L1297.5,224.7L1296.8,224.7L1296.0,224.6L1295.1,224.7L1294.4,224.7L1293.8,224.9L1293.2,225.1L1292.7,225.4L1292.3,225.7L1291.9,226.1L1291.6,226.5L1291.3,227.0L1291.1,227.5L1291.0,228.1L1291.0,228.8L1291.0,229.5L1291.1,230.1L1291.3,230.6L1291.6,231.0L1291.9,231.5L1292.3,231.8L1292.7,232.2L1293.2,232.4L1293.8,232.6L1294.4,232.8L1295.1,232.9L1296.0,232.9 M1292.7,210.3L1291.0,210.3L1289.8,210.4L1288.8,210.6L1287.9,210.8L1287.0,211.0L1286.3,211.3L1285.7,211.7L1285.2,212.1L1284.8,212.5L1284.5,213.1L1284.4,213.7L1284.3,214.5L1284.4,215.3L1284.5,215.9L1284.8,216.4L1285.2,216.9L1285.7,217.3L1286.3,217.6L1287.0,217.9L1287.9,218.2L1288.8,218.4L1289.8,218.5L1291.0,218.6L1292.6,218.6L1294.3,218.6L1295.5,218.5L1296.5,218.4L1297.4,218.2L1298.3,217.9L1299.0,217.6L1299.6,217.3L1300.1,216.9L1300.5,216.4L1300.8,215.9L1300.9,215.3L1301.0,214.5L1300.9,213.7L1300.8,213.1L1300.5,212.5L1300.1,212.1L1299.6,211.7L1299.0,211.3L1298.3,211.0L1297.4,210.8L1296.5,210.6L1295.5,210.4L1294.3,210.3L1292.7,210.3 M1292.3,163.2L1292.3,162.4L1292.1,161.8L1291.8,161.3L1291.5,160.8L1291.0,160.4L1290.5,160.1L1289.9,159.9L1289.2,159.8L1288.3,159.7L1287.4,159.8L1286.7,159.9L1286.1,160.1L1285.6,160.4L1285.1,160.8L1284.8,161.3L1284.5,161.8L1284.4,162.4L1284.3,163.2L1284.4,164.0L1284.5,164.6L1284.8,165.1L1285.1,165.6L1285.6,166.0L1286.1,166.3L1286.7,166.5L1287.4,166.6L1288.3,166.7L1289.2,166.6L1289.9,166.5L1290.5,166.3L1291.0,166.0L1291.5,165.6L1291.8,165.1L1292.1,164.6L1292.3,164.0L1292.3,163.2 M1292.3,163.2L1292.4,164.1L1292.5,164.8L1292.8,165.5L1293.2,166.0L1293.7,166.5L1294.3,166.9L1294.9,167.1L1295.7,167.3L1296.7,167.4L1297.6,167.3L1298.4,167.1L1299.0,166.9L1299.6,166.5L1300.1,166.0L1300.5,165.5L1300.8,164.8L1300.9,164.1L1301.0,163.2L1300.9,162.3L1300.8,161.6L1300.5,160.9L1300.1,160.4L1299.6,159.9L1299.0,159.5L1298.4,159.3L1297.6,159.1L1296.7,159.1L1295.7,159.1L1294.9,159.3L1294.3,159.5L1293.7,159.9L1293.2,160.4L1292.8,160.9L1292.5,161.6L1292.4,162.3L1292.3,163.2 M1292.7,144.8L1291.0,144.8L1289.8,144.9L1288.8,145.0L1287.9,145.2L1287.0,145.5L1286.3,145.8L1285.7,146.1L1285.2,146.5L1284.8,147.0L1284.5,147.5L1284.4,148.1L1284.3,148.9L1284.4,149.7L1284.5,150.3L1284.8,150.8L1285.2,151.3L1285.7,151.7L1286.3,152.1L1287.0,152.4L1287.9,152.6L1288.8,152.8L1289.8,152.9L1291.0,153.0L1292.6,153.1L1294.3,153.0L1295.5,152.9L1296.5,152.8L1297.4,152.6L1298.3,152.4L1299.0,152.1L1299.6,151.7L1300.1,151.3L1300.5,150.8L1300.8,150.3L1300.9,149.7L1301.0,148.9L1300.9,148.1L1300.8,147.5L1300.5,147.0L1300.1,146.5L1299.6,146.1L1299.0,145.8L1298.3,145.5L1297.4,145.2L1296.5,145.0L1295.5,144.9L1294.3,144.8L1292.7,144.8 M1287.3,106.6L1284.3,105.1L1301.0,105.1 M1301.0,106.6L1301.0,103.6 M1292.7,86.4L1291.0,86.4L1289.8,86.5L1288.8,86.7L1287.9,86.9L1287.0,87.1L1286.3,87.4L1285.7,87.8L1285.2,88.2L1284.8,88.7L1284.5,89.2L1284.4,89.9L1284.3,90.7L1284.4,91.5L1284.5,92.2L1284.8,92.7L1285.2,93.2L1285.7,93.6L1286.3,94.0L1287.0,94.3L1287.9,94.5L1288.8,94.7L1289.8,94.9L1291.0,95.0L1292.6,95.0L1294.3,95.0L1295.5,94.9L1296.5,94.7L1297.4,94.5L1298.3,94.3L1299.0,94.0L1299.6,93.6L1300.1,93.2L1300.5,92.7L1300.8,92.2L1300.9,91.5L1301.0,90.7L1300.9,89.9L1300.8,89.2L1300.5,88.7L1300.1,88.2L1299.6,87.8L1299.0,87.4L1298.3,87.1L1297.4,86.9L1296.5,86.7L1295.5,86.5L1294.3,86.4L1292.7,86.4 M1292.7,72.0L1291.0,72.0L1289.8,72.1L1288.8,72.3L1287.9,72.5L1287.0,72.7L1286.3,73.1L1285.7,73.4L1285.2,73.9L1284.8,74.3L1284.5,74.9L1284.4,75.5L1284.3,76.3L1284.4,77.2L1284.5,77.8L1284.8,78.4L1285.2,78.8L1285.7,79.3L1286.3,79.6L1287.0,80.0L1287.9,80.2L1288.8,80.4L1289.8,80.6L1291.0,80.7L1292.6,80.7L1294.3,80.7L1295.5,80.6L1296.5,80.4L1297.4,80.2L1298.3,80.0L1299.0,79.6L1299.6,79.3L1300.1,78.8L1300.5,78.4L1300.8,77.8L1300.9,77.2L1301.0,76.4L1300.9,75.5L1300.8,74.9L1300.5,74.3L1300.1,73.9L1299.6,73.4L1299.0,73.1L1298.3,72.7L1297.4,72.5L1296.5,72.3L1295.5,72.1L1294.3,72.0L1292.7,72.0" fill="none" stroke="#aa00b0" stroke-width="2.0" stroke-linecap="round" stroke-linejoin="round"/>
<path d="M705.9,776.8L704.2,776.8L703.1,776.9L702.0,777.1L701.1,777.3L700.3,777.6L699.6,777.9L699.0,778.3L698.5,778.7L698.1,779.2L697.8,779.7L697.7,780.4L697.6,781.2L697.7,782.1L697.8,782.8L698.1,783.3L698.5,783.8L699.0,784.2L699.6,784.6L700.3,784.9L701.1,785.2L702.0,785.4L703.1,785.6L704.2,785.7L705.8,785.7L707.5,785.7L708.6,785.6L709.7,785.4L710.6,785.2L711.4,784.9L712.1,784.6L712.7,784.2L713.2,783.8L713.6,783.3L713.9,782.8L714.0,782.1L714.1,781.3L714.0,780.4L713.9,779.7L713.6,779.2L713.2,778.7L712.7,778.3L712.1,777.9L711.4,777.6L710.6,777.3L709.7,777.1L708.6,776.9L707.5,776.8L705.9,776.8 M700.8,727.2L700.2,727.0L699.7,726.8L699.2,726.5L698.8,726.2L698.4,725.9L698.1,725.5L697.9,725.0L697.7,724.5L697.6,724.0L697.6,723.3L697.6,722.6L697.7,722.1L697.9,721.6L698.1,721.1L698.4,720.7L698.8,720.3L699.2,720.0L699.7,719.8L700.2,719.6L700.8,719.4L701.4,719.3L702.2,719.3L703.0,719.3L703.6,719.4L704.2,719.6L704.7,719.8L714.1,727.4L714.1,719.1 M705.9,704.8L704.2,704.9L703.1,705.0L702.0,705.1L701.1,705.3L700.3,705.5L699.6,705.8L699.0,706.2L698.5,706.6L698.1,707.1L697.8,707.6L697.7,708.2L697.6,709.0L697.7,709.8L697.8,710.4L698.1,710.9L698.5,711.4L699.0,711.8L699.6,712.1L700.3,712.4L701.1,712.7L702.0,712.9L703.1,713.0L704.2,713.1L705.8,713.1L707.5,713.1L708.6,713.0L709.7,712.9L710.6,712.7L711.4,712.4L712.1,712.1L712.7,711.8L713.2,711.4L713.6,710.9L713.9,710.4L714.0,709.8L714.1,709.0L714.0,708.2L713.9,707.6L713.6,707.1L713.2,706.6L712.7,706.2L712.1,705.8L711.4,705.5L710.6,705.3L709.7,705.1L708.6,705.0L707.5,704.9L705.9,704.8 M714.1,655.9L697.6,655.9L709.1,661.9L709.1,653.6 M705.9,639.3L704.2,639.3L703.1,639.4L702.0,639.5L701.1,639.7L700.3,640.0L699.6,640.3L699.0,640.6L698.5,641.0L698.1,641.5L697.8,642.0L697.7,642.6L697.6,643.4L697.7,644.2L697.8,644.8L698.1,645.4L698.5,645.8L699.0,646.2L699.6,646.6L700.3,646.9L701.1,647.1L702.0,647.3L703.1,647.5L704.2,647.6L705.8,647.6L707.5,647.6L708.6,647.5L709.7,647.3L710.6,647.1L711.4,646.9L712.1,646.6L712.7,646.2L713.2,645.8L713.6,645.4L713.9,644.8L714.0,644.2L714.1,643.4L714.0,642.6L713.9,642.0L713.6,641.5L713.2,641.0L712.7,640.6L712.1,640.3L711.4,640.0L710.6,639.7L709.7,639.5L708.6,639.4L707.5,639.3L705.9,639.3 M699.3,589.3L698.7,589.8L698.3,590.2L697.9,590.7L697.7,591.3L697.6,591.9L697.6,592.7L697.8,593.3L698.1,593.8L698.5,594.3L699.0,594.8L699.6,595.2L700.3,595.5L701.2,595.8L702.1,596.0L703.1,596.2L704.3,596.3L705.6,596.3L707.1,596.3L708.3,596.2L709.3,596.1L710.3,595.9L711.1,595.6L711.9,595.3L712.6,594.9L713.1,594.5L713.5,594.0L713.8,593.5L714.0,592.9L714.1,592.2L714.1,592.2L714.1,591.5L714.0,590.9L713.8,590.4L713.5,589.9L713.2,589.5L712.8,589.1L712.4,588.8L711.9,588.5L711.3,588.3L710.7,588.1L710.0,588.1L709.2,588.0L708.3,588.1L707.6,588.1L707.0,588.3L706.4,588.5L705.9,588.8L705.5,589.1L705.1,589.5L704.8,589.9L704.5,590.4L704.3,590.9L704.2,591.5L704.2,592.2L704.2,592.9L704.3,593.5L704.5,594.0L704.8,594.4L705.1,594.9L705.5,595.2L705.9,595.6L706.4,595.8L707.0,596.0L707.6,596.2L708.3,596.3L709.1,596.3 M705.9,573.7L704.2,573.7L703.1,573.8L702.0,574.0L701.1,574.2L700.3,574.4L699.6,574.7L699.0,575.1L698.5,575.5L698.1,575.9L697.8,576.5L697.7,577.1L697.6,577.9L697.7,578.7L697.8,579.3L698.1,579.8L698.5,580.3L699.0,580.7L699.6,581.0L700.3,581.3L701.1,581.6L702.0,581.8L703.1,581.9L704.2,582.0L705.8,582.0L707.5,582.0L708.6,581.9L709.7,581.8L710.6,581.6L711.4,581.3L712.1,581.0L712.7,580.7L713.2,580.3L713.6,579.8L713.9,579.3L714.0,578.7L714.1,577.9L714.0,577.1L713.9,576.5L713.6,575.9L713.2,575.5L712.7,575.1L712.1,574.7L711.4,574.4L710.6,574.2L709.7,574.0L708.6,573.8L707.5,573.7L705.9,573.7 M705.5,526.6L705.5,525.8L705.3,525.2L705.1,524.7L704.7,524.2L704.3,523.8L703.7,523.5L703.1,523.3L702.4,523.2L701.6,523.1L700.7,523.2L700.0,523.3L699.4,523.5L698.9,523.8L698.4,524.2L698.1,524.7L697.8,525.2L697.7,525.8L697.6,526.6L697.7,527.4L697.8,528.0L698.1,528.5L698.4,529.0L698.9,529.4L699.4,529.7L700.0,529.9L700.7,530.0L701.6,530.1L702.4,530.0L703.1,529.9L703.7,529.7L704.3,529.4L704.7,529.0L705.1,528.5L705.3,528.0L705.5,527.4L705.5,526.6 M705.5,526.6L705.6,527.5L705.7,528.2L706.0,528.9L706.4,529.4L706.9,529.9L707.5,530.3L708.1,530.5L708.9,530.7L709.8,530.8L710.7,530.7L711.5,530.5L712.2,530.3L712.7,529.9L713.2,529.4L713.6,528.9L713.9,528.2L714.0,527.5L714.1,526.6L714.0,525.7L713.9,525.0L713.6,524.3L713.2,523.8L712.7,523.3L712.2,522.9L711.5,522.7L710.7,522.5L709.8,522.5L708.9,522.5L708.1,522.7L707.5,522.9L706.9,523.3L706.4,523.8L706.0,524.3L705.7,525.0L705.6,525.7L705.5,526.6 M705.9,508.2L704.2,508.2L703.1,508.3L702.0,508.4L701.1,508.6L700.3,508.9L699.6,509.2L699.0,509.5L698.5,509.9L698.1,510.4L697.8,510.9L697.7,511.5L697.6,512.3L697.7,513.1L697.8,513.7L698.1,514.2L698.5,514.7L699.0,515.1L699.6,515.5L700.3,515.8L701.1,516.0L702.0,516.2L703.1,516.3L704.2,516.4L705.8,516.5L707.5,516.4L708.6,516.3L709.7,516.2L710.6,516.0L711.4,515.8L712.1,515.5L712.7,515.1L713.2,514.7L713.6,514.2L713.9,513.7L714.0,513.1L714.1,512.3L714.0,511.5L713.9,510.9L713.6,510.4L713.2,509.9L712.7,509.5L712.1,509.2L711.4,508.9L710.6,508.6L709.7,508.4L708.6,508.3L707.5,508.2L705.9,508.2 M700.6,470.0L697.6,468.5L714.1,468.5 M714.1,470.0L714.1,467.0 M705.9,449.8L704.2,449.8L703.1,449.9L702.0,450.1L701.1,450.3L700.3,450.5L699.6,450.8L699.0,451.2L698.5,451.6L698.1,452.1L697.8,452.6L697.7,453.3L697.6,454.1L697.7,454.9L697.8,455.6L698.1,456.1L698.5,456.6L699.0,457.0L699.6,457.4L700.3,457.7L701.1,457.9L702.0,458.1L703.1,458.3L704.2,458.4L705.8,458.4L707.5,458.4L708.6,458.3L709.7,458.1L710.6,457.9L711.4,457.7L712.1,457.4L712.7,457.0L713.2,456.6L713.6,456.1L713.9,455.6L714.0,454.9L714.1,454.1L714.0,453.3L713.9,452.6L713.6,452.1L713.2,451.6L712.7,451.2L712.1,450.8L711.4,450.5L710.6,450.3L709.7,450.1L708.6,449.9L707.5,449.8L705.9,449.8 M705.9,435.4L704.2,435.4L703.1,435.5L702.0,435.7L701.1,435.9L700.3,436.1L699.6,436.5L699.0,436.8L698.5,437.3L698.1,437.7L697.8,438.3L697.7,438.9L697.6,439.7L697.7,440.6L697.8,441.2L698.1,441.8L698.5,442.2L699.0,442.7L699.6,443.0L700.3,443.4L701.1,443.6L702.0,443.8L703.1,444.0L704.2,444.1L705.8,444.1L707.5,444.1L708.6,444.0L709.7,443.8L710.6,443.6L711.4,443.4L712.1,443.0L712.7,442.7L713.2,442.2L713.6,441.8L713.9,441.2L714.0,440.6L714.1,439.8L714.0,438.9L713.9,438.3L713.6,437.7L713.2,437.3L712.7,436.8L712.1,436.5L711.4,436.1L710.6,435.9L709.7,435.7L708.6,435.5L707.5,435.4L705.9,435.4" fill="none" stroke="#000" stroke-width="2.0" stroke-linecap="round" stroke-linejoin="round"/>
<path d="M1292.7,776.8L1291.0,776.8L1289.8,776.9L1288.8,777.1L1287.9,777.3L1287.0,777.6L1286.3,777.9L1285.7,778.3L1285.2,778.7L1284.8,779.2L1284.5,779.7L1284.4,780.4L1284.3,781.2L1284.4,782.1L1284.5,782.8L1284.8,783.3L1285.2,783.8L1285.7,784.2L1286.3,784.6L1287.0,784.9L1287.9,785.2L1288.8,785.4L1289.8,785.6L1291.0,785.7L1292.6,785.7L1294.3,785.7L1295.5,785.6L1296.5,785.4L1297.4,785.2L1298.3,784.9L1299.0,784.6L1299.6,784.2L1300.1,783.8L1300.5,783.3L1300.8,782.8L1300.9,782.1L1301.0,781.3L1300.9,780.4L1300.8,779.7L1300.5,779.2L1300.1,778.7L1299.6,778.3L1299.0,777.9L1298.3,777.6L1297.4,777.3L1296.5,777.1L1295.5,776.9L1294.3,776.8L1292.7,776.8 M1287.5,727.2L1286.9,727.0L1286.4,726.8L1285.9,726.5L1285.5,726.2L1285.2,725.9L1284.8,725.5L1284.6,725.0L1284.4,724.5L1284.3,724.0L1284.3,723.3L1284.3,722.6L1284.4,722.1L1284.6,721.6L1284.8,721.1L1285.2,720.7L1285.5,720.3L1285.9,720.0L1286.4,719.8L1286.9,719.6L1287.5,719.4L1288.2,719.3L1289.0,719.3L1289.8,719.3L1290.4,719.4L1291.0,719.6L1291.5,719.8L1301.0,727.4L1301.0,719.1 M1292.7,704.8L1291.0,704.9L1289.8,705.0L1288.8,705.1L1287.9,705.3L1287.0,705.5L1286.3,705.8L1285.7,706.2L1285.2,706.6L1284.8,707.1L1284.5,707.6L1284.4,708.2L1284.3,709.0L1284.4,709.8L1284.5,710.4L1284.8,710.9L1285.2,711.4L1285.7,711.8L1286.3,712.1L1287.0,712.4L1287.9,712.7L1288.8,712.9L1289.8,713.0L1291.0,713.1L1292.6,713.1L1294.3,713.1L1295.5,713.0L1296.5,712.9L1297.4,712.7L1298.3,712.4L1299.0,712.1L1299.6,711.8L1300.1,711.4L1300.5,710.9L1300.8,710.4L1300.9,709.8L1301.0,709.0L1300.9,708.2L1300.8,707.6L1300.5,707.1L1300.1,706.6L1299.6,706.2L1299.0,705.8L1298.3,705.5L1297.4,705.3L1296.5,705.1L1295.5,705.0L1294.3,704.9L1292.7,704.8 M1301.0,655.9L1284.3,655.9L1296.0,661.9L1296.0,653.6 M1292.7,639.3L1291.0,639.3L1289.8,639.4L1288.8,639.5L1287.9,639.7L1287.0,640.0L1286.3,640.3L1285.7,640.6L1285.2,641.0L1284.8,641.5L1284.5,642.0L1284.4,642.6L1284.3,643.4L1284.4,644.2L1284.5,644.8L1284.8,645.4L1285.2,645.8L1285.7,646.2L1286.3,646.6L1287.0,646.9L1287.9,647.1L1288.8,647.3L1289.8,647.5L1291.0,647.6L1292.6,647.6L1294.3,647.6L1295.5,647.5L1296.5,647.3L1297.4,647.1L1298.3,646.9L1299.0,646.6L1299.6,646.2L1300.1,645.8L1300.5,645.4L1300.8,644.8L1300.9,644.2L1301.0,643.4L1300.9,642.6L1300.8,642.0L1300.5,641.5L1300.1,641.0L1299.6,640.6L1299.0,640.3L1298.3,640.0L1297.4,639.7L1296.5,639.5L1295.5,639.4L1294.3,639.3L1292.7,639.3 M1286.0,589.3L1285.4,589.8L1285.0,590.2L1284.6,590.7L1284.4,591.3L1284.3,591.9L1284.3,592.7L1284.5,593.3L1284.8,593.8L1285.2,594.3L1285.7,594.8L1286.3,595.2L1287.1,595.5L1287.9,595.8L1288.9,596.0L1289.9,596.2L1291.0,596.3L1292.4,596.3L1293.9,596.3L1295.1,596.2L1296.2,596.1L1297.1,595.9L1298.0,595.6L1298.8,595.3L1299.4,594.9L1300.0,594.5L1300.4,594.0L1300.7,593.5L1300.9,592.9L1301.0,592.2L1301.0,592.2L1301.0,591.5L1300.9,590.9L1300.7,590.4L1300.4,589.9L1300.1,589.5L1299.7,589.1L1299.2,588.8L1298.7,588.5L1298.2,588.3L1297.5,588.1L1296.8,588.1L1296.0,588.0L1295.1,588.1L1294.4,588.1L1293.8,588.3L1293.2,588.5L1292.7,588.8L1292.3,589.1L1291.9,589.5L1291.6,589.9L1291.3,590.4L1291.1,590.9L1291.0,591.5L1291.0,592.2L1291.0,592.9L1291.1,593.5L1291.3,594.0L1291.6,594.4L1291.9,594.9L1292.3,595.2L1292.7,595.6L1293.2,595.8L1293.8,596.0L1294.4,596.2L1295.1,596.3L1296.0,596.3 M1292.7,573.7L1291.0,573.7L1289.8,573.8L1288.8,574.0L1287.9,574.2L1287.0,574.4L1286.3,574.7L1285.7,575.1L1285.2,575.5L1284.8,575.9L1284.5,576.5L1284.4,577.1L1284.3,577.9L1284.4,578.7L1284.5,579.3L1284.8,579.8L1285.2,580.3L1285.7,580.7L1286.3,581.0L1287.0,581.3L1287.9,581.6L1288.8,581.8L1289.8,581.9L1291.0,582.0L1292.6,582.0L1294.3,582.0L1295.5,581.9L1296.5,581.8L1297.4,581.6L1298.3,581.3L1299.0,581.0L1299.6,580.7L1300.1,580.3L1300.5,579.8L1300.8,579.3L1300.9,578.7L1301.0,577.9L1300.9,577.1L1300.8,576.5L1300.5,575.9L1300.1,575.5L1299.6,575.1L1299.0,574.7L1298.3,574.4L1297.4,574.2L1296.5,574.0L1295.5,573.8L1294.3,573.7L1292.7,573.7 M1292.3,526.6L1292.3,525.8L1292.1,525.2L1291.8,524.7L1291.5,524.2L1291.0,523.8L1290.5,523.5L1289.9,523.3L1289.2,523.2L1288.3,523.1L1287.4,523.2L1286.7,523.3L1286.1,523.5L1285.6,523.8L1285.1,524.2L1284.8,524.7L1284.5,525.2L1284.4,525.8L1284.3,526.6L1284.4,527.4L1284.5,528.0L1284.8,528.5L1285.1,529.0L1285.6,529.4L1286.1,529.7L1286.7,529.9L1287.4,530.0L1288.3,530.1L1289.2,530.0L1289.9,529.9L1290.5,529.7L1291.0,529.4L1291.5,529.0L1291.8,528.5L1292.1,528.0L1292.3,527.4L1292.3,526.6 M1292.3,526.6L1292.4,527.5L1292.5,528.2L1292.8,528.9L1293.2,529.4L1293.7,529.9L1294.3,530.3L1294.9,530.5L1295.7,530.7L1296.7,530.8L1297.6,530.7L1298.4,530.5L1299.0,530.3L1299.6,529.9L1300.1,529.4L1300.5,528.9L1300.8,528.2L1300.9,527.5L1301.0,526.6L1300.9,525.7L1300.8,525.0L1300.5,524.3L1300.1,523.8L1299.6,523.3L1299.0,522.9L1298.4,522.7L1297.6,522.5L1296.7,522.5L1295.7,522.5L1294.9,522.7L1294.3,522.9L1293.7,523.3L1293.2,523.8L1292.8,524.3L1292.5,525.0L1292.4,525.7L1292.3,526.6 M1292.7,508.2L1291.0,508.2L1289.8,508.3L1288.8,508.4L1287.9,508.6L1287.0,508.9L1286.3,509.2L1285.7,509.5L1285.2,509.9L1284.8,510.4L1284.5,510.9L1284.4,511.5L1284.3,512.3L1284.4,513.1L1284.5,513.7L1284.8,514.2L1285.2,514.7L1285.7,515.1L1286.3,515.5L1287.0,515.8L1287.9,516.0L1288.8,516.2L1289.8,516.3L1291.0,516.4L1292.6,516.5L1294.3,516.4L1295.5,516.3L1296.5,516.2L1297.4,516.0L1298.3,515.8L1299.0,515.5L1299.6,515.1L1300.1,514.7L1300.5,514.2L1300.8,513.7L1300.9,513.1L1301.0,512.3L1300.9,511.5L1300.8,510.9L1300.5,510.4L1300.1,509.9L1299.6,509.5L1299.0,509.2L1298.3,508.9L1297.4,508.6L1296.5,508.4L1295.5,508.3L1294.3,508.2L1292.7,508.2 M1287.3,470.0L1284.3,468.5L1301.0,468.5 M1301.0,470.0L1301.0,467.0 M1292.7,449.8L1291.0,449.8L1289.8,449.9L1288.8,450.1L1287.9,450.3L1287.0,450.5L1286.3,450.8L1285.7,451.2L1285.2,451.6L1284.8,452.1L1284.5,452.6L1284.4,453.3L1284.3,454.1L1284.4,454.9L1284.5,455.6L1284.8,456.1L1285.2,456.6L1285.7,457.0L1286.3,457.4L1287.0,457.7L1287.9,457.9L1288.8,458.1L1289.8,458.3L1291.0,458.4L1292.6,458.4L1294.3,458.4L1295.5,458.3L1296.5,458.1L1297.4,457.9L1298.3,457.7L1299.0,457.4L1299.6,457.0L1300.1,456.6L1300.5,456.1L1300.8,455.6L1300.9,454.9L1301.0,454.1L1300.9,453.3L1300.8,452.6L1300.5,452.1L1300.1,451.6L1299.6,451.2L1299.0,450.8L1298.3,450.5L1297.4,450.3L1296.5,450.1L1295.5,449.9L1294.3,449.8L1292.7,449.8 M1292.7,435.4L1291.0,435.4L1289.8,435.5L1288.8,435.7L1287.9,435.9L1287.0,436.1L1286.3,436.5L1285.7,436.8L1285.2,437.3L1284.8,437.7L1284.5,438.3L1284.4,438.9L1284.3,439.7L1284.4,440.6L1284.5,441.2L1284.8,441.8L1285.2,442.2L1285.7,442.7L1286.3,443.0L1287.0,443.4L1287.9,443.6L1288.8,443.8L1289.8,444.0L1291.0,444.1L1292.6,444.1L1294.3,444.1L1295.5,444.0L1296.5,443.8L1297.4,443.6L1298.3,443.4L1299.0,443.0L1299.6,442.7L1300.1,442.2L1300.5,441.8L1300.8,441.2L1300.9,440.6L1301.0,439.8L1300.9,438.9L1300.8,438.3L1300.5,437.7L1300.1,437.3L1299.6,436.8L1299.0,436.5L1298.3,436.1L1297.4,435.9L1296.5,435.7L1295.5,435.5L1294.3,435.4L1292.7,435.4" fill="none" stroke="#aa00b0" stroke-width="2.0" stroke-linecap="round" stroke-linejoin="round"/>
<path d="M113.9,810.3L113.9,820.6L113.9,820.6L113.9,821.8L114.1,822.7L114.3,823.6L114.7,824.4L115.1,825.1L115.6,825.7L116.2,826.2L116.9,826.7L117.7,827.0L118.5,827.3L119.5,827.4L120.6,827.5L121.7,827.4L122.7,827.3L123.5,827.0L124.3,826.7L125.0,826.2L125.6,825.7L126.1,825.1L126.5,824.4L126.9,823.6L127.1,822.7L127.3,821.8L127.3,820.6L127.3,810.3 M132.4,827.5L132.4,816.2 M132.4,820.5L132.6,819.3L132.9,818.7L133.2,818.1L133.5,817.6L133.9,817.2L134.4,816.9L134.9,816.6L135.5,816.4L136.1,816.3L136.9,816.2L137.7,816.2L138.4,816.3L139.0,816.5L139.5,816.8L140.0,817.1L140.5,817.5L140.8,817.9L141.1,818.5L141.4,819.1L141.6,819.7L141.7,820.4L141.7,821.3L141.7,827.5 M147.6,816.2L147.6,832.6 M148.5,818.1L148.9,817.6L149.4,817.2L149.9,816.8L150.5,816.5L151.2,816.3L151.9,816.2L152.8,816.2L153.6,816.3L154.3,816.4L154.9,816.7L155.5,817.0L156.0,817.4L156.5,817.9L156.8,818.4L157.1,819.0L157.4,819.7L157.5,820.5L157.6,821.3L157.6,822.4L157.5,823.2L157.4,824.0L157.1,824.7L156.8,825.3L156.5,825.8L156.0,826.3L155.5,826.7L154.9,827.0L154.3,827.3L153.6,827.4L152.8,827.5L151.9,827.5L151.2,827.4L150.5,827.2L149.9,826.9L149.4,826.5L148.9,826.1L148.5,825.6 M163.5,827.5L163.5,816.2 M163.5,823.5L163.5,822.3L163.7,821.3L163.9,820.4L164.3,819.5L164.7,818.8L165.2,818.1L165.8,817.5L166.4,817.1L167.2,816.7L168.0,816.4L168.9,816.3L170.0,816.2L172.8,816.3 M187.6,821.9L187.6,820.7L187.5,819.9L187.3,819.2L187.1,818.6L186.8,818.1L186.5,817.6L186.1,817.2L185.6,816.8L185.1,816.5L184.6,816.4L183.9,816.2L183.0,816.2L182.1,816.2L181.4,816.4L180.9,816.5L180.4,816.8L179.9,817.2L179.5,817.6L179.2,818.1L178.9,818.6L178.7,819.2L178.5,819.9L178.4,820.7L178.4,821.8L178.4,823.0L178.5,823.8L178.7,824.5L178.9,825.1L179.2,825.6L179.5,826.1L179.9,826.5L180.4,826.9L180.9,827.2L181.4,827.3L182.1,827.5L183.0,827.5L183.9,827.5L184.6,827.3L185.1,827.2L185.6,826.9L186.1,826.5L186.5,826.1L186.8,825.6L187.1,825.1L187.3,824.5L187.5,823.8L187.6,823.0L187.6,821.9 M202.9,818.1L202.5,817.6L202.0,817.2L201.5,816.8L200.9,816.5L200.2,816.3L199.4,816.2L198.5,816.2L197.6,816.3L196.9,816.4L196.3,816.7L195.7,817.0L195.2,817.4L194.7,817.9L194.3,818.4L194.0,819.0L193.8,819.7L193.6,820.5L193.5,821.3L193.5,822.4L193.6,823.2L193.8,824.0L194.0,824.7L194.3,825.3L194.7,825.8L195.2,826.3L195.7,826.7L196.3,827.0L196.9,827.3L197.6,827.4L198.5,827.5L199.4,827.5L200.2,827.4L200.9,827.2L201.5,826.9L202.0,826.5L202.5,826.1L202.9,825.6" fill="none" stroke="#000" stroke-width="2.2" stroke-linecap="round" stroke-linejoin="round"/>
<path d="M223.2,813.2L225.1,810.0L225.1,827.8 M223.2,827.8L227.0,827.8 M245.1,818.9L245.0,817.2L244.9,815.9L244.8,814.8L244.5,813.8L244.3,813.0L243.9,812.2L243.5,811.5L243.0,811.0L242.5,810.6L241.9,810.3L241.3,810.1L240.4,810.0L239.4,810.1L238.8,810.3L238.2,810.6L237.7,811.0L237.2,811.5L236.8,812.2L236.4,813.0L236.2,813.8L235.9,814.8L235.8,815.9L235.7,817.2L235.7,818.9L235.7,820.6L235.8,821.9L235.9,823.0L236.2,824.0L236.4,824.8L236.8,825.6L237.2,826.3L237.7,826.8L238.2,827.2L238.8,827.5L239.4,827.7L240.3,827.8L241.3,827.7L241.9,827.5L242.5,827.2L243.0,826.8L243.5,826.3L243.9,825.6L244.3,824.8L244.5,824.0L244.8,823.0L244.9,821.9L245.0,820.6L245.1,818.9 M260.4,818.9L260.4,817.2L260.3,815.9L260.2,814.8L259.9,813.8L259.7,813.0L259.3,812.2L258.9,811.5L258.4,811.0L257.9,810.6L257.3,810.3L256.7,810.1L255.8,810.0L254.8,810.1L254.2,810.3L253.6,810.6L253.1,811.0L252.6,811.5L252.2,812.2L251.8,813.0L251.6,813.8L251.3,814.8L251.2,815.9L251.1,817.2L251.1,818.9L251.1,820.6L251.2,821.9L251.3,823.0L251.6,824.0L251.8,824.8L252.2,825.6L252.6,826.3L253.1,826.8L253.6,827.2L254.2,827.5L254.8,827.7L255.7,827.8L256.7,827.7L257.3,827.5L257.9,827.2L258.4,826.8L258.9,826.3L259.3,825.6L259.7,824.8L259.9,824.0L260.2,823.0L260.3,821.9L260.4,820.6L260.4,818.9 M266.2,827.8L279.1,810.0 M271.4,813.6L271.3,812.5L271.0,811.7L270.7,811.0L270.2,810.5L269.6,810.2L268.8,810.0L267.9,810.2L267.3,810.5L266.8,811.0L266.5,811.7L266.2,812.5L266.2,813.6L266.2,814.7L266.5,815.5L266.8,816.2L267.3,816.7L267.9,817.0L268.8,817.1L269.6,817.0L270.2,816.7L270.7,816.2L271.0,815.5L271.3,814.7L271.4,813.6 M279.1,824.2L279.1,823.1L278.8,822.3L278.5,821.6L278.0,821.1L277.4,820.8L276.6,820.7L275.7,820.8L275.1,821.1L274.6,821.6L274.3,822.3L274.0,823.1L273.9,824.2L274.0,825.3L274.3,826.1L274.6,826.8L275.1,827.3L275.7,827.6L276.5,827.8L277.4,827.6L278.0,827.3L278.5,826.8L278.8,826.1L279.1,825.3L279.1,824.2 M271.4,813.6L275.2,811.8L279.1,810.0 M326.7,811.9L326.2,811.3L325.7,810.8L325.1,810.4L324.4,810.2L323.6,810.1L322.6,810.1L321.9,810.3L321.3,810.5L320.7,811.0L320.1,811.5L319.7,812.2L319.2,813.0L318.9,813.9L318.6,814.9L318.4,816.0L318.3,817.2L318.3,818.6L318.3,820.2L318.4,821.5L318.6,822.6L318.8,823.7L319.1,824.6L319.5,825.4L320.0,826.1L320.5,826.7L321.1,827.1L321.7,827.5L322.4,827.7L323.3,827.8L323.3,827.8L324.2,827.7L324.9,827.6L325.5,827.4L326.1,827.1L326.6,826.8L327.0,826.4L327.4,825.9L327.8,825.3L328.0,824.7L328.2,824.1L328.3,823.3L328.3,822.4L328.3,821.5L328.2,820.8L328.0,820.1L327.8,819.5L327.4,819.0L327.0,818.5L326.6,818.1L326.1,817.8L325.5,817.5L324.9,817.3L324.2,817.2L323.3,817.1L322.4,817.2L321.7,817.3L321.1,817.5L320.5,817.8L320.0,818.1L319.6,818.5L319.2,819.0L318.8,819.5L318.6,820.1L318.4,820.8L318.3,821.5L318.2,822.4 M343.3,818.9L343.3,817.2L343.2,815.9L343.1,814.8L342.8,813.8L342.5,813.0L342.2,812.2L341.8,811.5L341.3,811.0L340.8,810.6L340.2,810.3L339.5,810.1L338.6,810.0L337.7,810.1L337.0,810.3L336.4,810.6L335.9,811.0L335.4,811.5L335.0,812.2L334.7,813.0L334.4,813.8L334.1,814.8L334.0,815.9L333.9,817.2L333.9,818.9L333.9,820.6L334.0,821.9L334.1,823.0L334.4,824.0L334.7,824.8L335.0,825.6L335.4,826.3L335.9,826.8L336.4,827.2L337.0,827.5L337.7,827.7L338.6,827.8L339.5,827.7L340.2,827.5L340.8,827.2L341.3,826.8L341.8,826.3L342.2,825.6L342.5,824.8L342.8,824.0L343.1,823.0L343.2,821.9L343.3,820.6L343.3,818.9 M349.4,827.8L362.2,810.0 M354.5,813.6L354.4,812.5L354.2,811.7L353.8,811.0L353.3,810.5L352.7,810.2L351.9,810.0L351.1,810.2L350.5,810.5L350.0,811.0L349.7,811.7L349.4,812.5L349.4,813.6L349.4,814.7L349.7,815.5L350.0,816.2L350.5,816.7L351.1,817.0L351.9,817.1L352.7,817.0L353.3,816.7L353.8,816.2L354.2,815.5L354.4,814.7L354.5,813.6 M362.2,824.2L362.2,823.1L361.9,822.3L361.6,821.6L361.1,821.1L360.5,820.8L359.7,820.7L358.9,820.8L358.3,821.1L357.8,821.6L357.4,822.3L357.2,823.1L357.1,824.2L357.2,825.3L357.4,826.1L357.8,826.8L358.3,827.3L358.9,827.6L359.7,827.8L360.5,827.6L361.1,827.3L361.6,826.8L361.9,826.1L362.2,825.3L362.2,824.2 M354.5,813.6L358.4,811.8L362.2,810.0 M417.1,827.8L417.1,810.0L409.4,822.4L420.1,822.4 M435.1,818.9L435.0,817.2L434.9,815.9L434.7,814.8L434.5,813.8L434.2,813.0L433.8,812.2L433.4,811.5L432.9,811.0L432.3,810.6L431.7,810.3L431.0,810.1L430.0,810.0L429.0,810.1L428.3,810.3L427.7,810.6L427.1,811.0L426.6,811.5L426.2,812.2L425.8,813.0L425.5,813.8L425.3,814.8L425.1,815.9L425.0,817.2L424.9,818.9L425.0,820.6L425.1,821.9L425.3,823.0L425.5,824.0L425.8,824.8L426.2,825.6L426.6,826.3L427.1,826.8L427.7,827.2L428.3,827.5L429.0,827.7L430.0,827.8L431.0,827.7L431.7,827.5L432.3,827.2L432.9,826.8L433.4,826.3L433.8,825.6L434.2,824.8L434.5,824.0L434.7,823.0L434.9,821.9L435.0,820.6L435.1,818.9 M439.9,827.8L452.8,810.0 M445.1,813.6L445.0,812.5L444.8,811.7L444.4,811.0L443.9,810.5L443.3,810.2L442.5,810.0L441.7,810.2L441.1,810.5L440.6,811.0L440.3,811.7L440.0,812.5L439.9,813.6L440.0,814.7L440.3,815.5L440.6,816.2L441.1,816.7L441.7,817.0L442.5,817.1L443.3,817.0L443.9,816.7L444.4,816.2L444.8,815.5L445.0,814.7L445.1,813.6 M452.8,824.2L452.8,823.1L452.5,822.3L452.2,821.6L451.7,821.1L451.1,820.8L450.3,820.7L449.5,820.8L448.9,821.1L448.4,821.6L448.0,822.3L447.8,823.1L447.7,824.2L447.8,825.3L448.0,826.1L448.4,826.8L448.9,827.3L449.5,827.6L450.3,827.8L451.1,827.6L451.7,827.3L452.2,826.8L452.5,826.1L452.8,825.3L452.8,824.2 M445.1,813.6L449.0,811.8L452.8,810.0" fill="none" stroke="#000" stroke-width="2.1" stroke-linecap="round" stroke-linejoin="round"/>
<path d="M93.8,843.5L102.2,865.2L110.5,843.5 M128.3,858.2L128.3,856.9L128.2,855.9L128.0,855.0L127.6,854.2L127.3,853.5L126.8,852.9L126.2,852.4L125.6,852.0L124.9,851.7L124.1,851.4L123.2,851.3L121.9,851.2L120.6,851.3L119.7,851.4L118.9,851.7L118.2,852.0L117.6,852.4L117.0,852.9L116.5,853.5L116.2,854.2L115.8,855.0L115.6,855.9L115.5,856.9L115.4,858.2L115.5,859.6L115.6,860.6L115.8,861.5L116.2,862.3L116.5,863.0L117.0,863.6L117.6,864.1L118.2,864.5L118.9,864.8L119.7,865.1L120.6,865.2L121.9,865.2L123.2,865.2L124.1,865.1L124.9,864.8L125.6,864.5L126.2,864.1L126.8,863.6L127.3,863.0L127.6,862.3L128.0,861.5L128.2,860.6L128.3,859.6L128.3,858.3 M146.1,853.7L145.6,853.0L145.0,852.5L144.4,852.0L143.6,851.7L142.8,851.4L142.0,851.3L140.8,851.3L139.8,851.3L139.0,851.5L138.2,851.8L137.5,852.2L136.9,852.7L136.4,853.3L135.9,854.0L135.5,854.7L135.2,855.6L135.1,856.5L135.0,857.6L135.0,858.9L135.1,860.0L135.2,860.9L135.5,861.8L135.9,862.5L136.4,863.2L136.9,863.8L137.5,864.3L138.2,864.7L139.0,865.0L139.8,865.2L140.8,865.2L142.0,865.2L142.8,865.1L143.6,864.8L144.4,864.5L145.0,864.0L145.6,863.5L146.1,862.8 M166.7,858.2L166.6,856.9L166.5,855.9L166.3,855.0L165.9,854.2L165.6,853.5L165.1,852.9L164.5,852.4L163.9,852.0L163.2,851.7L162.4,851.4L161.5,851.3L160.2,851.2L158.9,851.3L158.0,851.4L157.2,851.7L156.5,852.0L155.9,852.4L155.3,852.9L154.8,853.5L154.5,854.2L154.1,855.0L153.9,855.9L153.8,856.9L153.8,858.2L153.8,859.6L153.9,860.6L154.1,861.5L154.5,862.3L154.8,863.0L155.3,863.6L155.9,864.1L156.5,864.5L157.2,864.8L158.0,865.1L158.9,865.2L160.2,865.2L161.5,865.2L162.4,865.1L163.2,864.8L163.9,864.5L164.5,864.1L165.1,863.6L165.6,863.0L165.9,862.3L166.3,861.5L166.5,860.6L166.6,859.6L166.7,858.3 M185.6,843.5L185.6,865.2 M184.3,853.7L183.8,853.0L183.2,852.5L182.5,852.0L181.8,851.7L180.9,851.4L180.0,851.3L178.8,851.3L177.8,851.3L176.9,851.5L176.1,851.8L175.3,852.2L174.7,852.7L174.1,853.3L173.7,854.0L173.3,854.7L173.0,855.6L172.8,856.5L172.7,857.6L172.7,858.9L172.8,860.0L173.0,860.9L173.3,861.8L173.7,862.5L174.1,863.2L174.7,863.8L175.3,864.3L176.1,864.7L176.9,865.0L177.8,865.2L178.8,865.2L180.0,865.2L180.9,865.1L181.8,864.8L182.5,864.5L183.2,864.0L183.8,863.5L184.3,862.8 M191.5,858.2L205.0,858.2L205.0,858.2L204.9,857.0L204.7,856.0L204.5,855.2L204.1,854.4L203.7,853.6L203.1,853.0L202.5,852.4L201.8,852.0L201.0,851.7L200.1,851.4L199.1,851.3L197.9,851.3L196.8,851.3L195.9,851.5L195.1,851.8L194.3,852.2L193.7,852.7L193.1,853.3L192.6,854.0L192.2,854.8L191.9,855.6L191.7,856.5L191.6,857.6L191.6,858.9L191.7,860.0L191.9,860.9L192.2,861.8L192.6,862.5L193.1,863.2L193.7,863.8L194.4,864.3L195.1,864.7L196.0,865.0L196.9,865.2L197.9,865.2L199.2,865.2L200.2,865.1L201.0,864.8L201.8,864.5L202.5,864.0L203.2,863.5L203.7,862.8 M211.0,865.2L211.0,851.2 M211.0,860.3L211.1,858.8L211.3,857.5L211.6,856.4L212.1,855.4L212.6,854.4L213.3,853.6L214.1,852.9L214.9,852.3L215.9,851.9L217.0,851.5L218.2,851.3L219.7,851.2L223.3,851.4 M249.2,865.2L249.2,843.5L256.2,843.5L256.2,843.5L257.8,843.5L259.2,843.8L260.4,844.2L261.5,844.7L262.5,845.4L263.3,846.3L264.1,847.3L264.7,848.4L265.2,849.6L265.6,851.0L265.8,852.5L265.8,854.4L265.8,856.2L265.6,857.7L265.2,859.1L264.7,860.3L264.1,861.4L263.3,862.4L262.5,863.3L261.5,864.0L260.4,864.5L259.2,864.9L257.8,865.2L256.2,865.2L249.2,865.2 M270.8,851.2L278.1,865.2 M285.4,851.2L275.1,870.6L275.2,870.7L274.9,871.3L274.3,871.8L273.6,872.2L272.8,872.4L271.8,872.5L270.6,872.5 M292.0,865.2L292.0,851.2 M292.0,856.6L292.3,855.1L292.5,854.3L292.9,853.6L293.3,853.0L293.9,852.5L294.4,852.1L295.1,851.7L295.8,851.5L296.6,851.3L297.6,851.3L298.6,851.3L299.5,851.4L300.2,851.6L300.9,851.9L301.5,852.3L302.1,852.8L302.5,853.4L302.9,854.1L303.2,854.8L303.5,855.6L303.6,856.5L303.7,857.5L303.7,865.2 M323.1,851.2L323.1,865.2 M322.0,853.7L321.5,853.0L320.9,852.5L320.3,852.0L319.6,851.7L318.9,851.4L318.0,851.3L316.9,851.3L316.0,851.3L315.2,851.5L314.5,851.8L313.8,852.2L313.2,852.7L312.7,853.3L312.3,854.0L311.9,854.7L311.6,855.6L311.5,856.5L311.4,857.6L311.4,858.9L311.5,860.0L311.6,860.9L311.9,861.8L312.3,862.5L312.7,863.2L313.2,863.8L313.8,864.3L314.5,864.7L315.2,865.0L316.0,865.2L316.9,865.2L318.0,865.2L318.9,865.1L319.6,864.8L320.3,864.5L320.9,864.0L321.5,863.5L322.0,862.8 M330.2,865.2L330.2,851.2 M330.2,856.6L330.5,855.1L330.8,854.3L331.1,853.6L331.5,853.0L331.9,852.5L332.4,852.1L333.0,851.7L333.7,851.5L334.4,851.3L335.2,851.3L336.1,851.3L336.9,851.4L337.5,851.6L338.1,851.9L338.7,852.3L339.2,852.8L339.6,853.4L339.9,854.1L340.2,854.8L340.4,855.6L340.5,856.5L340.6,857.5L340.6,865.2 M340.6,856.6L340.8,855.1L341.1,854.3L341.4,853.6L341.8,853.0L342.2,852.5L342.7,852.1L343.3,851.7L344.0,851.5L344.7,851.3L345.5,851.3L346.4,851.3L347.2,851.4L347.8,851.6L348.4,851.9L349.0,852.3L349.5,852.8L349.9,853.4L350.2,854.1L350.5,854.8L350.7,855.6L350.8,856.5L350.9,857.5L350.9,865.2 M356.9,851.2L356.9,865.2 M375.6,853.7L375.1,853.0L374.4,852.5L373.7,852.0L372.9,851.7L372.0,851.4L371.0,851.3L369.7,851.3L368.6,851.3L367.6,851.5L366.7,851.8L366.0,852.2L365.3,852.7L364.6,853.3L364.1,854.0L363.7,854.7L363.4,855.6L363.2,856.5L363.1,857.6L363.1,858.9L363.2,860.0L363.4,860.9L363.7,861.8L364.1,862.5L364.6,863.2L365.3,863.8L366.0,864.3L366.7,864.7L367.6,865.0L368.6,865.2L369.7,865.2L371.0,865.2L372.0,865.1L372.9,864.8L373.7,864.5L374.4,864.0L375.1,863.5L375.6,862.8 M402.5,865.2L402.5,843.5L412.5,843.5L412.5,843.5L413.7,843.5L414.6,843.6L415.4,843.8L416.2,844.1L416.9,844.4L417.5,844.8L418.0,845.3L418.5,845.8L418.8,846.4L419.1,847.1L419.2,847.8L419.3,848.7L419.2,849.6L419.1,850.3L418.8,851.0L418.5,851.5L418.0,852.1L417.5,852.6L416.9,853.0L416.2,853.3L415.4,853.6L414.6,853.8L413.7,853.9L412.5,853.9L402.5,853.9 M411.7,853.9L419.3,865.2 M438.1,851.2L438.1,865.2 M436.9,853.7L436.4,853.0L435.8,852.5L435.2,852.0L434.4,851.7L433.6,851.4L432.8,851.3L431.6,851.3L430.6,851.3L429.8,851.5L429.0,851.8L428.3,852.2L427.7,852.7L427.2,853.3L426.7,854.0L426.3,854.7L426.0,855.6L425.9,856.5L425.8,857.6L425.8,858.9L425.9,860.0L426.0,860.9L426.3,861.8L426.7,862.5L427.2,863.2L427.7,863.8L428.3,864.3L429.0,864.7L429.8,865.0L430.6,865.2L431.6,865.2L432.8,865.2L433.6,865.1L434.4,864.8L435.2,864.5L435.8,864.0L436.4,863.5L436.9,862.8 M444.7,865.2L444.7,851.2 M444.7,856.6L445.0,855.1L445.3,854.3L445.7,853.6L446.2,853.0L446.7,852.5L447.4,852.1L448.1,851.7L448.9,851.5L449.8,851.3L450.8,851.3L452.0,851.3L453.0,851.4L453.8,851.6L454.5,851.9L455.2,852.3L455.8,852.8L456.3,853.4L456.8,854.1L457.1,854.8L457.4,855.6L457.5,856.5L457.6,857.5L457.6,865.2 M477.0,851.2L477.0,868.8L477.0,868.8L476.9,869.4L476.8,869.9L476.5,870.4L476.2,870.8L475.8,871.2L475.3,871.5L474.7,871.8L474.1,872.1L473.3,872.3L472.5,872.4L471.6,872.5L470.6,872.5L469.5,872.5L468.6,872.4L467.8,872.3L467.0,872.1L466.4,871.8L465.8,871.5L465.3,871.2L464.9,870.8 M475.8,853.7L475.2,853.0L474.6,852.5L474.0,852.0L473.2,851.7L472.4,851.4L471.4,851.3L470.2,851.3L469.2,851.3L468.3,851.5L467.5,851.8L466.8,852.2L466.2,852.7L465.6,853.3L465.1,854.0L464.8,854.7L464.5,855.6L464.3,856.5L464.2,857.6L464.2,858.9L464.3,860.0L464.5,860.9L464.8,861.8L465.1,862.5L465.6,863.2L466.2,863.8L466.8,864.3L467.5,864.7L468.3,865.0L469.2,865.2L470.2,865.2L471.4,865.2L472.4,865.1L473.2,864.8L474.0,864.5L474.6,864.0L475.2,863.5L475.8,862.8 M483.1,858.2L495.9,858.2L495.9,858.2L495.8,857.0L495.7,856.0L495.4,855.2L495.1,854.4L494.6,853.6L494.1,853.0L493.5,852.4L492.8,852.0L492.1,851.7L491.2,851.4L490.3,851.3L489.1,851.3L488.1,851.3L487.2,851.5L486.4,851.8L485.7,852.2L485.1,852.7L484.5,853.3L484.0,854.0L483.6,854.8L483.4,855.6L483.2,856.5L483.1,857.6L483.1,858.9L483.2,860.0L483.4,860.9L483.7,861.8L484.1,862.5L484.5,863.2L485.1,863.8L485.7,864.3L486.5,864.7L487.3,865.0L488.1,865.2L489.2,865.2L490.3,865.2L491.3,865.1L492.1,864.8L492.9,864.5L493.5,864.0L494.1,863.5L494.7,862.8" fill="none" stroke="#000" stroke-width="2.7" stroke-linecap="round" stroke-linejoin="round"/>
<circle cx="356.95" cy="843.45" r="1.67" fill="#000"/>
<path d="M800.0,843.2L808.4,865.0L816.8,843.2 M834.6,858.0L834.6,856.7L834.5,855.7L834.3,854.8L833.9,854.0L833.6,853.3L833.1,852.7L832.5,852.2L831.9,851.8L831.2,851.5L830.4,851.2L829.5,851.1L828.2,851.0L826.9,851.1L826.0,851.2L825.2,851.5L824.5,851.8L823.9,852.2L823.3,852.7L822.8,853.3L822.5,854.0L822.1,854.8L821.9,855.7L821.8,856.7L821.8,858.0L821.8,859.4L821.9,860.4L822.1,861.3L822.5,862.1L822.8,862.8L823.3,863.4L823.9,863.9L824.5,864.3L825.2,864.6L826.0,864.9L826.9,865.0L828.2,865.0L829.5,865.0L830.4,864.9L831.2,864.6L831.9,864.3L832.5,863.9L833.1,863.4L833.6,862.8L833.9,862.1L834.3,861.3L834.5,860.4L834.6,859.4L834.6,858.1 M852.4,853.5L851.9,852.8L851.3,852.3L850.7,851.8L849.9,851.5L849.1,851.2L848.3,851.1L847.1,851.1L846.1,851.1L845.3,851.3L844.5,851.6L843.8,852.0L843.2,852.5L842.7,853.1L842.2,853.8L841.8,854.5L841.5,855.4L841.4,856.3L841.3,857.4L841.3,858.7L841.4,859.8L841.5,860.7L841.8,861.6L842.2,862.3L842.7,863.0L843.2,863.6L843.8,864.1L844.5,864.5L845.3,864.8L846.1,865.0L847.1,865.0L848.3,865.0L849.1,864.9L849.9,864.6L850.7,864.3L851.3,863.8L851.9,863.3L852.4,862.6 M872.9,858.0L872.9,856.7L872.8,855.7L872.6,854.8L872.2,854.0L871.9,853.3L871.4,852.7L870.8,852.2L870.2,851.8L869.5,851.5L868.7,851.2L867.8,851.1L866.5,851.0L865.2,851.1L864.3,851.2L863.5,851.5L862.8,851.8L862.2,852.2L861.6,852.7L861.1,853.3L860.8,854.0L860.4,854.8L860.2,855.7L860.1,856.7L860.0,858.0L860.1,859.4L860.2,860.4L860.4,861.3L860.8,862.1L861.1,862.8L861.6,863.4L862.2,863.9L862.8,864.3L863.5,864.6L864.3,864.9L865.2,865.0L866.5,865.0L867.8,865.0L868.7,864.9L869.5,864.6L870.2,864.3L870.8,863.9L871.4,863.4L871.9,862.8L872.2,862.1L872.6,861.3L872.8,860.4L872.9,859.4L872.9,858.1 M891.8,843.2L891.8,865.0 M890.6,853.5L890.1,852.8L889.5,852.3L888.8,851.8L888.1,851.5L887.2,851.2L886.3,851.1L885.1,851.1L884.1,851.1L883.2,851.3L882.4,851.6L881.6,852.0L881.0,852.5L880.4,853.1L880.0,853.8L879.6,854.5L879.3,855.4L879.1,856.3L879.0,857.4L879.0,858.7L879.1,859.8L879.3,860.7L879.6,861.6L880.0,862.3L880.4,863.0L881.0,863.6L881.6,864.1L882.4,864.5L883.2,864.8L884.1,865.0L885.1,865.0L886.3,865.0L887.2,864.9L888.1,864.6L888.8,864.3L889.5,863.8L890.1,863.3L890.6,862.6 M897.8,858.0L911.2,858.0L911.2,858.0L911.2,856.8L911.0,855.8L910.8,855.0L910.4,854.2L910.0,853.4L909.4,852.8L908.8,852.2L908.1,851.8L907.3,851.5L906.4,851.2L905.4,851.1L904.2,851.1L903.1,851.1L902.2,851.3L901.4,851.6L900.6,852.0L900.0,852.5L899.4,853.1L898.9,853.8L898.5,854.6L898.2,855.4L898.0,856.3L897.9,857.4L897.9,858.7L898.0,859.8L898.2,860.7L898.5,861.6L898.9,862.3L899.4,863.0L900.0,863.6L900.7,864.1L901.4,864.5L902.3,864.8L903.2,865.0L904.2,865.0L905.5,865.0L906.5,864.9L907.3,864.6L908.1,864.3L908.8,863.8L909.5,863.3L910.0,862.6 M917.3,865.0L917.3,851.0 M917.3,860.1L917.4,858.6L917.6,857.3L917.9,856.2L918.4,855.2L918.9,854.2L919.6,853.4L920.4,852.7L921.2,852.1L922.2,851.7L923.3,851.3L924.5,851.1L926.0,851.0L929.6,851.2 M955.4,865.0L955.4,843.2L962.5,843.2L962.5,843.2L964.1,843.3L965.5,843.6L966.7,844.0L967.8,844.5L968.8,845.2L969.6,846.1L970.4,847.1L971.0,848.2L971.5,849.4L971.9,850.8L972.1,852.3L972.1,854.1L972.1,856.0L971.9,857.5L971.5,858.9L971.0,860.1L970.4,861.2L969.6,862.2L968.8,863.1L967.8,863.8L966.7,864.3L965.5,864.7L964.1,865.0L962.5,865.0L955.4,865.0 M977.0,851.0L984.3,865.0 M991.6,851.0L981.4,870.4L981.5,870.5L981.2,871.1L980.6,871.6L979.9,872.0L979.1,872.2L978.1,872.3L976.9,872.3 M998.2,865.0L998.2,851.0 M998.2,856.4L998.6,854.9L998.8,854.1L999.2,853.4L999.6,852.8L1000.2,852.3L1000.7,851.9L1001.4,851.5L1002.1,851.3L1002.9,851.1L1003.9,851.1L1004.9,851.1L1005.8,851.2L1006.5,851.4L1007.2,851.7L1007.8,852.1L1008.4,852.6L1008.8,853.2L1009.2,853.9L1009.5,854.6L1009.8,855.4L1009.9,856.3L1010.0,857.3L1010.0,865.0 M1029.3,851.0L1029.3,865.0 M1028.3,853.5L1027.8,852.8L1027.2,852.3L1026.6,851.8L1025.9,851.5L1025.2,851.2L1024.3,851.1L1023.2,851.1L1022.3,851.1L1021.5,851.3L1020.8,851.6L1020.1,852.0L1019.5,852.5L1019.0,853.1L1018.6,853.8L1018.2,854.5L1017.9,855.4L1017.8,856.3L1017.7,857.4L1017.7,858.7L1017.8,859.8L1017.9,860.7L1018.2,861.6L1018.6,862.3L1019.0,863.0L1019.5,863.6L1020.1,864.1L1020.8,864.5L1021.5,864.8L1022.3,865.0L1023.2,865.0L1024.3,865.0L1025.2,864.9L1025.9,864.6L1026.6,864.3L1027.2,863.8L1027.8,863.3L1028.3,862.6 M1036.5,865.0L1036.5,851.0 M1036.5,856.4L1036.8,854.9L1037.1,854.1L1037.4,853.4L1037.8,852.8L1038.2,852.3L1038.7,851.9L1039.3,851.5L1040.0,851.3L1040.7,851.1L1041.5,851.1L1042.4,851.1L1043.2,851.2L1043.8,851.4L1044.4,851.7L1045.0,852.1L1045.5,852.6L1045.9,853.2L1046.2,853.9L1046.5,854.6L1046.7,855.4L1046.8,856.3L1046.8,857.3L1046.8,865.0 M1046.8,856.4L1047.1,854.9L1047.4,854.1L1047.7,853.4L1048.1,852.8L1048.5,852.3L1049.0,851.9L1049.6,851.5L1050.3,851.3L1051.0,851.1L1051.8,851.1L1052.7,851.1L1053.5,851.2L1054.1,851.4L1054.7,851.7L1055.3,852.1L1055.8,852.6L1056.2,853.2L1056.5,853.9L1056.8,854.6L1057.0,855.4L1057.1,856.3L1057.2,857.3L1057.2,865.0 M1063.2,851.0L1063.2,865.0 M1081.9,853.5L1081.4,852.8L1080.7,852.3L1080.0,851.8L1079.2,851.5L1078.3,851.2L1077.3,851.1L1076.0,851.1L1074.9,851.1L1073.9,851.3L1073.0,851.6L1072.3,852.0L1071.6,852.5L1070.9,853.1L1070.4,853.8L1070.0,854.5L1069.7,855.4L1069.5,856.3L1069.4,857.4L1069.4,858.7L1069.5,859.8L1069.7,860.7L1070.0,861.6L1070.4,862.3L1070.9,863.0L1071.6,863.6L1072.3,864.1L1073.0,864.5L1073.9,864.8L1074.9,865.0L1076.0,865.0L1077.3,865.0L1078.3,864.9L1079.2,864.6L1080.0,864.3L1080.7,863.8L1081.4,863.3L1081.9,862.6 M1108.8,865.0L1108.8,843.2L1118.8,843.2L1118.8,843.2L1120.0,843.3L1120.9,843.4L1121.7,843.6L1122.5,843.9L1123.2,844.2L1123.8,844.6L1124.3,845.1L1124.8,845.6L1125.1,846.2L1125.4,846.9L1125.5,847.6L1125.5,848.5L1125.5,849.4L1125.4,850.1L1125.1,850.8L1124.8,851.3L1124.3,851.9L1123.8,852.4L1123.2,852.8L1122.5,853.1L1121.7,853.4L1120.9,853.6L1120.0,853.7L1118.8,853.7L1108.8,853.7 M1118.0,853.7L1125.5,865.0 M1144.3,851.0L1144.3,865.0 M1143.2,853.5L1142.7,852.8L1142.1,852.3L1141.5,851.8L1140.7,851.5L1139.9,851.2L1139.1,851.1L1137.9,851.1L1136.9,851.1L1136.1,851.3L1135.3,851.6L1134.6,852.0L1134.0,852.5L1133.5,853.1L1133.0,853.8L1132.6,854.5L1132.3,855.4L1132.2,856.3L1132.1,857.4L1132.1,858.7L1132.2,859.8L1132.3,860.7L1132.6,861.6L1133.0,862.3L1133.5,863.0L1134.0,863.6L1134.6,864.1L1135.3,864.5L1136.1,864.8L1136.9,865.0L1137.9,865.0L1139.1,865.0L1139.9,864.9L1140.7,864.6L1141.5,864.3L1142.1,863.8L1142.7,863.3L1143.2,862.6 M1151.0,865.0L1151.0,851.0 M1151.0,856.4L1151.3,854.9L1151.6,854.1L1152.0,853.4L1152.5,852.8L1153.0,852.3L1153.7,851.9L1154.4,851.5L1155.2,851.3L1156.1,851.1L1157.1,851.1L1158.3,851.1L1159.3,851.2L1160.1,851.4L1160.8,851.7L1161.5,852.1L1162.1,852.6L1162.6,853.2L1163.1,853.9L1163.4,854.6L1163.7,855.4L1163.8,856.3L1163.8,857.3L1163.8,865.0 M1183.2,851.0L1183.2,868.5L1183.2,868.5L1183.2,869.2L1183.1,869.7L1182.8,870.2L1182.5,870.6L1182.1,871.0L1181.6,871.3L1181.0,871.6L1180.4,871.9L1179.6,872.1L1178.8,872.2L1177.9,872.3L1176.8,872.3L1175.8,872.3L1174.9,872.2L1174.1,872.1L1173.3,871.9L1172.7,871.6L1172.1,871.3L1171.6,871.0L1171.2,870.6 M1182.1,853.5L1181.5,852.8L1180.9,852.3L1180.3,851.8L1179.5,851.5L1178.7,851.2L1177.7,851.1L1176.5,851.1L1175.5,851.1L1174.6,851.3L1173.8,851.6L1173.1,852.0L1172.5,852.5L1171.9,853.1L1171.4,853.8L1171.1,854.5L1170.8,855.4L1170.6,856.3L1170.5,857.4L1170.5,858.7L1170.6,859.8L1170.8,860.7L1171.1,861.6L1171.4,862.3L1171.9,863.0L1172.5,863.6L1173.1,864.1L1173.8,864.5L1174.6,864.8L1175.5,865.0L1176.5,865.0L1177.7,865.0L1178.7,864.9L1179.5,864.6L1180.3,864.3L1180.9,863.8L1181.5,863.3L1182.1,862.6 M1189.3,858.0L1202.2,858.0L1202.2,858.0L1202.1,856.8L1202.0,855.8L1201.7,855.0L1201.4,854.2L1200.9,853.4L1200.4,852.8L1199.8,852.2L1199.1,851.8L1198.4,851.5L1197.5,851.2L1196.6,851.1L1195.4,851.1L1194.4,851.1L1193.5,851.3L1192.7,851.6L1192.0,852.0L1191.4,852.5L1190.8,853.1L1190.3,853.8L1189.9,854.6L1189.7,855.4L1189.5,856.3L1189.4,857.4L1189.4,858.7L1189.5,859.8L1189.7,860.7L1190.0,861.6L1190.4,862.3L1190.8,863.0L1191.4,863.6L1192.0,864.1L1192.8,864.5L1193.6,864.8L1194.4,865.0L1195.5,865.0L1196.6,865.0L1197.6,864.9L1198.4,864.6L1199.2,864.3L1199.8,863.8L1200.4,863.3L1201.0,862.6" fill="none" stroke="#000" stroke-width="2.7" stroke-linecap="round" stroke-linejoin="round"/>
<circle cx="1063.25" cy="843.25" r="1.67" fill="#000"/>
<path d="M733.6,813.6L735.6,810.5L735.6,827.5 M733.6,827.5L737.5,827.5 M754.3,819.0L754.3,817.3L754.2,816.1L754.1,815.1L753.9,814.1L753.6,813.3L753.3,812.6L753.0,812.0L752.6,811.5L752.1,811.1L751.6,810.8L751.0,810.6L750.2,810.5L749.3,810.6L748.7,810.8L748.2,811.1L747.7,811.5L747.3,812.0L747.0,812.6L746.7,813.3L746.4,814.1L746.2,815.1L746.1,816.1L746.0,817.3L745.9,819.0L746.0,820.7L746.1,821.9L746.2,822.9L746.4,823.9L746.7,824.7L747.0,825.4L747.3,826.0L747.7,826.5L748.2,826.9L748.7,827.2L749.3,827.4L750.1,827.5L751.0,827.4L751.6,827.2L752.1,826.9L752.6,826.5L753.0,826.0L753.3,825.4L753.6,824.7L753.9,823.9L754.1,822.9L754.2,821.9L754.3,820.7L754.3,819.0 M768.7,819.0L768.7,817.3L768.6,816.1L768.5,815.1L768.3,814.1L768.0,813.3L767.7,812.6L767.4,812.0L767.0,811.5L766.5,811.1L766.0,810.8L765.4,810.6L764.6,810.5L763.7,810.6L763.1,810.8L762.6,811.1L762.1,811.5L761.7,812.0L761.4,812.6L761.1,813.3L760.8,814.1L760.6,815.1L760.5,816.1L760.4,817.3L760.3,819.0L760.4,820.7L760.5,821.9L760.6,822.9L760.8,823.9L761.1,824.7L761.4,825.4L761.7,826.0L762.1,826.5L762.6,826.9L763.1,827.2L763.7,827.4L764.5,827.5L765.4,827.4L766.0,827.2L766.5,826.9L767.0,826.5L767.4,826.0L767.7,825.4L768.0,824.7L768.3,823.9L768.5,822.9L768.6,821.9L768.7,820.7L768.7,819.0 M783.1,813.6L785.0,810.5L785.0,827.5 M783.1,827.5L786.9,827.5 M803.3,819.0L803.3,817.3L803.2,816.1L803.1,815.1L802.9,814.1L802.6,813.3L802.3,812.6L802.0,812.0L801.6,811.5L801.1,811.1L800.6,810.8L800.0,810.6L799.2,810.5L798.3,810.6L797.7,810.8L797.2,811.1L796.7,811.5L796.3,812.0L796.0,812.6L795.7,813.3L795.4,814.1L795.2,815.1L795.1,816.1L795.0,817.3L794.9,819.0L795.0,820.7L795.1,821.9L795.2,822.9L795.4,823.9L795.7,824.7L796.0,825.4L796.3,826.0L796.7,826.5L797.2,826.9L797.7,827.2L798.3,827.4L799.1,827.5L800.0,827.4L800.6,827.2L801.1,826.9L801.6,826.5L802.0,826.0L802.3,825.4L802.6,824.7L802.9,823.9L803.1,822.9L803.2,821.9L803.3,820.7L803.3,819.0 M817.7,819.0L817.7,817.3L817.6,816.1L817.5,815.1L817.3,814.1L817.0,813.3L816.7,812.6L816.4,812.0L815.9,811.5L815.5,811.1L814.9,810.8L814.3,810.6L813.5,810.5L812.7,810.6L812.1,810.8L811.5,811.1L811.1,811.5L810.6,812.0L810.3,812.6L810.0,813.3L809.7,814.1L809.5,815.1L809.4,816.1L809.3,817.3L809.2,819.0L809.3,820.7L809.4,821.9L809.5,822.9L809.7,823.9L810.0,824.7L810.3,825.4L810.6,826.0L811.1,826.5L811.5,826.9L812.1,827.2L812.7,827.4L813.5,827.5L814.3,827.4L814.9,827.2L815.5,826.9L815.9,826.5L816.4,826.0L816.7,825.4L817.0,824.7L817.3,823.9L817.5,822.9L817.6,821.9L817.7,820.7L817.7,819.0 M822.8,827.5L835.4,810.5 M827.9,813.9L827.8,812.9L827.6,812.1L827.2,811.4L826.7,810.9L826.1,810.7L825.4,810.5L824.6,810.7L824.0,810.9L823.5,811.4L823.1,812.1L822.9,812.9L822.8,813.9L822.9,815.0L823.1,815.8L823.5,816.4L824.0,816.9L824.6,817.2L825.4,817.3L826.1,817.2L826.7,816.9L827.2,816.4L827.6,815.8L827.8,815.0L827.9,813.9 M835.4,824.1L835.4,823.0L835.2,822.2L834.8,821.6L834.3,821.1L833.7,820.8L832.9,820.7L832.2,820.8L831.6,821.1L831.1,821.6L830.7,822.2L830.5,823.0L830.4,824.1L830.5,825.1L830.7,825.9L831.1,826.6L831.6,827.1L832.2,827.3L832.9,827.5L833.7,827.3L834.3,827.1L834.8,826.6L835.2,825.9L835.4,825.1L835.4,824.1 M827.9,813.9L831.7,812.2L835.4,810.5 M850.0,813.6L852.1,810.5L852.1,827.5 M850.0,827.5L854.1,827.5 M871.2,819.0L871.2,817.3L871.1,816.1L871.0,815.1L870.7,814.1L870.4,813.3L870.1,812.6L869.7,812.0L869.2,811.5L868.7,811.1L868.1,810.8L867.4,810.6L866.5,810.5L865.6,810.6L864.9,810.8L864.3,811.1L863.8,811.5L863.3,812.0L862.9,812.6L862.6,813.3L862.3,814.1L862.0,815.1L861.9,816.1L861.8,817.3L861.8,819.0L861.8,820.7L861.9,821.9L862.0,822.9L862.3,823.9L862.6,824.7L862.9,825.4L863.3,826.0L863.8,826.5L864.3,826.9L864.9,827.2L865.6,827.4L866.5,827.5L867.4,827.4L868.1,827.2L868.7,826.9L869.2,826.5L869.7,826.0L870.1,825.4L870.4,824.7L870.7,823.9L871.0,822.9L871.1,821.9L871.2,820.7L871.2,819.0 M886.0,819.0L886.0,817.3L885.9,816.1L885.8,815.1L885.5,814.1L885.2,813.3L884.9,812.6L884.5,812.0L884.0,811.5L883.5,811.1L882.9,810.8L882.2,810.6L881.3,810.5L880.3,810.6L879.6,810.8L879.0,811.1L878.5,811.5L878.0,812.0L877.6,812.6L877.3,813.3L877.0,814.1L876.7,815.1L876.6,816.1L876.5,817.3L876.4,819.0L876.5,820.7L876.6,821.9L876.7,822.9L877.0,823.9L877.3,824.7L877.6,825.4L878.0,826.0L878.5,826.5L879.0,826.9L879.6,827.2L880.3,827.4L881.2,827.5L882.2,827.4L882.9,827.2L883.5,826.9L884.0,826.5L884.5,826.0L884.9,825.4L885.2,824.7L885.5,823.9L885.8,822.9L885.9,821.9L886.0,820.7L886.0,819.0 M905.4,812.3L904.9,811.7L904.3,811.2L903.7,810.9L903.0,810.7L902.2,810.6L901.2,810.6L900.5,810.7L899.8,811.0L899.2,811.4L898.7,812.0L898.2,812.6L897.8,813.4L897.4,814.2L897.1,815.2L896.9,816.2L896.8,817.4L896.8,818.7L896.8,820.3L896.9,821.5L897.1,822.6L897.3,823.5L897.7,824.4L898.1,825.2L898.5,825.9L899.1,826.4L899.6,826.9L900.3,827.2L901.0,827.4L901.9,827.5L901.9,827.5L902.8,827.4L903.5,827.3L904.1,827.1L904.7,826.9L905.2,826.5L905.7,826.1L906.1,825.7L906.4,825.2L906.7,824.6L906.9,823.9L907.0,823.2L907.0,822.4L907.0,821.5L906.9,820.8L906.7,820.2L906.4,819.6L906.1,819.1L905.7,818.6L905.2,818.2L904.7,817.9L904.1,817.6L903.5,817.5L902.8,817.3L901.9,817.3L901.0,817.3L900.3,817.5L899.7,817.6L899.1,817.9L898.6,818.2L898.1,818.6L897.7,819.1L897.4,819.6L897.1,820.2L896.9,820.8L896.8,821.5L896.8,822.4 M920.2,819.0L920.2,817.3L920.1,816.1L920.0,815.1L919.8,814.1L919.5,813.3L919.2,812.6L918.8,812.0L918.4,811.5L917.9,811.1L917.3,810.8L916.7,810.6L915.9,810.5L915.0,810.6L914.4,810.8L913.8,811.1L913.3,811.5L912.9,812.0L912.5,812.6L912.2,813.3L911.9,814.1L911.7,815.1L911.6,816.1L911.5,817.3L911.4,819.0L911.5,820.7L911.6,821.9L911.7,822.9L911.9,823.9L912.2,824.7L912.5,825.4L912.9,826.0L913.3,826.5L913.8,826.9L914.4,827.2L915.0,827.4L915.8,827.5L916.7,827.4L917.3,827.2L917.9,826.9L918.4,826.5L918.8,826.0L919.2,825.4L919.5,824.7L919.8,823.9L920.0,822.9L920.1,821.9L920.2,820.7L920.2,819.0 M925.4,827.5L937.3,810.5 M930.2,813.9L930.1,812.9L929.9,812.1L929.6,811.4L929.1,810.9L928.6,810.7L927.8,810.5L927.1,810.7L926.5,810.9L926.1,811.4L925.7,812.1L925.5,812.9L925.4,813.9L925.5,815.0L925.7,815.8L926.1,816.4L926.5,816.9L927.1,817.2L927.8,817.3L928.6,817.2L929.1,816.9L929.6,816.4L929.9,815.8L930.1,815.0L930.2,813.9 M937.3,824.1L937.3,823.0L937.1,822.2L936.7,821.6L936.3,821.1L935.7,820.8L935.0,820.7L934.2,820.8L933.7,821.1L933.2,821.6L932.9,822.2L932.7,823.0L932.6,824.1L932.7,825.1L932.9,825.9L933.2,826.6L933.7,827.1L934.2,827.3L935.0,827.5L935.7,827.3L936.3,827.1L936.7,826.6L937.1,825.9L937.3,825.1L937.3,824.1 M930.2,813.9L933.8,812.2L937.3,810.5 M958.9,813.6L961.4,810.5L961.4,827.5 M958.9,827.5L963.8,827.5 M980.9,819.0L980.9,817.3L980.8,816.1L980.7,815.1L980.4,814.1L980.1,813.3L979.8,812.6L979.4,812.0L978.9,811.5L978.4,811.1L977.8,810.8L977.1,810.6L976.2,810.5L975.2,810.6L974.5,810.8L973.9,811.1L973.4,811.5L972.9,812.0L972.5,812.6L972.2,813.3L971.9,814.1L971.6,815.1L971.5,816.1L971.4,817.3L971.3,819.0L971.4,820.7L971.5,821.9L971.6,822.9L971.9,823.9L972.2,824.7L972.5,825.4L972.9,826.0L973.4,826.5L973.9,826.9L974.5,827.2L975.2,827.4L976.1,827.5L977.1,827.4L977.8,827.2L978.4,826.9L978.9,826.5L979.4,826.0L979.8,825.4L980.1,824.7L980.4,823.9L980.7,822.9L980.8,821.9L980.9,820.7L980.9,819.0 M995.6,819.0L995.6,817.3L995.5,816.1L995.4,815.1L995.1,814.1L994.8,813.3L994.5,812.6L994.1,812.0L993.6,811.5L993.1,811.1L992.5,810.8L991.8,810.6L990.9,810.5L990.0,810.6L989.3,810.8L988.7,811.1L988.2,811.5L987.7,812.0L987.3,812.6L987.0,813.3L986.7,814.1L986.4,815.1L986.3,816.1L986.2,817.3L986.1,819.0L986.2,820.7L986.3,821.9L986.4,822.9L986.7,823.9L987.0,824.7L987.3,825.4L987.7,826.0L988.2,826.5L988.7,826.9L989.3,827.2L990.0,827.4L990.9,827.5L991.8,827.4L992.5,827.2L993.1,826.9L993.6,826.5L994.1,826.0L994.5,825.4L994.8,824.7L995.1,823.9L995.4,822.9L995.5,821.9L995.6,820.7L995.6,819.0 M1013.5,827.5L1013.5,810.5L1005.5,822.4L1016.6,822.4 M1030.0,819.0L1029.9,817.3L1029.8,816.1L1029.7,815.1L1029.4,814.1L1029.1,813.3L1028.8,812.6L1028.4,812.0L1027.9,811.5L1027.4,811.1L1026.8,810.8L1026.1,810.6L1025.2,810.5L1024.2,810.6L1023.5,810.8L1022.9,811.1L1022.4,811.5L1021.9,812.0L1021.5,812.6L1021.2,813.3L1020.9,814.1L1020.6,815.1L1020.5,816.1L1020.4,817.3L1020.3,819.0L1020.4,820.7L1020.5,821.9L1020.6,822.9L1020.9,823.9L1021.2,824.7L1021.5,825.4L1021.9,826.0L1022.4,826.5L1022.9,826.9L1023.5,827.2L1024.2,827.4L1025.1,827.5L1026.1,827.4L1026.8,827.2L1027.4,826.9L1027.9,826.5L1028.4,826.0L1028.8,825.4L1029.1,824.7L1029.4,823.9L1029.7,822.9L1029.8,821.9L1029.9,820.7L1030.0,819.0 M1033.5,827.5L1046.2,810.5 M1038.6,813.9L1038.6,812.9L1038.3,812.1L1038.0,811.4L1037.5,810.9L1036.9,810.7L1036.1,810.5L1035.3,810.7L1034.7,810.9L1034.2,811.4L1033.8,812.1L1033.6,812.9L1033.5,813.9L1033.6,815.0L1033.8,815.8L1034.2,816.4L1034.7,816.9L1035.3,817.2L1036.1,817.3L1036.9,817.2L1037.5,816.9L1038.0,816.4L1038.3,815.8L1038.6,815.0L1038.6,813.9 M1046.2,824.1L1046.2,823.0L1046.0,822.2L1045.6,821.6L1045.1,821.1L1044.5,820.8L1043.7,820.7L1042.9,820.8L1042.3,821.1L1041.8,821.6L1041.5,822.2L1041.2,823.0L1041.2,824.1L1041.2,825.1L1041.5,825.9L1041.8,826.6L1042.3,827.1L1042.9,827.3L1043.7,827.5L1044.5,827.3L1045.1,827.1L1045.6,826.6L1046.0,825.9L1046.2,825.1L1046.2,824.1 M1038.6,813.9L1042.4,812.2L1046.2,810.5 M1080.6,812.3L1080.1,811.7L1079.5,811.2L1078.8,810.9L1078.1,810.7L1077.3,810.6L1076.3,810.6L1075.6,810.7L1074.9,811.0L1074.3,811.4L1073.7,812.0L1073.2,812.6L1072.8,813.4L1072.4,814.2L1072.1,815.2L1071.9,816.2L1071.8,817.4L1071.8,818.7L1071.8,820.3L1071.9,821.5L1072.1,822.6L1072.3,823.5L1072.7,824.4L1073.1,825.2L1073.6,825.9L1074.1,826.4L1074.7,826.9L1075.4,827.2L1076.1,827.4L1077.0,827.5L1077.0,827.5L1077.9,827.4L1078.6,827.3L1079.3,827.1L1079.9,826.9L1080.4,826.5L1080.9,826.1L1081.3,825.7L1081.6,825.2L1081.9,824.6L1082.1,823.9L1082.2,823.2L1082.2,822.4L1082.2,821.5L1082.1,820.8L1081.9,820.2L1081.6,819.6L1081.3,819.1L1080.9,818.6L1080.4,818.2L1079.9,817.9L1079.3,817.6L1078.6,817.5L1077.9,817.3L1077.0,817.3L1076.1,817.3L1075.4,817.5L1074.7,817.6L1074.1,817.9L1073.6,818.2L1073.1,818.6L1072.7,819.1L1072.4,819.6L1072.1,820.2L1071.9,820.8L1071.8,821.5L1071.8,822.4 M1096.2,819.0L1096.2,817.3L1096.1,816.1L1096.0,815.1L1095.7,814.1L1095.4,813.3L1095.1,812.6L1094.7,812.0L1094.2,811.5L1093.6,811.1L1093.0,810.8L1092.4,810.6L1091.4,810.5L1090.4,810.6L1089.8,810.8L1089.2,811.1L1088.6,811.5L1088.1,812.0L1087.7,812.6L1087.4,813.3L1087.1,814.1L1086.8,815.1L1086.7,816.1L1086.6,817.3L1086.5,819.0L1086.6,820.7L1086.7,821.9L1086.8,822.9L1087.1,823.9L1087.4,824.7L1087.7,825.4L1088.1,826.0L1088.6,826.5L1089.2,826.9L1089.8,827.2L1090.4,827.4L1091.4,827.5L1092.4,827.4L1093.0,827.2L1093.6,826.9L1094.2,826.5L1094.7,826.0L1095.1,825.4L1095.4,824.7L1095.7,823.9L1096.0,822.9L1096.1,821.9L1096.2,820.7L1096.2,819.0 M1115.4,827.5L1115.4,810.5L1107.2,822.4L1118.5,822.4 M1131.9,819.0L1131.8,817.3L1131.7,816.1L1131.6,815.1L1131.4,814.1L1131.1,813.3L1130.8,812.6L1130.4,812.0L1129.9,811.5L1129.4,811.1L1128.9,810.8L1128.2,810.6L1127.4,810.5L1126.5,810.6L1125.8,810.8L1125.3,811.1L1124.8,811.5L1124.3,812.0L1123.9,812.6L1123.6,813.3L1123.3,814.1L1123.1,815.1L1123.0,816.1L1122.9,817.3L1122.8,819.0L1122.9,820.7L1123.0,821.9L1123.1,822.9L1123.3,823.9L1123.6,824.7L1123.9,825.4L1124.3,826.0L1124.8,826.5L1125.3,826.9L1125.8,827.2L1126.5,827.4L1127.3,827.5L1128.2,827.4L1128.9,827.2L1129.4,826.9L1129.9,826.5L1130.4,826.0L1130.8,825.4L1131.1,824.7L1131.4,823.9L1131.6,822.9L1131.7,821.9L1131.8,820.7L1131.9,819.0 M1136.1,827.5L1148.2,810.5 M1140.9,813.9L1140.9,812.9L1140.7,812.1L1140.3,811.4L1139.9,810.9L1139.3,810.7L1138.5,810.5L1137.8,810.7L1137.2,810.9L1136.8,811.4L1136.4,812.1L1136.2,812.9L1136.1,813.9L1136.2,815.0L1136.4,815.8L1136.8,816.4L1137.2,816.9L1137.8,817.2L1138.5,817.3L1139.3,817.2L1139.9,816.9L1140.3,816.4L1140.7,815.8L1140.9,815.0L1140.9,813.9 M1148.2,824.1L1148.1,823.0L1147.9,822.2L1147.5,821.6L1147.1,821.1L1146.5,820.8L1145.8,820.7L1145.0,820.8L1144.4,821.1L1144.0,821.6L1143.6,822.2L1143.4,823.0L1143.3,824.1L1143.4,825.1L1143.6,825.9L1144.0,826.6L1144.4,827.1L1145.0,827.3L1145.8,827.5L1146.5,827.3L1147.1,827.1L1147.5,826.6L1147.9,825.9L1148.1,825.1L1148.2,824.1 M1140.9,813.9L1144.5,812.2L1148.2,810.5 M1188.9,827.5L1188.9,810.5L1181.3,822.4L1191.9,822.4 M1206.0,819.0L1205.9,817.3L1205.8,816.1L1205.6,815.1L1205.4,814.1L1205.1,813.3L1204.8,812.6L1204.3,812.0L1203.9,811.5L1203.3,811.1L1202.7,810.8L1202.0,810.6L1201.1,810.5L1200.1,810.6L1199.4,810.8L1198.8,811.1L1198.2,811.5L1197.8,812.0L1197.3,812.6L1197.0,813.3L1196.7,814.1L1196.5,815.1L1196.3,816.1L1196.2,817.3L1196.1,819.0L1196.2,820.7L1196.3,821.9L1196.5,822.9L1196.7,823.9L1197.0,824.7L1197.3,825.4L1197.8,826.0L1198.2,826.5L1198.8,826.9L1199.4,827.2L1200.1,827.4L1201.0,827.5L1202.0,827.4L1202.7,827.2L1203.3,826.9L1203.9,826.5L1204.3,826.0L1204.8,825.4L1205.1,824.7L1205.4,823.9L1205.6,822.9L1205.8,821.9L1205.9,820.7L1206.0,819.0 M1224.2,827.5L1224.2,810.5L1216.1,822.4L1227.4,822.4 M1241.5,819.0L1241.4,817.3L1241.3,816.1L1241.2,815.1L1240.9,814.1L1240.6,813.3L1240.3,812.6L1239.9,812.0L1239.4,811.5L1238.8,811.1L1238.2,810.8L1237.6,810.6L1236.6,810.5L1235.6,810.6L1235.0,810.8L1234.4,811.1L1233.8,811.5L1233.3,812.0L1232.9,812.6L1232.6,813.3L1232.3,814.1L1232.0,815.1L1231.9,816.1L1231.8,817.3L1231.8,819.0L1231.8,820.7L1231.9,821.9L1232.0,822.9L1232.3,823.9L1232.6,824.7L1232.9,825.4L1233.3,826.0L1233.8,826.5L1234.4,826.9L1235.0,827.2L1235.6,827.4L1236.6,827.5L1237.6,827.4L1238.2,827.2L1238.8,826.9L1239.4,826.5L1239.9,826.0L1240.3,825.4L1240.6,824.7L1240.9,823.9L1241.2,822.9L1241.3,821.9L1241.4,820.7L1241.5,819.0 M1245.0,827.5L1257.0,810.5 M1249.8,813.9L1249.8,812.9L1249.6,812.1L1249.2,811.4L1248.8,810.9L1248.2,810.7L1247.5,810.5L1246.7,810.7L1246.1,810.9L1245.7,811.4L1245.3,812.1L1245.1,812.9L1245.0,813.9L1245.1,815.0L1245.3,815.8L1245.7,816.4L1246.1,816.9L1246.7,817.2L1247.4,817.3L1248.2,817.2L1248.8,816.9L1249.2,816.4L1249.6,815.8L1249.8,815.0L1249.8,813.9 M1257.0,824.1L1257.0,823.0L1256.8,822.2L1256.4,821.6L1256.0,821.1L1255.4,820.8L1254.6,820.7L1253.9,820.8L1253.3,821.1L1252.9,821.6L1252.5,822.2L1252.3,823.0L1252.2,824.1L1252.3,825.1L1252.5,825.9L1252.9,826.6L1253.3,827.1L1253.9,827.3L1254.6,827.5L1255.4,827.3L1256.0,827.1L1256.4,826.6L1256.8,825.9L1257.0,825.1L1257.0,824.1 M1249.8,813.9L1253.4,812.2L1257.0,810.5" fill="none" stroke="#000" stroke-width="2.1" stroke-linecap="round" stroke-linejoin="round"/>
<circle cx="774.70" cy="827.45" r="1.30" fill="#000"/>
<circle cx="774.70" cy="816.05" r="1.30" fill="#000"/>
<circle cx="891.35" cy="827.45" r="1.30" fill="#000"/>
<circle cx="891.35" cy="816.05" r="1.30" fill="#000"/>
<circle cx="1000.60" cy="827.45" r="1.30" fill="#000"/>
<circle cx="1000.60" cy="816.05" r="1.30" fill="#000"/>
<circle cx="1102.15" cy="827.45" r="1.30" fill="#000"/>
<circle cx="1102.15" cy="816.05" r="1.30" fill="#000"/>
<circle cx="1211.05" cy="827.45" r="1.30" fill="#000"/>
<circle cx="1211.05" cy="816.05" r="1.30" fill="#000"/>
<text transform="matrix(0.1806,0,0,0.2087,763.55,173.50)" font-size="100" font-weight="normal" fill="#000">Y</text>
<text transform="matrix(0.1982,0,0,0.2087,776.01,173.50)" font-size="100" font-weight="normal" fill="#000">N</text>
<text transform="matrix(0.1714,0,0,0.2087,789.73,173.50)" font-size="100" font-weight="normal" fill="#000">H</text>
<text transform="matrix(0.1591,0,0,0.2174,762.98,599.30)" font-size="100" font-weight="normal" fill="#000">O</text>
<text transform="matrix(0.2036,0,0,0.2174,775.57,599.30)" font-size="100" font-weight="normal" fill="#000">N</text>
<text transform="matrix(0.1804,0,0,0.2174,789.56,599.30)" font-size="100" font-weight="normal" fill="#000">H</text>
<text transform="matrix(0.1806,0,0,0.2087,137.95,147.10)" font-size="100" font-weight="normal" fill="#000">Y</text>
<text transform="matrix(0.1982,0,0,0.2087,150.41,147.10)" font-size="100" font-weight="normal" fill="#000">N</text>
<text transform="matrix(0.1714,0,0,0.2087,164.13,147.10)" font-size="100" font-weight="normal" fill="#000">H</text>
<text transform="matrix(0.1591,0,0,0.2174,137.98,584.20)" font-size="100" font-weight="normal" fill="#000">O</text>
<text transform="matrix(0.2036,0,0,0.2174,150.57,584.20)" font-size="100" font-weight="normal" fill="#000">N</text>
<text transform="matrix(0.1804,0,0,0.2174,164.56,584.20)" font-size="100" font-weight="normal" fill="#000">H</text>
</svg>
</body></html>
